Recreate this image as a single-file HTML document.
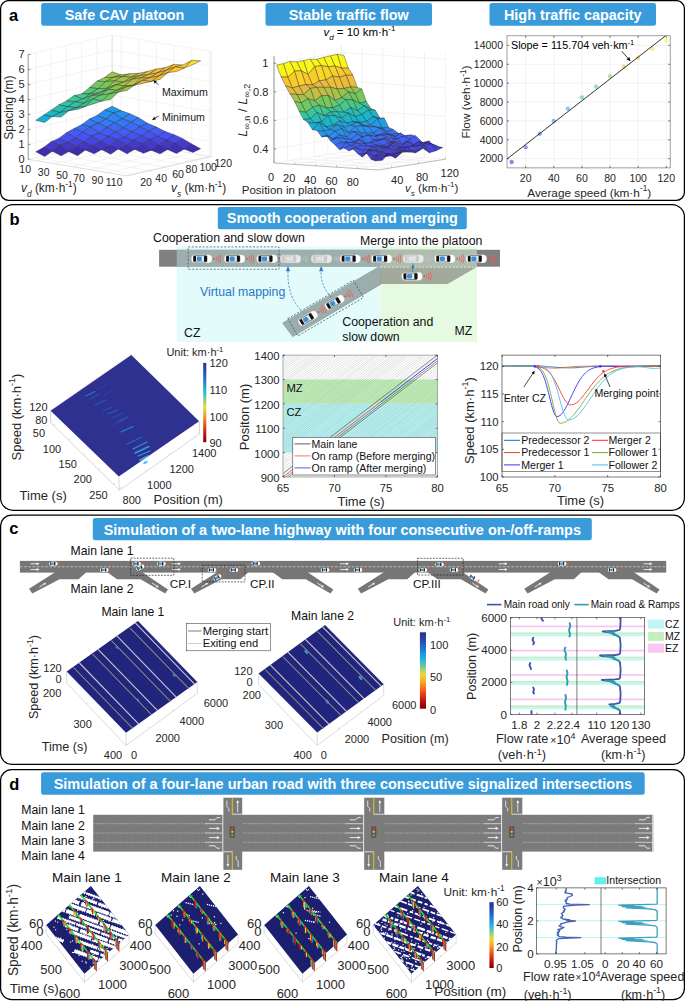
<!DOCTYPE html>
<html><head><meta charset="utf-8"><style>
html,body{margin:0;padding:0;background:#fff;}
svg{display:block;font-family:"Liberation Sans", sans-serif;}
</style></head><body>
<svg width="685" height="1001" viewBox="0 0 685 1001">
<rect x="0.6" y="0.6" width="683.8" height="199.8" fill="none" stroke="#000" stroke-width="1.25" rx="8" />
<rect x="0.6" y="204.5" width="683.8" height="305.9" fill="none" stroke="#000" stroke-width="1.25" rx="12.5" />
<rect x="0.6" y="515" width="683.8" height="249.4" fill="none" stroke="#000" stroke-width="1.25" rx="11" />
<rect x="0.6" y="769.5" width="683.8" height="230.1" fill="none" stroke="#000" stroke-width="1.25" rx="11" />
<rect x="41.2" y="3.1" width="166.8" height="22.6" fill="#3a9bda" stroke="none" stroke-width="1" rx="2.5" />
<text x="124.6" y="19.6" font-size="14.4" text-anchor="middle" font-weight="bold" fill="#fff" >Safe CAV platoon</text>
<rect x="265.5" y="3.1" width="166.5" height="22.6" fill="#3a9bda" stroke="none" stroke-width="1" rx="2.5" />
<text x="348.75" y="19.6" font-size="14.4" text-anchor="middle" font-weight="bold" fill="#fff" >Stable traffic flow</text>
<rect x="489.5" y="3.1" width="166.5" height="22.6" fill="#3a9bda" stroke="none" stroke-width="1" rx="2.5" />
<text x="572.75" y="19.6" font-size="14.4" text-anchor="middle" font-weight="bold" fill="#fff" >High traffic capacity</text>
<rect x="217.8" y="207" width="249" height="22.3" fill="#3a9bda" stroke="none" stroke-width="1" rx="2.5" />
<text x="342.3" y="223.45" font-size="14.45" text-anchor="middle" font-weight="bold" fill="#fff" >Smooth cooperation and merging</text>
<rect x="92.8" y="517.9" width="499" height="22.3" fill="#3a9bda" stroke="none" stroke-width="1" rx="2.5" />
<text x="342.3" y="535.05" font-size="14.45" text-anchor="middle" font-weight="bold" fill="#fff" >Simulation of a two-lane highway with four consecutive on-/off-ramps</text>
<rect x="41.1" y="772.2" width="603.6" height="22.6" fill="#3a9bda" stroke="none" stroke-width="1" rx="2.5" />
<text x="342.9" y="789.1" font-size="14.5" text-anchor="middle" font-weight="bold" fill="#fff" >Simulation of a four-lane urban road with three consecutive signalized intersections</text>
<text x="9" y="20.8" font-size="16.5" text-anchor="start" font-weight="bold" fill="#000" >a</text>
<text x="9.4" y="225.2" font-size="16.5" text-anchor="start" font-weight="bold" fill="#000" >b</text>
<text x="9.2" y="533.6" font-size="16.5" text-anchor="start" font-weight="bold" fill="#000" >c</text>
<text x="9.2" y="790.2" font-size="16.5" text-anchor="start" font-weight="bold" fill="#000" >d</text>
<line x1="35.84" y1="157.55" x2="35.84" y2="52.55" stroke="#e6e6e6" stroke-width="0.5" />
<line x1="51.11" y1="154.04" x2="51.11" y2="49.04" stroke="#e6e6e6" stroke-width="0.5" />
<line x1="66.38" y1="150.53" x2="66.38" y2="45.53" stroke="#e6e6e6" stroke-width="0.5" />
<line x1="81.65" y1="147.02" x2="81.65" y2="42.02" stroke="#e6e6e6" stroke-width="0.5" />
<line x1="96.93" y1="143.51" x2="96.93" y2="38.51" stroke="#e6e6e6" stroke-width="0.5" />
<line x1="112.2" y1="140" x2="112.2" y2="35" stroke="#e6e6e6" stroke-width="0.5" />
<line x1="121.04" y1="141.48" x2="121.04" y2="36.48" stroke="#e6e6e6" stroke-width="0.5" />
<line x1="37.04" y1="160.78" x2="121.04" y2="141.48" stroke="#e6e6e6" stroke-width="0.5" />
<line x1="138.72" y1="144.45" x2="138.72" y2="39.45" stroke="#e6e6e6" stroke-width="0.5" />
<line x1="54.72" y1="163.75" x2="138.72" y2="144.45" stroke="#e6e6e6" stroke-width="0.5" />
<line x1="156.4" y1="147.41" x2="156.4" y2="42.41" stroke="#e6e6e6" stroke-width="0.5" />
<line x1="72.4" y1="166.71" x2="156.4" y2="147.41" stroke="#e6e6e6" stroke-width="0.5" />
<line x1="174.07" y1="150.38" x2="174.07" y2="45.38" stroke="#e6e6e6" stroke-width="0.5" />
<line x1="90.08" y1="169.68" x2="174.07" y2="150.38" stroke="#e6e6e6" stroke-width="0.5" />
<line x1="191.75" y1="153.34" x2="191.75" y2="48.34" stroke="#e6e6e6" stroke-width="0.5" />
<line x1="107.75" y1="172.64" x2="191.75" y2="153.34" stroke="#e6e6e6" stroke-width="0.5" />
<line x1="209.43" y1="156.3" x2="209.43" y2="51.3" stroke="#e6e6e6" stroke-width="0.5" />
<line x1="125.43" y1="175.6" x2="209.43" y2="156.3" stroke="#e6e6e6" stroke-width="0.5" />
<line x1="35.84" y1="157.55" x2="134.84" y2="174.15" stroke="#e6e6e6" stroke-width="0.5" />
<line x1="51.11" y1="154.04" x2="150.11" y2="170.64" stroke="#e6e6e6" stroke-width="0.5" />
<line x1="66.38" y1="150.53" x2="165.38" y2="167.13" stroke="#e6e6e6" stroke-width="0.5" />
<line x1="81.65" y1="147.02" x2="180.65" y2="163.62" stroke="#e6e6e6" stroke-width="0.5" />
<line x1="96.93" y1="143.51" x2="195.93" y2="160.11" stroke="#e6e6e6" stroke-width="0.5" />
<line x1="112.2" y1="140" x2="211.2" y2="156.6" stroke="#e6e6e6" stroke-width="0.5" />
<line x1="28.2" y1="159.3" x2="112.2" y2="140" stroke="#e6e6e6" stroke-width="0.5" />
<line x1="112.2" y1="140" x2="211.2" y2="156.6" stroke="#e6e6e6" stroke-width="0.5" />
<line x1="28.2" y1="144.3" x2="112.2" y2="125" stroke="#e6e6e6" stroke-width="0.5" />
<line x1="112.2" y1="125" x2="211.2" y2="141.6" stroke="#e6e6e6" stroke-width="0.5" />
<line x1="28.2" y1="129.3" x2="112.2" y2="110" stroke="#e6e6e6" stroke-width="0.5" />
<line x1="112.2" y1="110" x2="211.2" y2="126.6" stroke="#e6e6e6" stroke-width="0.5" />
<line x1="28.2" y1="114.3" x2="112.2" y2="95" stroke="#e6e6e6" stroke-width="0.5" />
<line x1="112.2" y1="95" x2="211.2" y2="111.6" stroke="#e6e6e6" stroke-width="0.5" />
<line x1="28.2" y1="99.3" x2="112.2" y2="80" stroke="#e6e6e6" stroke-width="0.5" />
<line x1="112.2" y1="80" x2="211.2" y2="96.6" stroke="#e6e6e6" stroke-width="0.5" />
<line x1="28.2" y1="84.3" x2="112.2" y2="65" stroke="#e6e6e6" stroke-width="0.5" />
<line x1="112.2" y1="65" x2="211.2" y2="81.6" stroke="#e6e6e6" stroke-width="0.5" />
<line x1="28.2" y1="69.3" x2="112.2" y2="50" stroke="#e6e6e6" stroke-width="0.5" />
<line x1="112.2" y1="50" x2="211.2" y2="66.6" stroke="#e6e6e6" stroke-width="0.5" />
<line x1="28.2" y1="54.3" x2="112.2" y2="35" stroke="#e6e6e6" stroke-width="0.5" />
<line x1="112.2" y1="35" x2="211.2" y2="51.6" stroke="#e6e6e6" stroke-width="0.5" />
<line x1="112.2" y1="140" x2="112.2" y2="35" stroke="#d0d0d0" stroke-width="0.5" />
<line x1="211.2" y1="156.6" x2="211.2" y2="51.6" stroke="#d0d0d0" stroke-width="0.5" />
<line x1="28.2" y1="159.3" x2="28.2" y2="54.3" stroke="#4d4d4d" stroke-width="0.6" />
<line x1="28.2" y1="159.3" x2="30.4" y2="159.65" stroke="#4d4d4d" stroke-width="0.6" />
<text x="24.6" y="163.2" font-size="11" text-anchor="end" font-weight="normal" fill="#262626" >0</text>
<line x1="28.2" y1="144.3" x2="30.4" y2="144.65" stroke="#4d4d4d" stroke-width="0.6" />
<text x="24.6" y="148.2" font-size="11" text-anchor="end" font-weight="normal" fill="#262626" >1</text>
<line x1="28.2" y1="129.3" x2="30.4" y2="129.65" stroke="#4d4d4d" stroke-width="0.6" />
<text x="24.6" y="133.2" font-size="11" text-anchor="end" font-weight="normal" fill="#262626" >2</text>
<line x1="28.2" y1="114.3" x2="30.4" y2="114.65" stroke="#4d4d4d" stroke-width="0.6" />
<text x="24.6" y="118.2" font-size="11" text-anchor="end" font-weight="normal" fill="#262626" >3</text>
<line x1="28.2" y1="99.3" x2="30.4" y2="99.65" stroke="#4d4d4d" stroke-width="0.6" />
<text x="24.6" y="103.2" font-size="11" text-anchor="end" font-weight="normal" fill="#262626" >4</text>
<line x1="28.2" y1="84.3" x2="30.4" y2="84.65" stroke="#4d4d4d" stroke-width="0.6" />
<text x="24.6" y="88.2" font-size="11" text-anchor="end" font-weight="normal" fill="#262626" >5</text>
<line x1="28.2" y1="69.3" x2="30.4" y2="69.65" stroke="#4d4d4d" stroke-width="0.6" />
<text x="24.6" y="73.2" font-size="11" text-anchor="end" font-weight="normal" fill="#262626" >6</text>
<line x1="28.2" y1="54.3" x2="30.4" y2="54.65" stroke="#4d4d4d" stroke-width="0.6" />
<text x="24.6" y="58.2" font-size="11" text-anchor="end" font-weight="normal" fill="#262626" >7</text>
<line x1="28.2" y1="159.3" x2="127.2" y2="175.9" stroke="#c8c8c8" stroke-width="0.6" />
<line x1="127.2" y1="175.9" x2="211.2" y2="156.6" stroke="#c8c8c8" stroke-width="0.6" />
<polygon points="104.56,77.47 113.4,77.39 121.04,74.82 112.2,71.81" fill="#9ec44b" stroke="#202020" stroke-width="0.45" stroke-opacity="0.85" stroke-linejoin="round"/>
<polygon points="96.93,81.16 105.77,81.6 113.4,77.39 104.56,77.47" fill="#8bc74e" stroke="#202020" stroke-width="0.45" stroke-opacity="0.85" stroke-linejoin="round"/>
<polygon points="113.4,77.39 122.24,76.44 129.88,73.78 121.04,74.82" fill="#a9c249" stroke="#202020" stroke-width="0.45" stroke-opacity="0.85" stroke-linejoin="round"/>
<polygon points="89.29,87.64 98.13,88.65 105.77,81.6 96.93,81.16" fill="#72c860" stroke="#202020" stroke-width="0.45" stroke-opacity="0.85" stroke-linejoin="round"/>
<polygon points="105.77,81.6 114.61,80.8 122.24,76.44 113.4,77.39" fill="#9bc44b" stroke="#202020" stroke-width="0.45" stroke-opacity="0.85" stroke-linejoin="round"/>
<polygon points="122.24,76.44 131.08,77.3 138.72,73.25 129.88,73.78" fill="#bac045" stroke="#202020" stroke-width="0.45" stroke-opacity="0.85" stroke-linejoin="round"/>
<polygon points="81.65,93.96 90.49,93.63 98.13,88.65 89.29,87.64" fill="#56c87a" stroke="#202020" stroke-width="0.45" stroke-opacity="0.85" stroke-linejoin="round"/>
<polygon points="98.13,88.65 106.97,88.31 114.61,80.8 105.77,81.6" fill="#7ac857" stroke="#202020" stroke-width="0.45" stroke-opacity="0.85" stroke-linejoin="round"/>
<polygon points="114.61,80.8 123.45,82.28 131.08,77.3 122.24,76.44" fill="#a6c349" stroke="#202020" stroke-width="0.45" stroke-opacity="0.85" stroke-linejoin="round"/>
<polygon points="131.08,77.3 139.92,75.61 147.56,71.45 138.72,73.25" fill="#cebd42" stroke="#202020" stroke-width="0.45" stroke-opacity="0.85" stroke-linejoin="round"/>
<polygon points="74.02,95.5 82.86,99.12 90.49,93.63 81.65,93.96" fill="#44c88b" stroke="#202020" stroke-width="0.45" stroke-opacity="0.85" stroke-linejoin="round"/>
<polygon points="90.49,93.63 99.33,93.09 106.97,88.31 98.13,88.65" fill="#5fc871" stroke="#202020" stroke-width="0.45" stroke-opacity="0.85" stroke-linejoin="round"/>
<polygon points="106.97,88.31 115.81,84.89 123.45,82.28 114.61,80.8" fill="#8bc74e" stroke="#202020" stroke-width="0.45" stroke-opacity="0.85" stroke-linejoin="round"/>
<polygon points="123.45,82.28 132.28,79.15 139.92,75.61 131.08,77.3" fill="#b9c046" stroke="#202020" stroke-width="0.45" stroke-opacity="0.85" stroke-linejoin="round"/>
<polygon points="139.92,75.61 148.76,74.54 156.4,69.02 147.56,71.45" fill="#eab93c" stroke="#202020" stroke-width="0.45" stroke-opacity="0.85" stroke-linejoin="round"/>
<polygon points="66.38,100.91 75.22,101.85 82.86,99.12 74.02,95.5" fill="#37c897" stroke="#202020" stroke-width="0.45" stroke-opacity="0.85" stroke-linejoin="round"/>
<polygon points="82.86,99.12 91.7,95.46 99.33,93.09 90.49,93.63" fill="#4fc881" stroke="#202020" stroke-width="0.45" stroke-opacity="0.85" stroke-linejoin="round"/>
<polygon points="99.33,93.09 108.17,89.38 115.81,84.89 106.97,88.31" fill="#75c85c" stroke="#202020" stroke-width="0.45" stroke-opacity="0.85" stroke-linejoin="round"/>
<polygon points="115.81,84.89 124.65,85.73 132.28,79.15 123.45,82.28" fill="#a1c44a" stroke="#202020" stroke-width="0.45" stroke-opacity="0.85" stroke-linejoin="round"/>
<polygon points="132.28,79.15 141.12,77.77 148.76,74.54 139.92,75.61" fill="#d5bc40" stroke="#202020" stroke-width="0.45" stroke-opacity="0.85" stroke-linejoin="round"/>
<polygon points="148.76,74.54 157.6,72.91 165.24,67.54 156.4,69.02" fill="#f0bc37" stroke="#202020" stroke-width="0.45" stroke-opacity="0.85" stroke-linejoin="round"/>
<polygon points="58.75,104.94 67.58,106.71 75.22,101.85 66.38,100.91" fill="#2fc3a4" stroke="#202020" stroke-width="0.45" stroke-opacity="0.85" stroke-linejoin="round"/>
<polygon points="75.22,101.85 84.06,103.34 91.7,95.46 82.86,99.12" fill="#3dc891" stroke="#202020" stroke-width="0.45" stroke-opacity="0.85" stroke-linejoin="round"/>
<polygon points="91.7,95.46 100.54,95.13 108.17,89.38 99.33,93.09" fill="#65c86c" stroke="#202020" stroke-width="0.45" stroke-opacity="0.85" stroke-linejoin="round"/>
<polygon points="108.17,89.38 117.01,90.39 124.65,85.73 115.81,84.89" fill="#88c74f" stroke="#202020" stroke-width="0.45" stroke-opacity="0.85" stroke-linejoin="round"/>
<polygon points="124.65,85.73 133.49,85.3 141.12,77.77 132.28,79.15" fill="#b7c046" stroke="#202020" stroke-width="0.45" stroke-opacity="0.85" stroke-linejoin="round"/>
<polygon points="141.12,77.77 149.96,77.7 157.6,72.91 148.76,74.54" fill="#ebb93c" stroke="#202020" stroke-width="0.45" stroke-opacity="0.85" stroke-linejoin="round"/>
<polygon points="157.6,72.91 166.44,70.16 174.07,64.3 165.24,67.54" fill="#f5c032" stroke="#202020" stroke-width="0.45" stroke-opacity="0.85" stroke-linejoin="round"/>
<polygon points="51.11,110.22 59.95,112.54 67.58,106.71 58.75,104.94" fill="#25bdb5" stroke="#202020" stroke-width="0.45" stroke-opacity="0.85" stroke-linejoin="round"/>
<polygon points="67.58,106.71 76.42,107.65 84.06,103.34 75.22,101.85" fill="#30c4a3" stroke="#202020" stroke-width="0.45" stroke-opacity="0.85" stroke-linejoin="round"/>
<polygon points="84.06,103.34 92.9,98.99 100.54,95.13 91.7,95.46" fill="#51c87f" stroke="#202020" stroke-width="0.45" stroke-opacity="0.85" stroke-linejoin="round"/>
<polygon points="100.54,95.13 109.38,93.92 117.01,90.39 108.17,89.38" fill="#75c85d" stroke="#202020" stroke-width="0.45" stroke-opacity="0.85" stroke-linejoin="round"/>
<polygon points="117.01,90.39 125.85,87.08 133.49,85.3 124.65,85.73" fill="#9ac54c" stroke="#202020" stroke-width="0.45" stroke-opacity="0.85" stroke-linejoin="round"/>
<polygon points="133.49,85.3 142.33,80.3 149.96,77.7 141.12,77.77" fill="#d3bc41" stroke="#202020" stroke-width="0.45" stroke-opacity="0.85" stroke-linejoin="round"/>
<polygon points="149.96,77.7 158.8,75.89 166.44,70.16 157.6,72.91" fill="#f0bc37" stroke="#202020" stroke-width="0.45" stroke-opacity="0.85" stroke-linejoin="round"/>
<polygon points="166.44,70.16 175.28,66.81 182.91,65.07 174.07,64.3" fill="#fac52c" stroke="#202020" stroke-width="0.45" stroke-opacity="0.85" stroke-linejoin="round"/>
<polygon points="43.47,115.17 52.31,116.49 59.95,112.54 51.11,110.22" fill="#1bb7c6" stroke="#202020" stroke-width="0.45" stroke-opacity="0.85" stroke-linejoin="round"/>
<polygon points="59.95,112.54 68.79,110.64 76.42,107.65 67.58,106.71" fill="#28beb1" stroke="#202020" stroke-width="0.45" stroke-opacity="0.85" stroke-linejoin="round"/>
<polygon points="76.42,107.65 85.26,106.39 92.9,98.99 84.06,103.34" fill="#37c897" stroke="#202020" stroke-width="0.45" stroke-opacity="0.85" stroke-linejoin="round"/>
<polygon points="92.9,98.99 101.74,101.1 109.38,93.92 100.54,95.13" fill="#60c870" stroke="#202020" stroke-width="0.45" stroke-opacity="0.85" stroke-linejoin="round"/>
<polygon points="109.38,93.92 118.21,92.17 125.85,87.08 117.01,90.39" fill="#88c74f" stroke="#202020" stroke-width="0.45" stroke-opacity="0.85" stroke-linejoin="round"/>
<polygon points="125.85,87.08 134.69,85.1 142.33,80.3 133.49,85.3" fill="#bebf45" stroke="#202020" stroke-width="0.45" stroke-opacity="0.85" stroke-linejoin="round"/>
<polygon points="142.33,80.3 151.17,81.54 158.8,75.89 149.96,77.7" fill="#ebb93c" stroke="#202020" stroke-width="0.45" stroke-opacity="0.85" stroke-linejoin="round"/>
<polygon points="158.8,75.89 167.64,72.68 175.28,66.81 166.44,70.16" fill="#f6c031" stroke="#202020" stroke-width="0.45" stroke-opacity="0.85" stroke-linejoin="round"/>
<polygon points="175.28,66.81 184.12,68.12 191.75,60.27 182.91,65.07" fill="#f9d128" stroke="#202020" stroke-width="0.45" stroke-opacity="0.85" stroke-linejoin="round"/>
<polygon points="35.84,120.35 44.68,122.53 52.31,116.49 43.47,115.17" fill="#13b0d7" stroke="#202020" stroke-width="0.45" stroke-opacity="0.85" stroke-linejoin="round"/>
<polygon points="52.31,116.49 61.15,117.12 68.79,110.64 59.95,112.54" fill="#1eb9c1" stroke="#202020" stroke-width="0.45" stroke-opacity="0.85" stroke-linejoin="round"/>
<polygon points="68.79,110.64 77.63,109.44 85.26,106.39 76.42,107.65" fill="#2fc3a5" stroke="#202020" stroke-width="0.45" stroke-opacity="0.85" stroke-linejoin="round"/>
<polygon points="85.26,106.39 94.1,103.69 101.74,101.1 92.9,98.99" fill="#4ac885" stroke="#202020" stroke-width="0.45" stroke-opacity="0.85" stroke-linejoin="round"/>
<polygon points="101.74,101.1 110.58,99.54 118.21,92.17 109.38,93.92" fill="#6dc864" stroke="#202020" stroke-width="0.45" stroke-opacity="0.85" stroke-linejoin="round"/>
<polygon points="118.21,92.17 127.05,90.48 134.69,85.1 125.85,87.08" fill="#a8c349" stroke="#202020" stroke-width="0.45" stroke-opacity="0.85" stroke-linejoin="round"/>
<polygon points="134.69,85.1 143.53,83.22 151.17,81.54 142.33,80.3" fill="#dcbb3f" stroke="#202020" stroke-width="0.45" stroke-opacity="0.85" stroke-linejoin="round"/>
<polygon points="151.17,81.54 160.01,79.38 167.64,72.68 158.8,75.89" fill="#f0bc37" stroke="#202020" stroke-width="0.45" stroke-opacity="0.85" stroke-linejoin="round"/>
<polygon points="167.64,72.68 176.48,71.56 184.12,68.12 175.28,66.81" fill="#fac52c" stroke="#202020" stroke-width="0.45" stroke-opacity="0.85" stroke-linejoin="round"/>
<polygon points="184.12,68.12 192.96,64.56 200.59,60.83 191.75,60.27" fill="#f8de24" stroke="#202020" stroke-width="0.45" stroke-opacity="0.85" stroke-linejoin="round"/>
<polygon points="104.56,109.96 113.4,112.99 121.04,110.62 112.2,106.23" fill="#2397ea" stroke="#202020" stroke-width="0.45" stroke-opacity="0.85" stroke-linejoin="round"/>
<polygon points="96.93,115.52 105.77,118.99 113.4,112.99 104.56,109.96" fill="#298ef1" stroke="#202020" stroke-width="0.45" stroke-opacity="0.85" stroke-linejoin="round"/>
<polygon points="113.4,112.99 122.24,118.78 129.88,113.75 121.04,110.62" fill="#298ef1" stroke="#202020" stroke-width="0.45" stroke-opacity="0.85" stroke-linejoin="round"/>
<polygon points="89.29,119 98.13,123.16 105.77,118.99 96.93,115.52" fill="#3082f7" stroke="#202020" stroke-width="0.45" stroke-opacity="0.85" stroke-linejoin="round"/>
<polygon points="105.77,118.99 114.61,122.74 122.24,118.78 113.4,112.99" fill="#2f85f7" stroke="#202020" stroke-width="0.45" stroke-opacity="0.85" stroke-linejoin="round"/>
<polygon points="122.24,118.78 131.08,122.09 138.72,117.72 129.88,113.75" fill="#2f85f7" stroke="#202020" stroke-width="0.45" stroke-opacity="0.85" stroke-linejoin="round"/>
<polygon points="81.65,124.68 90.49,126.88 98.13,123.16 89.29,119" fill="#3677f6" stroke="#202020" stroke-width="0.45" stroke-opacity="0.85" stroke-linejoin="round"/>
<polygon points="98.13,123.16 106.97,127.48 114.61,122.74 105.77,118.99" fill="#3678f6" stroke="#202020" stroke-width="0.45" stroke-opacity="0.85" stroke-linejoin="round"/>
<polygon points="114.61,122.74 123.45,127.89 131.08,122.09 122.24,118.78" fill="#3677f6" stroke="#202020" stroke-width="0.45" stroke-opacity="0.85" stroke-linejoin="round"/>
<polygon points="131.08,122.09 139.92,126.52 147.56,123.36 138.72,117.72" fill="#3578f6" stroke="#202020" stroke-width="0.45" stroke-opacity="0.85" stroke-linejoin="round"/>
<polygon points="74.02,128.55 82.86,132.25 90.49,126.88 81.65,124.68" fill="#3c6bf5" stroke="#202020" stroke-width="0.45" stroke-opacity="0.85" stroke-linejoin="round"/>
<polygon points="90.49,126.88 99.33,133.05 106.97,127.48 98.13,123.16" fill="#3c6bf5" stroke="#202020" stroke-width="0.45" stroke-opacity="0.85" stroke-linejoin="round"/>
<polygon points="106.97,127.48 115.81,132.12 123.45,127.89 114.61,122.74" fill="#3c6af5" stroke="#202020" stroke-width="0.45" stroke-opacity="0.85" stroke-linejoin="round"/>
<polygon points="123.45,127.89 132.28,131.93 139.92,126.52 131.08,122.09" fill="#3c6bf5" stroke="#202020" stroke-width="0.45" stroke-opacity="0.85" stroke-linejoin="round"/>
<polygon points="139.92,126.52 148.76,131.27 156.4,126.97 147.56,123.36" fill="#3c6af5" stroke="#202020" stroke-width="0.45" stroke-opacity="0.85" stroke-linejoin="round"/>
<polygon points="66.38,132.74 75.22,137.82 82.86,132.25 74.02,128.55" fill="#425df5" stroke="#202020" stroke-width="0.45" stroke-opacity="0.85" stroke-linejoin="round"/>
<polygon points="82.86,132.25 91.7,136.13 99.33,133.05 90.49,126.88" fill="#415ff5" stroke="#202020" stroke-width="0.45" stroke-opacity="0.85" stroke-linejoin="round"/>
<polygon points="99.33,133.05 108.17,136.41 115.81,132.12 106.97,127.48" fill="#425df5" stroke="#202020" stroke-width="0.45" stroke-opacity="0.85" stroke-linejoin="round"/>
<polygon points="115.81,132.12 124.65,137.26 132.28,131.93 123.45,127.89" fill="#435cf5" stroke="#202020" stroke-width="0.45" stroke-opacity="0.85" stroke-linejoin="round"/>
<polygon points="132.28,131.93 141.12,135.84 148.76,131.27 139.92,126.52" fill="#425ff5" stroke="#202020" stroke-width="0.45" stroke-opacity="0.85" stroke-linejoin="round"/>
<polygon points="148.76,131.27 157.6,136.31 165.24,131.47 156.4,126.97" fill="#435df5" stroke="#202020" stroke-width="0.45" stroke-opacity="0.85" stroke-linejoin="round"/>
<polygon points="58.75,138.46 67.58,142.67 75.22,137.82 66.38,132.74" fill="#474fee" stroke="#202020" stroke-width="0.45" stroke-opacity="0.85" stroke-linejoin="round"/>
<polygon points="75.22,137.82 84.06,141.95 91.7,136.13 82.86,132.25" fill="#4851f3" stroke="#202020" stroke-width="0.45" stroke-opacity="0.85" stroke-linejoin="round"/>
<polygon points="91.7,136.13 100.54,141.67 108.17,136.41 99.33,133.05" fill="#4851f3" stroke="#202020" stroke-width="0.45" stroke-opacity="0.85" stroke-linejoin="round"/>
<polygon points="108.17,136.41 117.01,139.79 124.65,137.26 115.81,132.12" fill="#4852f4" stroke="#202020" stroke-width="0.45" stroke-opacity="0.85" stroke-linejoin="round"/>
<polygon points="124.65,137.26 133.49,140.21 141.12,135.84 132.28,131.93" fill="#4851f2" stroke="#202020" stroke-width="0.45" stroke-opacity="0.85" stroke-linejoin="round"/>
<polygon points="141.12,135.84 149.96,139.63 157.6,136.31 148.76,131.27" fill="#4852f4" stroke="#202020" stroke-width="0.45" stroke-opacity="0.85" stroke-linejoin="round"/>
<polygon points="157.6,136.31 166.44,140.39 174.07,134.63 165.24,131.47" fill="#4851f3" stroke="#202020" stroke-width="0.45" stroke-opacity="0.85" stroke-linejoin="round"/>
<polygon points="51.11,141.67 59.95,145.58 67.58,142.67 58.75,138.46" fill="#4545dd" stroke="#202020" stroke-width="0.45" stroke-opacity="0.85" stroke-linejoin="round"/>
<polygon points="67.58,142.67 76.42,147.01 84.06,141.95 75.22,137.82" fill="#4442d9" stroke="#202020" stroke-width="0.45" stroke-opacity="0.85" stroke-linejoin="round"/>
<polygon points="84.06,141.95 92.9,146 100.54,141.67 91.7,136.13" fill="#4545de" stroke="#202020" stroke-width="0.45" stroke-opacity="0.85" stroke-linejoin="round"/>
<polygon points="100.54,141.67 109.38,146.06 117.01,139.79 108.17,136.41" fill="#4546df" stroke="#202020" stroke-width="0.45" stroke-opacity="0.85" stroke-linejoin="round"/>
<polygon points="117.01,139.79 125.85,145.73 133.49,140.21 124.65,137.26" fill="#4546df" stroke="#202020" stroke-width="0.45" stroke-opacity="0.85" stroke-linejoin="round"/>
<polygon points="133.49,140.21 142.33,143.82 149.96,139.63 141.12,135.84" fill="#4648e3" stroke="#202020" stroke-width="0.45" stroke-opacity="0.85" stroke-linejoin="round"/>
<polygon points="149.96,139.63 158.8,145.34 166.44,140.39 157.6,136.31" fill="#4545dd" stroke="#202020" stroke-width="0.45" stroke-opacity="0.85" stroke-linejoin="round"/>
<polygon points="166.44,140.39 175.28,143.54 182.91,138.76 174.07,134.63" fill="#4648e3" stroke="#202020" stroke-width="0.45" stroke-opacity="0.85" stroke-linejoin="round"/>
<polygon points="43.47,147.48 52.31,151.15 59.95,145.58 51.11,141.67" fill="#423aca" stroke="#202020" stroke-width="0.45" stroke-opacity="0.85" stroke-linejoin="round"/>
<polygon points="59.95,145.58 68.79,151.55 76.42,147.01 67.58,142.67" fill="#4238c6" stroke="#202020" stroke-width="0.45" stroke-opacity="0.85" stroke-linejoin="round"/>
<polygon points="76.42,147.01 85.26,150 92.9,146 84.06,141.95" fill="#4238c8" stroke="#202020" stroke-width="0.45" stroke-opacity="0.85" stroke-linejoin="round"/>
<polygon points="92.9,146 101.74,149.61 109.38,146.06 100.54,141.67" fill="#4239c9" stroke="#202020" stroke-width="0.45" stroke-opacity="0.85" stroke-linejoin="round"/>
<polygon points="109.38,146.06 118.21,148.98 125.85,145.73 117.01,139.79" fill="#433bcc" stroke="#202020" stroke-width="0.45" stroke-opacity="0.85" stroke-linejoin="round"/>
<polygon points="125.85,145.73 134.69,149.26 142.33,143.82 133.49,140.21" fill="#433bcd" stroke="#202020" stroke-width="0.45" stroke-opacity="0.85" stroke-linejoin="round"/>
<polygon points="142.33,143.82 151.17,150.23 158.8,145.34 149.96,139.63" fill="#433acb" stroke="#202020" stroke-width="0.45" stroke-opacity="0.85" stroke-linejoin="round"/>
<polygon points="158.8,145.34 167.64,149.41 175.28,143.54 166.44,140.39" fill="#4239c9" stroke="#202020" stroke-width="0.45" stroke-opacity="0.85" stroke-linejoin="round"/>
<polygon points="175.28,143.54 184.12,149.11 191.75,144.03 182.91,138.76" fill="#433bcd" stroke="#202020" stroke-width="0.45" stroke-opacity="0.85" stroke-linejoin="round"/>
<polygon points="35.84,151.67 44.68,156.56 52.31,151.15 43.47,147.48" fill="#3f2bb1" stroke="#202020" stroke-width="0.45" stroke-opacity="0.85" stroke-linejoin="round"/>
<polygon points="52.31,151.15 61.15,155.81 68.79,151.55 59.95,145.58" fill="#402db4" stroke="#202020" stroke-width="0.45" stroke-opacity="0.85" stroke-linejoin="round"/>
<polygon points="68.79,151.55 77.63,155.74 85.26,150 76.42,147.01" fill="#3f2bb1" stroke="#202020" stroke-width="0.45" stroke-opacity="0.85" stroke-linejoin="round"/>
<polygon points="85.26,150 94.1,153.86 101.74,149.61 92.9,146" fill="#402fb8" stroke="#202020" stroke-width="0.45" stroke-opacity="0.85" stroke-linejoin="round"/>
<polygon points="101.74,149.61 110.58,154.31 118.21,148.98 109.38,146.06" fill="#402fb7" stroke="#202020" stroke-width="0.45" stroke-opacity="0.85" stroke-linejoin="round"/>
<polygon points="118.21,148.98 127.05,153.73 134.69,149.26 125.85,145.73" fill="#402fb7" stroke="#202020" stroke-width="0.45" stroke-opacity="0.85" stroke-linejoin="round"/>
<polygon points="134.69,149.26 143.53,153.3 151.17,150.23 142.33,143.82" fill="#402fb7" stroke="#202020" stroke-width="0.45" stroke-opacity="0.85" stroke-linejoin="round"/>
<polygon points="151.17,150.23 160.01,153.87 167.64,149.41 158.8,145.34" fill="#3f2bb1" stroke="#202020" stroke-width="0.45" stroke-opacity="0.85" stroke-linejoin="round"/>
<polygon points="167.64,149.41 176.48,153.59 184.12,149.11 175.28,143.54" fill="#402eb5" stroke="#202020" stroke-width="0.45" stroke-opacity="0.85" stroke-linejoin="round"/>
<polygon points="184.12,149.11 192.96,152.41 200.59,148.78 191.75,144.03" fill="#402eb6" stroke="#202020" stroke-width="0.45" stroke-opacity="0.85" stroke-linejoin="round"/>
<text x="25.2" y="173.1" font-size="10.5" text-anchor="middle" font-weight="normal" fill="#262626" >10</text>
<text x="43.7" y="176.4" font-size="10.5" text-anchor="middle" font-weight="normal" fill="#262626" >30</text>
<text x="62" y="179.3" font-size="10.5" text-anchor="middle" font-weight="normal" fill="#262626" >50</text>
<text x="79" y="181.5" font-size="10.5" text-anchor="middle" font-weight="normal" fill="#262626" >70</text>
<text x="97.4" y="183.7" font-size="10.5" text-anchor="middle" font-weight="normal" fill="#262626" >90</text>
<text x="114.2" y="185.7" font-size="10.5" text-anchor="middle" font-weight="normal" fill="#262626" >110</text>
<text x="146" y="185.9" font-size="10.5" text-anchor="middle" font-weight="normal" fill="#262626" >20</text>
<text x="161.2" y="181.5" font-size="10.5" text-anchor="middle" font-weight="normal" fill="#262626" >40</text>
<text x="178" y="177.5" font-size="10.5" text-anchor="middle" font-weight="normal" fill="#262626" >60</text>
<text x="191.4" y="173.1" font-size="10.5" text-anchor="middle" font-weight="normal" fill="#262626" >80</text>
<text x="208.2" y="171.4" font-size="10.5" text-anchor="middle" font-weight="normal" fill="#262626" >100</text>
<text x="223.3" y="167.4" font-size="10.5" text-anchor="middle" font-weight="normal" fill="#262626" >120</text>
<text x="12.6" y="107.7" font-size="11.9" text-anchor="middle" font-weight="normal" fill="#262626" transform="rotate(-90 12.6 107.7)">Spacing (m)</text>
<text x="21" y="192.4" font-size="11.9" fill="#262626"><tspan font-style="italic">v</tspan><tspan dy="4.2" font-size="8.3" font-style="italic">d</tspan><tspan dy="-4.2"> </tspan>(km·h<tspan dy="-5.2" font-size="8.3">-1</tspan><tspan dy="5.2">)</tspan></text>
<text x="171" y="192.4" font-size="11.9" fill="#262626"><tspan font-style="italic">v</tspan><tspan dy="4.2" font-size="8.3" font-style="italic">s</tspan><tspan dy="-4.2"> </tspan>(km·h<tspan dy="-5.2" font-size="8.3">-1</tspan><tspan dy="5.2">)</tspan></text>
<text x="161.9" y="95.7" font-size="10.6" text-anchor="start" font-weight="normal" fill="#1a1a1a" >Maximum</text>
<text x="161.9" y="120.6" font-size="10.6" text-anchor="start" font-weight="normal" fill="#1a1a1a" >Minimum</text>
<line x1="158.6" y1="84.8" x2="153.4" y2="80.4" stroke="#000" stroke-width="0.7" />
<polygon points="153.4,80.4 156.88,81.25 154.81,83.69" fill="#000" stroke="none" stroke-width="1" />
<line x1="158.8" y1="116" x2="152.3" y2="119.8" stroke="#000" stroke-width="0.7" />
<polygon points="152.3,119.8 154.26,116.8 155.87,119.57" fill="#000" stroke="none" stroke-width="1" />
<line x1="274" y1="163" x2="274" y2="56.12" stroke="#e6e6e6" stroke-width="0.5" />
<line x1="274" y1="163" x2="378.2" y2="170" stroke="#e6e6e6" stroke-width="0.5" />
<line x1="287.44" y1="160.84" x2="287.44" y2="53.97" stroke="#e6e6e6" stroke-width="0.5" />
<line x1="287.44" y1="160.84" x2="391.64" y2="167.84" stroke="#e6e6e6" stroke-width="0.5" />
<line x1="300.88" y1="158.68" x2="300.88" y2="51.81" stroke="#e6e6e6" stroke-width="0.5" />
<line x1="300.88" y1="158.68" x2="405.08" y2="165.68" stroke="#e6e6e6" stroke-width="0.5" />
<line x1="314.32" y1="156.52" x2="314.32" y2="49.64" stroke="#e6e6e6" stroke-width="0.5" />
<line x1="314.32" y1="156.52" x2="418.52" y2="163.52" stroke="#e6e6e6" stroke-width="0.5" />
<line x1="327.76" y1="154.36" x2="327.76" y2="47.48" stroke="#e6e6e6" stroke-width="0.5" />
<line x1="327.76" y1="154.36" x2="431.96" y2="161.36" stroke="#e6e6e6" stroke-width="0.5" />
<line x1="341.2" y1="152.2" x2="341.2" y2="45.32" stroke="#e6e6e6" stroke-width="0.5" />
<line x1="341.2" y1="152.2" x2="445.4" y2="159.2" stroke="#e6e6e6" stroke-width="0.5" />
<line x1="341.2" y1="152.2" x2="341.2" y2="45.32" stroke="#e6e6e6" stroke-width="0.5" />
<line x1="274" y1="163" x2="341.2" y2="152.2" stroke="#e6e6e6" stroke-width="0.5" />
<line x1="362.04" y1="153.6" x2="362.04" y2="46.72" stroke="#e6e6e6" stroke-width="0.5" />
<line x1="294.84" y1="164.4" x2="362.04" y2="153.6" stroke="#e6e6e6" stroke-width="0.5" />
<line x1="382.88" y1="155" x2="382.88" y2="48.12" stroke="#e6e6e6" stroke-width="0.5" />
<line x1="315.68" y1="165.8" x2="382.88" y2="155" stroke="#e6e6e6" stroke-width="0.5" />
<line x1="403.72" y1="156.4" x2="403.72" y2="49.52" stroke="#e6e6e6" stroke-width="0.5" />
<line x1="336.52" y1="167.2" x2="403.72" y2="156.4" stroke="#e6e6e6" stroke-width="0.5" />
<line x1="424.56" y1="157.8" x2="424.56" y2="50.92" stroke="#e6e6e6" stroke-width="0.5" />
<line x1="357.36" y1="168.6" x2="424.56" y2="157.8" stroke="#e6e6e6" stroke-width="0.5" />
<line x1="445.4" y1="159.2" x2="445.4" y2="52.32" stroke="#e6e6e6" stroke-width="0.5" />
<line x1="378.2" y1="170" x2="445.4" y2="159.2" stroke="#e6e6e6" stroke-width="0.5" />
<line x1="274" y1="148.75" x2="341.2" y2="137.95" stroke="#e6e6e6" stroke-width="0.5" />
<line x1="341.2" y1="137.95" x2="445.4" y2="144.95" stroke="#e6e6e6" stroke-width="0.5" />
<line x1="274" y1="120.25" x2="341.2" y2="109.45" stroke="#e6e6e6" stroke-width="0.5" />
<line x1="341.2" y1="109.45" x2="445.4" y2="116.45" stroke="#e6e6e6" stroke-width="0.5" />
<line x1="274" y1="91.75" x2="341.2" y2="80.95" stroke="#e6e6e6" stroke-width="0.5" />
<line x1="341.2" y1="80.95" x2="445.4" y2="87.95" stroke="#e6e6e6" stroke-width="0.5" />
<line x1="274" y1="63.25" x2="341.2" y2="52.45" stroke="#e6e6e6" stroke-width="0.5" />
<line x1="341.2" y1="52.45" x2="445.4" y2="59.45" stroke="#e6e6e6" stroke-width="0.5" />
<line x1="274" y1="163" x2="274" y2="56.12" stroke="#4d4d4d" stroke-width="0.6" />
<line x1="274" y1="148.75" x2="276.2" y2="148.95" stroke="#4d4d4d" stroke-width="0.6" />
<text x="268.4" y="152.65" font-size="11" text-anchor="end" font-weight="normal" fill="#262626" >0.4</text>
<line x1="274" y1="120.25" x2="276.2" y2="120.45" stroke="#4d4d4d" stroke-width="0.6" />
<text x="268.4" y="124.15" font-size="11" text-anchor="end" font-weight="normal" fill="#262626" >0.6</text>
<line x1="274" y1="91.75" x2="276.2" y2="91.95" stroke="#4d4d4d" stroke-width="0.6" />
<text x="268.4" y="95.65" font-size="11" text-anchor="end" font-weight="normal" fill="#262626" >0.8</text>
<line x1="274" y1="63.25" x2="276.2" y2="63.45" stroke="#4d4d4d" stroke-width="0.6" />
<text x="268.4" y="67.15" font-size="11" text-anchor="end" font-weight="normal" fill="#262626" >1</text>
<line x1="274" y1="163" x2="378.2" y2="170" stroke="#9a9a9a" stroke-width="0.6" />
<line x1="378.2" y1="170" x2="445.4" y2="159.2" stroke="#9a9a9a" stroke-width="0.6" />
<line x1="274" y1="163" x2="274" y2="161" stroke="#9a9a9a" stroke-width="0.6" />
<line x1="294.84" y1="164.4" x2="294.84" y2="162.4" stroke="#9a9a9a" stroke-width="0.6" />
<line x1="315.68" y1="165.8" x2="315.68" y2="163.8" stroke="#9a9a9a" stroke-width="0.6" />
<line x1="336.52" y1="167.2" x2="336.52" y2="165.2" stroke="#9a9a9a" stroke-width="0.6" />
<line x1="357.36" y1="168.6" x2="357.36" y2="166.6" stroke="#9a9a9a" stroke-width="0.6" />
<line x1="391.64" y1="167.84" x2="391.64" y2="165.84" stroke="#9a9a9a" stroke-width="0.6" />
<line x1="418.52" y1="163.52" x2="418.52" y2="161.52" stroke="#9a9a9a" stroke-width="0.6" />
<line x1="445.4" y1="159.2" x2="445.4" y2="157.2" stroke="#9a9a9a" stroke-width="0.6" />
<polygon points="337.09,54.3 341.58,68.14 348.3,68.08 343.81,55.21" fill="#f9f518" stroke="#202020" stroke-width="0.45" stroke-opacity="0.85" stroke-linejoin="round"/>
<polygon points="330.37,55.84 334.86,65.96 341.58,68.14 337.09,54.3" fill="#f9f817" stroke="#202020" stroke-width="0.45" stroke-opacity="0.85" stroke-linejoin="round"/>
<polygon points="323.64,57.26 328.14,66.76 334.86,65.96 330.37,55.84" fill="#f9f618" stroke="#202020" stroke-width="0.45" stroke-opacity="0.85" stroke-linejoin="round"/>
<polygon points="341.58,68.14 346.08,75.22 352.8,75.14 348.3,68.08" fill="#f8c22f" stroke="#202020" stroke-width="0.45" stroke-opacity="0.85" stroke-linejoin="round"/>
<polygon points="316.93,59.27 321.42,65.63 328.14,66.76 323.64,57.26" fill="#f9f319" stroke="#202020" stroke-width="0.45" stroke-opacity="0.85" stroke-linejoin="round"/>
<polygon points="334.86,65.96 339.36,77.16 346.08,75.22 341.58,68.14" fill="#fac82b" stroke="#202020" stroke-width="0.45" stroke-opacity="0.85" stroke-linejoin="round"/>
<polygon points="310.21,59.2 314.7,66.58 321.42,65.63 316.93,59.27" fill="#f9f419" stroke="#202020" stroke-width="0.45" stroke-opacity="0.85" stroke-linejoin="round"/>
<polygon points="328.14,66.76 332.64,75.94 339.36,77.16 334.86,65.96" fill="#f9cf29" stroke="#202020" stroke-width="0.45" stroke-opacity="0.85" stroke-linejoin="round"/>
<polygon points="346.08,75.22 350.58,86.95 357.3,87.43 352.8,75.14" fill="#eebb39" stroke="#202020" stroke-width="0.45" stroke-opacity="0.85" stroke-linejoin="round"/>
<polygon points="303.49,60.51 307.98,74.36 314.7,66.58 310.21,59.2" fill="#f9f618" stroke="#202020" stroke-width="0.45" stroke-opacity="0.85" stroke-linejoin="round"/>
<polygon points="321.42,65.63 325.92,79.88 332.64,75.94 328.14,66.76" fill="#f9d427" stroke="#202020" stroke-width="0.45" stroke-opacity="0.85" stroke-linejoin="round"/>
<polygon points="339.36,77.16 343.86,88.45 350.58,86.95 346.08,75.22" fill="#eebb39" stroke="#202020" stroke-width="0.45" stroke-opacity="0.85" stroke-linejoin="round"/>
<polygon points="296.76,61.71 301.26,70.8 307.98,74.36 303.49,60.51" fill="#f9f518" stroke="#202020" stroke-width="0.45" stroke-opacity="0.85" stroke-linejoin="round"/>
<polygon points="314.7,66.58 319.2,80.8 325.92,79.88 321.42,65.63" fill="#f9d926" stroke="#202020" stroke-width="0.45" stroke-opacity="0.85" stroke-linejoin="round"/>
<polygon points="332.64,75.94 337.14,88.92 343.86,88.45 339.36,77.16" fill="#efbc38" stroke="#202020" stroke-width="0.45" stroke-opacity="0.85" stroke-linejoin="round"/>
<polygon points="350.58,86.95 355.08,93.76 361.8,89.05 357.3,87.43" fill="#91c64d" stroke="#202020" stroke-width="0.45" stroke-opacity="0.85" stroke-linejoin="round"/>
<polygon points="290.05,61.48 294.54,71.05 301.26,70.8 296.76,61.71" fill="#f9f717" stroke="#202020" stroke-width="0.45" stroke-opacity="0.85" stroke-linejoin="round"/>
<polygon points="307.98,74.36 312.48,84.97 319.2,80.8 314.7,66.58" fill="#f9cc2a" stroke="#202020" stroke-width="0.45" stroke-opacity="0.85" stroke-linejoin="round"/>
<polygon points="325.92,79.88 330.42,87.21 337.14,88.92 332.64,75.94" fill="#efbb38" stroke="#202020" stroke-width="0.45" stroke-opacity="0.85" stroke-linejoin="round"/>
<polygon points="343.86,88.45 348.36,91.71 355.08,93.76 350.58,86.95" fill="#96c54c" stroke="#202020" stroke-width="0.45" stroke-opacity="0.85" stroke-linejoin="round"/>
<polygon points="283.33,63.6 287.82,77.26 294.54,71.05 290.05,61.48" fill="#f9f817" stroke="#202020" stroke-width="0.45" stroke-opacity="0.85" stroke-linejoin="round"/>
<polygon points="301.26,70.8 305.76,84.54 312.48,84.97 307.98,74.36" fill="#fac72c" stroke="#202020" stroke-width="0.45" stroke-opacity="0.85" stroke-linejoin="round"/>
<polygon points="319.2,80.8 323.7,87.34 330.42,87.21 325.92,79.88" fill="#ecba3b" stroke="#202020" stroke-width="0.45" stroke-opacity="0.85" stroke-linejoin="round"/>
<polygon points="337.14,88.92 341.64,97.78 348.36,91.71 343.86,88.45" fill="#97c54c" stroke="#202020" stroke-width="0.45" stroke-opacity="0.85" stroke-linejoin="round"/>
<polygon points="355.08,93.76 359.58,103.39 366.3,101.39 361.8,89.05" fill="#73c85e" stroke="#202020" stroke-width="0.45" stroke-opacity="0.85" stroke-linejoin="round"/>
<polygon points="276.61,64.99 281.1,76.82 287.82,77.26 283.33,63.6" fill="#f9f518" stroke="#202020" stroke-width="0.45" stroke-opacity="0.85" stroke-linejoin="round"/>
<polygon points="294.54,71.05 299.04,85.99 305.76,84.54 301.26,70.8" fill="#f9d328" stroke="#202020" stroke-width="0.45" stroke-opacity="0.85" stroke-linejoin="round"/>
<polygon points="312.48,84.97 316.98,87.32 323.7,87.34 319.2,80.8" fill="#e6ba3d" stroke="#202020" stroke-width="0.45" stroke-opacity="0.85" stroke-linejoin="round"/>
<polygon points="330.42,87.21 334.92,100.35 341.64,97.78 337.14,88.92" fill="#a6c349" stroke="#202020" stroke-width="0.45" stroke-opacity="0.85" stroke-linejoin="round"/>
<polygon points="348.36,91.71 352.86,99.91 359.58,103.39 355.08,93.76" fill="#72c860" stroke="#202020" stroke-width="0.45" stroke-opacity="0.85" stroke-linejoin="round"/>
<polygon points="287.82,77.26 292.32,88 299.04,85.99 294.54,71.05" fill="#faca2b" stroke="#202020" stroke-width="0.45" stroke-opacity="0.85" stroke-linejoin="round"/>
<polygon points="305.76,84.54 310.26,88.38 316.98,87.32 312.48,84.97" fill="#dfbb3e" stroke="#202020" stroke-width="0.45" stroke-opacity="0.85" stroke-linejoin="round"/>
<polygon points="323.7,87.34 328.2,95.4 334.92,100.35 330.42,87.21" fill="#b7c046" stroke="#202020" stroke-width="0.45" stroke-opacity="0.85" stroke-linejoin="round"/>
<polygon points="341.64,97.78 346.14,99.52 352.86,99.91 348.36,91.71" fill="#6cc865" stroke="#202020" stroke-width="0.45" stroke-opacity="0.85" stroke-linejoin="round"/>
<polygon points="359.58,103.39 364.08,105.9 370.8,108.58 366.3,101.39" fill="#33c59f" stroke="#202020" stroke-width="0.45" stroke-opacity="0.85" stroke-linejoin="round"/>
<polygon points="281.1,76.82 285.6,85.74 292.32,88 287.82,77.26" fill="#fac32d" stroke="#202020" stroke-width="0.45" stroke-opacity="0.85" stroke-linejoin="round"/>
<polygon points="299.04,85.99 303.54,94.59 310.26,88.38 305.76,84.54" fill="#e4ba3d" stroke="#202020" stroke-width="0.45" stroke-opacity="0.85" stroke-linejoin="round"/>
<polygon points="316.98,87.32 321.48,95.69 328.2,95.4 323.7,87.34" fill="#c0bf44" stroke="#202020" stroke-width="0.45" stroke-opacity="0.85" stroke-linejoin="round"/>
<polygon points="334.92,100.35 339.42,105.1 346.14,99.52 341.64,97.78" fill="#57c879" stroke="#202020" stroke-width="0.45" stroke-opacity="0.85" stroke-linejoin="round"/>
<polygon points="352.86,99.91 357.36,110.63 364.08,105.9 359.58,103.39" fill="#3ac894" stroke="#202020" stroke-width="0.45" stroke-opacity="0.85" stroke-linejoin="round"/>
<polygon points="292.32,88 296.82,94.39 303.54,94.59 299.04,85.99" fill="#debb3e" stroke="#202020" stroke-width="0.45" stroke-opacity="0.85" stroke-linejoin="round"/>
<polygon points="310.26,88.38 314.76,100.84 321.48,95.69 316.98,87.32" fill="#c6be43" stroke="#202020" stroke-width="0.45" stroke-opacity="0.85" stroke-linejoin="round"/>
<polygon points="328.2,95.4 332.7,107.93 339.42,105.1 334.92,100.35" fill="#65c86b" stroke="#202020" stroke-width="0.45" stroke-opacity="0.85" stroke-linejoin="round"/>
<polygon points="346.14,99.52 350.64,107.43 357.36,110.63 352.86,99.91" fill="#4dc882" stroke="#202020" stroke-width="0.45" stroke-opacity="0.85" stroke-linejoin="round"/>
<polygon points="364.08,105.9 368.58,109.91 375.3,110.34 370.8,108.58" fill="#24bcb7" stroke="#202020" stroke-width="0.45" stroke-opacity="0.85" stroke-linejoin="round"/>
<polygon points="285.6,85.74 290.1,94.01 296.82,94.39 292.32,88" fill="#e9b93c" stroke="#202020" stroke-width="0.45" stroke-opacity="0.85" stroke-linejoin="round"/>
<polygon points="303.54,94.59 308.04,98.64 314.76,100.84 310.26,88.38" fill="#aec248" stroke="#202020" stroke-width="0.45" stroke-opacity="0.85" stroke-linejoin="round"/>
<polygon points="321.48,95.69 325.98,107.71 332.7,107.93 328.2,95.4" fill="#7bc856" stroke="#202020" stroke-width="0.45" stroke-opacity="0.85" stroke-linejoin="round"/>
<polygon points="339.42,105.1 343.92,112.37 350.64,107.43 346.14,99.52" fill="#44c88b" stroke="#202020" stroke-width="0.45" stroke-opacity="0.85" stroke-linejoin="round"/>
<polygon points="357.36,110.63 361.86,114.26 368.58,109.91 364.08,105.9" fill="#24bcb7" stroke="#202020" stroke-width="0.45" stroke-opacity="0.85" stroke-linejoin="round"/>
<polygon points="296.82,94.39 301.32,102.9 308.04,98.64 303.54,94.59" fill="#9dc44b" stroke="#202020" stroke-width="0.45" stroke-opacity="0.85" stroke-linejoin="round"/>
<polygon points="314.76,100.84 319.26,105.16 325.98,107.71 321.48,95.69" fill="#71c860" stroke="#202020" stroke-width="0.45" stroke-opacity="0.85" stroke-linejoin="round"/>
<polygon points="332.7,107.93 337.2,111.62 343.92,112.37 339.42,105.1" fill="#33c69d" stroke="#202020" stroke-width="0.45" stroke-opacity="0.85" stroke-linejoin="round"/>
<polygon points="350.64,107.43 355.14,116.65 361.86,114.26 357.36,110.63" fill="#25bdb5" stroke="#202020" stroke-width="0.45" stroke-opacity="0.85" stroke-linejoin="round"/>
<polygon points="368.58,109.91 373.08,116.69 379.8,118.03 375.3,110.34" fill="#1cb7c5" stroke="#202020" stroke-width="0.45" stroke-opacity="0.85" stroke-linejoin="round"/>
<polygon points="290.1,94.01 294.6,101.37 301.32,102.9 296.82,94.39" fill="#a9c249" stroke="#202020" stroke-width="0.45" stroke-opacity="0.85" stroke-linejoin="round"/>
<polygon points="308.04,98.64 312.54,107.3 319.26,105.16 314.76,100.84" fill="#6ec863" stroke="#202020" stroke-width="0.45" stroke-opacity="0.85" stroke-linejoin="round"/>
<polygon points="325.98,107.71 330.48,111.9 337.2,111.62 332.7,107.93" fill="#32c59f" stroke="#202020" stroke-width="0.45" stroke-opacity="0.85" stroke-linejoin="round"/>
<polygon points="343.92,112.37 348.42,112.93 355.14,116.65 350.64,107.43" fill="#26bdb4" stroke="#202020" stroke-width="0.45" stroke-opacity="0.85" stroke-linejoin="round"/>
<polygon points="361.86,114.26 366.36,121.28 373.08,116.69 368.58,109.91" fill="#19b5ca" stroke="#202020" stroke-width="0.45" stroke-opacity="0.85" stroke-linejoin="round"/>
<polygon points="301.32,102.9 305.82,112.35 312.54,107.3 308.04,98.64" fill="#6fc862" stroke="#202020" stroke-width="0.45" stroke-opacity="0.85" stroke-linejoin="round"/>
<polygon points="319.26,105.16 323.76,115.7 330.48,111.9 325.98,107.71" fill="#3ec891" stroke="#202020" stroke-width="0.45" stroke-opacity="0.85" stroke-linejoin="round"/>
<polygon points="337.2,111.62 341.7,118.15 348.42,112.93 343.92,112.37" fill="#23bbba" stroke="#202020" stroke-width="0.45" stroke-opacity="0.85" stroke-linejoin="round"/>
<polygon points="355.14,116.65 359.64,122.48 366.36,121.28 361.86,114.26" fill="#12b1d6" stroke="#202020" stroke-width="0.45" stroke-opacity="0.85" stroke-linejoin="round"/>
<polygon points="373.08,116.69 377.58,118.64 384.3,118.21 379.8,118.03" fill="#1ba3e1" stroke="#202020" stroke-width="0.45" stroke-opacity="0.85" stroke-linejoin="round"/>
<polygon points="294.6,101.37 299.1,111.12 305.82,112.35 301.32,102.9" fill="#6dc864" stroke="#202020" stroke-width="0.45" stroke-opacity="0.85" stroke-linejoin="round"/>
<polygon points="312.54,107.3 317.04,112.37 323.76,115.7 319.26,105.16" fill="#46c889" stroke="#202020" stroke-width="0.45" stroke-opacity="0.85" stroke-linejoin="round"/>
<polygon points="330.48,111.9 334.98,115.67 341.7,118.15 337.2,111.62" fill="#27beb2" stroke="#202020" stroke-width="0.45" stroke-opacity="0.85" stroke-linejoin="round"/>
<polygon points="348.42,112.93 352.92,121.97 359.64,122.48 355.14,116.65" fill="#17b4cd" stroke="#202020" stroke-width="0.45" stroke-opacity="0.85" stroke-linejoin="round"/>
<polygon points="366.36,121.28 370.86,125.1 377.58,118.64 373.08,116.69" fill="#1da1e3" stroke="#202020" stroke-width="0.45" stroke-opacity="0.85" stroke-linejoin="round"/>
<polygon points="305.82,112.35 310.32,118.7 317.04,112.37 312.54,107.3" fill="#36c898" stroke="#202020" stroke-width="0.45" stroke-opacity="0.85" stroke-linejoin="round"/>
<polygon points="323.76,115.7 328.26,115.55 334.98,115.67 330.48,111.9" fill="#24bcb8" stroke="#202020" stroke-width="0.45" stroke-opacity="0.85" stroke-linejoin="round"/>
<polygon points="341.7,118.15 346.2,122.82 352.92,121.97 348.42,112.93" fill="#18b5cb" stroke="#202020" stroke-width="0.45" stroke-opacity="0.85" stroke-linejoin="round"/>
<polygon points="359.64,122.48 364.14,125.97 370.86,125.1 366.36,121.28" fill="#219ae8" stroke="#202020" stroke-width="0.45" stroke-opacity="0.85" stroke-linejoin="round"/>
<polygon points="377.58,118.64 382.08,128.15 388.8,127.53 384.3,118.21" fill="#1da0e3" stroke="#202020" stroke-width="0.45" stroke-opacity="0.85" stroke-linejoin="round"/>
<polygon points="299.1,111.12 303.6,119.49 310.32,118.7 305.82,112.35" fill="#34c69c" stroke="#202020" stroke-width="0.45" stroke-opacity="0.85" stroke-linejoin="round"/>
<polygon points="317.04,112.37 321.54,121.63 328.26,115.55 323.76,115.7" fill="#26beb3" stroke="#202020" stroke-width="0.45" stroke-opacity="0.85" stroke-linejoin="round"/>
<polygon points="334.98,115.67 339.48,120.74 346.2,122.82 341.7,118.15" fill="#17b4cd" stroke="#202020" stroke-width="0.45" stroke-opacity="0.85" stroke-linejoin="round"/>
<polygon points="352.92,121.97 357.42,122.18 364.14,125.97 359.64,122.48" fill="#1f9de6" stroke="#202020" stroke-width="0.45" stroke-opacity="0.85" stroke-linejoin="round"/>
<polygon points="370.86,125.1 375.36,126.97 382.08,128.15 377.58,118.64" fill="#2398ea" stroke="#202020" stroke-width="0.45" stroke-opacity="0.85" stroke-linejoin="round"/>
<polygon points="310.32,118.7 314.82,123.12 321.54,121.63 317.04,112.37" fill="#25bdb5" stroke="#202020" stroke-width="0.45" stroke-opacity="0.85" stroke-linejoin="round"/>
<polygon points="328.26,115.55 332.76,125.48 339.48,120.74 334.98,115.67" fill="#1fb9c0" stroke="#202020" stroke-width="0.45" stroke-opacity="0.85" stroke-linejoin="round"/>
<polygon points="346.2,122.82 350.7,125.34 357.42,122.18 352.92,121.97" fill="#1da0e3" stroke="#202020" stroke-width="0.45" stroke-opacity="0.85" stroke-linejoin="round"/>
<polygon points="364.14,125.97 368.64,126.75 375.36,126.97 370.86,125.1" fill="#298ef1" stroke="#202020" stroke-width="0.45" stroke-opacity="0.85" stroke-linejoin="round"/>
<polygon points="382.08,128.15 386.58,131.73 393.3,129.52 388.8,127.53" fill="#337df6" stroke="#202020" stroke-width="0.45" stroke-opacity="0.85" stroke-linejoin="round"/>
<polygon points="303.6,119.49 308.1,122.71 314.82,123.12 310.32,118.7" fill="#1db8c3" stroke="#202020" stroke-width="0.45" stroke-opacity="0.85" stroke-linejoin="round"/>
<polygon points="321.54,121.63 326.04,126.88 332.76,125.48 328.26,115.55" fill="#19b5ca" stroke="#202020" stroke-width="0.45" stroke-opacity="0.85" stroke-linejoin="round"/>
<polygon points="339.48,120.74 343.98,127.07 350.7,125.34 346.2,122.82" fill="#19a7de" stroke="#202020" stroke-width="0.45" stroke-opacity="0.85" stroke-linejoin="round"/>
<polygon points="357.42,122.18 361.92,125.84 368.64,126.75 364.14,125.97" fill="#2397ea" stroke="#202020" stroke-width="0.45" stroke-opacity="0.85" stroke-linejoin="round"/>
<polygon points="375.36,126.97 379.86,128.17 386.58,131.73 382.08,128.15" fill="#3083f7" stroke="#202020" stroke-width="0.45" stroke-opacity="0.85" stroke-linejoin="round"/>
<polygon points="314.82,123.12 319.32,122.43 326.04,126.88 321.54,121.63" fill="#13afd8" stroke="#202020" stroke-width="0.45" stroke-opacity="0.85" stroke-linejoin="round"/>
<polygon points="332.76,125.48 337.26,124.76 343.98,127.07 339.48,120.74" fill="#1aa6df" stroke="#202020" stroke-width="0.45" stroke-opacity="0.85" stroke-linejoin="round"/>
<polygon points="350.7,125.34 355.2,126.44 361.92,125.84 357.42,122.18" fill="#209de6" stroke="#202020" stroke-width="0.45" stroke-opacity="0.85" stroke-linejoin="round"/>
<polygon points="368.64,126.75 373.14,133.13 379.86,128.17 375.36,126.97" fill="#2c8bf4" stroke="#202020" stroke-width="0.45" stroke-opacity="0.85" stroke-linejoin="round"/>
<polygon points="386.58,131.73 391.08,134.75 397.8,132.84 393.3,129.52" fill="#3872f6" stroke="#202020" stroke-width="0.45" stroke-opacity="0.85" stroke-linejoin="round"/>
<polygon points="308.1,122.71 312.6,129.85 319.32,122.43 314.82,123.12" fill="#12b1d6" stroke="#202020" stroke-width="0.45" stroke-opacity="0.85" stroke-linejoin="round"/>
<polygon points="326.04,126.88 330.54,129.45 337.26,124.76 332.76,125.48" fill="#1e9ee5" stroke="#202020" stroke-width="0.45" stroke-opacity="0.85" stroke-linejoin="round"/>
<polygon points="343.98,127.07 348.48,132.89 355.2,126.44 350.7,125.34" fill="#2398ea" stroke="#202020" stroke-width="0.45" stroke-opacity="0.85" stroke-linejoin="round"/>
<polygon points="361.92,125.84 366.42,133.37 373.14,133.13 368.64,126.75" fill="#2891f0" stroke="#202020" stroke-width="0.45" stroke-opacity="0.85" stroke-linejoin="round"/>
<polygon points="379.86,128.17 384.36,133.08 391.08,134.75 386.58,131.73" fill="#347af6" stroke="#202020" stroke-width="0.45" stroke-opacity="0.85" stroke-linejoin="round"/>
<polygon points="319.32,122.43 323.82,131.11 330.54,129.45 326.04,126.88" fill="#18a8dd" stroke="#202020" stroke-width="0.45" stroke-opacity="0.85" stroke-linejoin="round"/>
<polygon points="337.26,124.76 341.76,128.67 348.48,132.89 343.98,127.07" fill="#209de6" stroke="#202020" stroke-width="0.45" stroke-opacity="0.85" stroke-linejoin="round"/>
<polygon points="355.2,126.44 359.7,132.29 366.42,133.37 361.92,125.84" fill="#2595ec" stroke="#202020" stroke-width="0.45" stroke-opacity="0.85" stroke-linejoin="round"/>
<polygon points="373.14,133.13 377.64,135.42 384.36,133.08 379.86,128.17" fill="#347cf6" stroke="#202020" stroke-width="0.45" stroke-opacity="0.85" stroke-linejoin="round"/>
<polygon points="391.08,134.75 395.58,136.79 402.3,136.46 397.8,132.84" fill="#3f65f5" stroke="#202020" stroke-width="0.45" stroke-opacity="0.85" stroke-linejoin="round"/>
<polygon points="312.6,129.85 317.1,130.55 323.82,131.11 319.32,122.43" fill="#19a6de" stroke="#202020" stroke-width="0.45" stroke-opacity="0.85" stroke-linejoin="round"/>
<polygon points="330.54,129.45 335.04,131.18 341.76,128.67 337.26,124.76" fill="#209ce6" stroke="#202020" stroke-width="0.45" stroke-opacity="0.85" stroke-linejoin="round"/>
<polygon points="348.48,132.89 352.98,131.76 359.7,132.29 355.2,126.44" fill="#2b8cf3" stroke="#202020" stroke-width="0.45" stroke-opacity="0.85" stroke-linejoin="round"/>
<polygon points="366.42,133.37 370.92,138.3 377.64,135.42 373.14,133.13" fill="#3775f6" stroke="#202020" stroke-width="0.45" stroke-opacity="0.85" stroke-linejoin="round"/>
<polygon points="384.36,133.08 388.86,134.71 395.58,136.79 391.08,134.75" fill="#3d69f5" stroke="#202020" stroke-width="0.45" stroke-opacity="0.85" stroke-linejoin="round"/>
<polygon points="323.82,131.11 328.32,136.18 335.04,131.18 330.54,129.45" fill="#2595ec" stroke="#202020" stroke-width="0.45" stroke-opacity="0.85" stroke-linejoin="round"/>
<polygon points="341.76,128.67 346.26,136.87 352.98,131.76 348.48,132.89" fill="#2b8cf3" stroke="#202020" stroke-width="0.45" stroke-opacity="0.85" stroke-linejoin="round"/>
<polygon points="359.7,132.29 364.2,138.04 370.92,138.3 366.42,133.37" fill="#347bf6" stroke="#202020" stroke-width="0.45" stroke-opacity="0.85" stroke-linejoin="round"/>
<polygon points="377.64,135.42 382.14,135.03 388.86,134.71 384.36,133.08" fill="#3b6cf5" stroke="#202020" stroke-width="0.45" stroke-opacity="0.85" stroke-linejoin="round"/>
<polygon points="395.58,136.79 400.08,133 406.8,138.5 402.3,136.46" fill="#4559f4" stroke="#202020" stroke-width="0.45" stroke-opacity="0.85" stroke-linejoin="round"/>
<polygon points="317.1,130.55 321.6,136.83 328.32,136.18 323.82,131.11" fill="#2496eb" stroke="#202020" stroke-width="0.45" stroke-opacity="0.85" stroke-linejoin="round"/>
<polygon points="335.04,131.18 339.54,134.76 346.26,136.87 341.76,128.67" fill="#2693ee" stroke="#202020" stroke-width="0.45" stroke-opacity="0.85" stroke-linejoin="round"/>
<polygon points="352.98,131.76 357.48,134.04 364.2,138.04 359.7,132.29" fill="#2f84f7" stroke="#202020" stroke-width="0.45" stroke-opacity="0.85" stroke-linejoin="round"/>
<polygon points="370.92,138.3 375.42,136.35 382.14,135.03 377.64,135.42" fill="#3e65f5" stroke="#202020" stroke-width="0.45" stroke-opacity="0.85" stroke-linejoin="round"/>
<polygon points="388.86,134.71 393.36,138.93 400.08,133 395.58,136.79" fill="#4062f5" stroke="#202020" stroke-width="0.45" stroke-opacity="0.85" stroke-linejoin="round"/>
<polygon points="328.32,136.18 332.82,139.17 339.54,134.76 335.04,131.18" fill="#2c89f5" stroke="#202020" stroke-width="0.45" stroke-opacity="0.85" stroke-linejoin="round"/>
<polygon points="346.26,136.87 350.76,139.66 357.48,134.04 352.98,131.76" fill="#327ff7" stroke="#202020" stroke-width="0.45" stroke-opacity="0.85" stroke-linejoin="round"/>
<polygon points="364.2,138.04 368.7,135.13 375.42,136.35 370.92,138.3" fill="#3f64f5" stroke="#202020" stroke-width="0.45" stroke-opacity="0.85" stroke-linejoin="round"/>
<polygon points="382.14,135.03 386.64,137.08 393.36,138.93 388.86,134.71" fill="#3c6bf5" stroke="#202020" stroke-width="0.45" stroke-opacity="0.85" stroke-linejoin="round"/>
<polygon points="400.08,133 404.58,135.77 411.3,134.9 406.8,138.5" fill="#425ef5" stroke="#202020" stroke-width="0.45" stroke-opacity="0.85" stroke-linejoin="round"/>
<polygon points="321.6,136.83 326.1,135.09 332.82,139.17 328.32,136.18" fill="#3082f7" stroke="#202020" stroke-width="0.45" stroke-opacity="0.85" stroke-linejoin="round"/>
<polygon points="339.54,134.76 344.04,138.36 350.76,139.66 346.26,136.87" fill="#337df6" stroke="#202020" stroke-width="0.45" stroke-opacity="0.85" stroke-linejoin="round"/>
<polygon points="357.48,134.04 361.98,136.85 368.7,135.13 364.2,138.04" fill="#3873f6" stroke="#202020" stroke-width="0.45" stroke-opacity="0.85" stroke-linejoin="round"/>
<polygon points="375.42,136.35 379.92,139.92 386.64,137.08 382.14,135.03" fill="#3b6cf5" stroke="#202020" stroke-width="0.45" stroke-opacity="0.85" stroke-linejoin="round"/>
<polygon points="393.36,138.93 397.86,138.39 404.58,135.77 400.08,133" fill="#4062f5" stroke="#202020" stroke-width="0.45" stroke-opacity="0.85" stroke-linejoin="round"/>
<polygon points="332.82,139.17 337.32,137.74 344.04,138.36 339.54,134.76" fill="#337cf6" stroke="#202020" stroke-width="0.45" stroke-opacity="0.85" stroke-linejoin="round"/>
<polygon points="350.76,139.66 355.26,141.69 361.98,136.85 357.48,134.04" fill="#3774f6" stroke="#202020" stroke-width="0.45" stroke-opacity="0.85" stroke-linejoin="round"/>
<polygon points="368.7,135.13 373.2,139.91 379.92,139.92 375.42,136.35" fill="#3971f6" stroke="#202020" stroke-width="0.45" stroke-opacity="0.85" stroke-linejoin="round"/>
<polygon points="386.64,137.08 391.14,141.84 397.86,138.39 393.36,138.93" fill="#425ef5" stroke="#202020" stroke-width="0.45" stroke-opacity="0.85" stroke-linejoin="round"/>
<polygon points="404.58,135.77 409.08,139.48 415.8,135.88 411.3,134.9" fill="#4062f5" stroke="#202020" stroke-width="0.45" stroke-opacity="0.85" stroke-linejoin="round"/>
<polygon points="326.1,135.09 330.6,140.91 337.32,137.74 332.82,139.17" fill="#3180f7" stroke="#202020" stroke-width="0.45" stroke-opacity="0.85" stroke-linejoin="round"/>
<polygon points="344.04,138.36 348.54,144.42 355.26,141.69 350.76,139.66" fill="#3a6ff6" stroke="#202020" stroke-width="0.45" stroke-opacity="0.85" stroke-linejoin="round"/>
<polygon points="361.98,136.85 366.48,145.37 373.2,139.91 368.7,135.13" fill="#3775f6" stroke="#202020" stroke-width="0.45" stroke-opacity="0.85" stroke-linejoin="round"/>
<polygon points="379.92,139.92 384.42,138.91 391.14,141.84 386.64,137.08" fill="#4161f5" stroke="#202020" stroke-width="0.45" stroke-opacity="0.85" stroke-linejoin="round"/>
<polygon points="397.86,138.39 402.36,144.55 409.08,139.48 404.58,135.77" fill="#425ff5" stroke="#202020" stroke-width="0.45" stroke-opacity="0.85" stroke-linejoin="round"/>
<polygon points="337.32,137.74 341.82,142.36 348.54,144.42 344.04,138.36" fill="#3579f6" stroke="#202020" stroke-width="0.45" stroke-opacity="0.85" stroke-linejoin="round"/>
<polygon points="355.26,141.69 359.76,139.74 366.48,145.37 361.98,136.85" fill="#3c6bf5" stroke="#202020" stroke-width="0.45" stroke-opacity="0.85" stroke-linejoin="round"/>
<polygon points="373.2,139.91 377.7,140.86 384.42,138.91 379.92,139.92" fill="#425ff5" stroke="#202020" stroke-width="0.45" stroke-opacity="0.85" stroke-linejoin="round"/>
<polygon points="391.14,141.84 395.64,141.86 402.36,144.55 397.86,138.39" fill="#4656f4" stroke="#202020" stroke-width="0.45" stroke-opacity="0.85" stroke-linejoin="round"/>
<polygon points="409.08,139.48 413.58,145.48 420.3,140.32 415.8,135.88" fill="#4558f4" stroke="#202020" stroke-width="0.45" stroke-opacity="0.85" stroke-linejoin="round"/>
<polygon points="330.6,140.91 335.1,144.89 341.82,142.36 337.32,137.74" fill="#3578f6" stroke="#202020" stroke-width="0.45" stroke-opacity="0.85" stroke-linejoin="round"/>
<polygon points="348.54,144.42 353.04,142.69 359.76,139.74 355.26,141.69" fill="#425ef5" stroke="#202020" stroke-width="0.45" stroke-opacity="0.85" stroke-linejoin="round"/>
<polygon points="366.48,145.37 370.98,142.58 377.7,140.86 373.2,139.91" fill="#4558f4" stroke="#202020" stroke-width="0.45" stroke-opacity="0.85" stroke-linejoin="round"/>
<polygon points="384.42,138.91 388.92,143.13 395.64,141.86 391.14,141.84" fill="#4459f4" stroke="#202020" stroke-width="0.45" stroke-opacity="0.85" stroke-linejoin="round"/>
<polygon points="402.36,144.55 406.86,141.42 413.58,145.48 409.08,139.48" fill="#464ae6" stroke="#202020" stroke-width="0.45" stroke-opacity="0.85" stroke-linejoin="round"/>
<polygon points="341.82,142.36 346.32,142.27 353.04,142.69 348.54,144.42" fill="#4062f5" stroke="#202020" stroke-width="0.45" stroke-opacity="0.85" stroke-linejoin="round"/>
<polygon points="359.76,139.74 364.26,143.42 370.98,142.58 366.48,145.37" fill="#435df5" stroke="#202020" stroke-width="0.45" stroke-opacity="0.85" stroke-linejoin="round"/>
<polygon points="377.7,140.86 382.2,145.63 388.92,143.13 384.42,138.91" fill="#4161f5" stroke="#202020" stroke-width="0.45" stroke-opacity="0.85" stroke-linejoin="round"/>
<polygon points="395.64,141.86 400.14,147.25 406.86,141.42 402.36,144.55" fill="#4649e5" stroke="#202020" stroke-width="0.45" stroke-opacity="0.85" stroke-linejoin="round"/>
<polygon points="413.58,145.48 418.08,142.34 424.8,144.65 420.3,140.32" fill="#4543da" stroke="#202020" stroke-width="0.45" stroke-opacity="0.85" stroke-linejoin="round"/>
<polygon points="335.1,144.89 339.6,149.71 346.32,142.27 341.82,142.36" fill="#3e66f5" stroke="#202020" stroke-width="0.45" stroke-opacity="0.85" stroke-linejoin="round"/>
<polygon points="353.04,142.69 357.54,143.34 364.26,143.42 359.76,139.74" fill="#3d68f5" stroke="#202020" stroke-width="0.45" stroke-opacity="0.85" stroke-linejoin="round"/>
<polygon points="370.98,142.58 375.48,144.98 382.2,145.63 377.7,140.86" fill="#425df5" stroke="#202020" stroke-width="0.45" stroke-opacity="0.85" stroke-linejoin="round"/>
<polygon points="388.92,143.13 393.42,142.96 400.14,147.25 395.64,141.86" fill="#4851f3" stroke="#202020" stroke-width="0.45" stroke-opacity="0.85" stroke-linejoin="round"/>
<polygon points="406.86,141.42 411.36,146.11 418.08,142.34 413.58,145.48" fill="#4545de" stroke="#202020" stroke-width="0.45" stroke-opacity="0.85" stroke-linejoin="round"/>
<polygon points="346.32,142.27 350.82,145.58 357.54,143.34 353.04,142.69" fill="#3e67f5" stroke="#202020" stroke-width="0.45" stroke-opacity="0.85" stroke-linejoin="round"/>
<polygon points="364.26,143.42 368.76,146.44 375.48,144.98 370.98,142.58" fill="#435cf5" stroke="#202020" stroke-width="0.45" stroke-opacity="0.85" stroke-linejoin="round"/>
<polygon points="382.2,145.63 386.7,146.87 393.42,142.96 388.92,143.13" fill="#474eed" stroke="#202020" stroke-width="0.45" stroke-opacity="0.85" stroke-linejoin="round"/>
<polygon points="400.14,147.25 404.64,149.25 411.36,146.11 406.86,141.42" fill="#4546df" stroke="#202020" stroke-width="0.45" stroke-opacity="0.85" stroke-linejoin="round"/>
<polygon points="418.08,142.34 422.58,142.76 429.3,140.91 424.8,144.65" fill="#4441d7" stroke="#202020" stroke-width="0.45" stroke-opacity="0.85" stroke-linejoin="round"/>
<polygon points="339.6,149.71 344.1,148.02 350.82,145.58 346.32,142.27" fill="#435cf5" stroke="#202020" stroke-width="0.45" stroke-opacity="0.85" stroke-linejoin="round"/>
<polygon points="357.54,143.34 362.04,145.44 368.76,146.44 364.26,143.42" fill="#4160f5" stroke="#202020" stroke-width="0.45" stroke-opacity="0.85" stroke-linejoin="round"/>
<polygon points="375.48,144.98 379.98,146.95 386.7,146.87 382.2,145.63" fill="#474eee" stroke="#202020" stroke-width="0.45" stroke-opacity="0.85" stroke-linejoin="round"/>
<polygon points="393.42,142.96 397.92,148.59 404.64,149.25 400.14,147.25" fill="#4647e1" stroke="#202020" stroke-width="0.45" stroke-opacity="0.85" stroke-linejoin="round"/>
<polygon points="411.36,146.11 415.86,146.51 422.58,142.76 418.08,142.34" fill="#4543da" stroke="#202020" stroke-width="0.45" stroke-opacity="0.85" stroke-linejoin="round"/>
<polygon points="350.82,145.58 355.32,147.04 362.04,145.44 357.54,143.34" fill="#4160f5" stroke="#202020" stroke-width="0.45" stroke-opacity="0.85" stroke-linejoin="round"/>
<polygon points="368.76,146.44 373.26,146.93 379.98,146.95 375.48,144.98" fill="#4851f3" stroke="#202020" stroke-width="0.45" stroke-opacity="0.85" stroke-linejoin="round"/>
<polygon points="386.7,146.87 391.2,144.93 397.92,148.59 393.42,142.96" fill="#474deb" stroke="#202020" stroke-width="0.45" stroke-opacity="0.85" stroke-linejoin="round"/>
<polygon points="404.64,149.25 409.14,149.25 415.86,146.51 411.36,146.11" fill="#4239c8" stroke="#202020" stroke-width="0.45" stroke-opacity="0.85" stroke-linejoin="round"/>
<polygon points="422.58,142.76 427.08,142.94 433.8,146.65 429.3,140.91" fill="#464ae6" stroke="#202020" stroke-width="0.45" stroke-opacity="0.85" stroke-linejoin="round"/>
<polygon points="344.1,148.02 348.6,150.78 355.32,147.04 350.82,145.58" fill="#445af4" stroke="#202020" stroke-width="0.45" stroke-opacity="0.85" stroke-linejoin="round"/>
<polygon points="362.04,145.44 366.54,150.48 373.26,146.93 368.76,146.44" fill="#4655f4" stroke="#202020" stroke-width="0.45" stroke-opacity="0.85" stroke-linejoin="round"/>
<polygon points="379.98,146.95 384.48,148.19 391.2,144.93 386.7,146.87" fill="#4649e4" stroke="#202020" stroke-width="0.45" stroke-opacity="0.85" stroke-linejoin="round"/>
<polygon points="397.92,148.59 402.42,147 409.14,149.25 404.64,149.25" fill="#4238c7" stroke="#202020" stroke-width="0.45" stroke-opacity="0.85" stroke-linejoin="round"/>
<polygon points="415.86,146.51 420.36,145.72 427.08,142.94 422.58,142.76" fill="#4442d9" stroke="#202020" stroke-width="0.45" stroke-opacity="0.85" stroke-linejoin="round"/>
<polygon points="355.32,147.04 359.82,149.14 366.54,150.48 362.04,145.44" fill="#4559f4" stroke="#202020" stroke-width="0.45" stroke-opacity="0.85" stroke-linejoin="round"/>
<polygon points="373.26,146.93 377.76,150.11 384.48,148.19 379.98,146.95" fill="#474dec" stroke="#202020" stroke-width="0.45" stroke-opacity="0.85" stroke-linejoin="round"/>
<polygon points="391.2,144.93 395.7,150.49 402.42,147 397.92,148.59" fill="#4546df" stroke="#202020" stroke-width="0.45" stroke-opacity="0.85" stroke-linejoin="round"/>
<polygon points="409.14,149.25 413.64,145.82 420.36,145.72 415.86,146.51" fill="#4239c9" stroke="#202020" stroke-width="0.45" stroke-opacity="0.85" stroke-linejoin="round"/>
<polygon points="427.08,142.94 431.58,143.8 438.3,146.49 433.8,146.65" fill="#443ed2" stroke="#202020" stroke-width="0.45" stroke-opacity="0.85" stroke-linejoin="round"/>
<polygon points="348.6,150.78 353.1,149.14 359.82,149.14 355.32,147.04" fill="#4851f3" stroke="#202020" stroke-width="0.45" stroke-opacity="0.85" stroke-linejoin="round"/>
<polygon points="366.54,150.48 371.04,149.76 377.76,150.11 373.26,146.93" fill="#464ae7" stroke="#202020" stroke-width="0.45" stroke-opacity="0.85" stroke-linejoin="round"/>
<polygon points="384.48,148.19 388.98,147.55 395.7,150.49 391.2,144.93" fill="#474ce9" stroke="#202020" stroke-width="0.45" stroke-opacity="0.85" stroke-linejoin="round"/>
<polygon points="402.42,147 406.92,146.98 413.64,145.82 409.14,149.25" fill="#433dcf" stroke="#202020" stroke-width="0.45" stroke-opacity="0.85" stroke-linejoin="round"/>
<polygon points="420.36,145.72 424.86,145.9 431.58,143.8 427.08,142.94" fill="#4545de" stroke="#202020" stroke-width="0.45" stroke-opacity="0.85" stroke-linejoin="round"/>
<polygon points="359.82,149.14 364.32,154.17 371.04,149.76 366.54,150.48" fill="#464ae7" stroke="#202020" stroke-width="0.45" stroke-opacity="0.85" stroke-linejoin="round"/>
<polygon points="377.76,150.11 382.26,151.83 388.98,147.55 384.48,148.19" fill="#4545de" stroke="#202020" stroke-width="0.45" stroke-opacity="0.85" stroke-linejoin="round"/>
<polygon points="395.7,150.49 400.2,150.49 406.92,146.98 402.42,147" fill="#443fd3" stroke="#202020" stroke-width="0.45" stroke-opacity="0.85" stroke-linejoin="round"/>
<polygon points="413.64,145.82 418.14,150.71 424.86,145.9 420.36,145.72" fill="#4544db" stroke="#202020" stroke-width="0.45" stroke-opacity="0.85" stroke-linejoin="round"/>
<polygon points="431.58,143.8 436.07,150.82 442.79,147.46 438.3,146.49" fill="#443ed2" stroke="#202020" stroke-width="0.45" stroke-opacity="0.85" stroke-linejoin="round"/>
<polygon points="353.1,149.14 357.6,153.46 364.32,154.17 359.82,149.14" fill="#4852f4" stroke="#202020" stroke-width="0.45" stroke-opacity="0.85" stroke-linejoin="round"/>
<polygon points="371.04,149.76 375.54,151.36 382.26,151.83 377.76,150.11" fill="#4546e0" stroke="#202020" stroke-width="0.45" stroke-opacity="0.85" stroke-linejoin="round"/>
<polygon points="388.98,147.55 393.48,154.14 400.2,150.49 395.7,150.49" fill="#4442d9" stroke="#202020" stroke-width="0.45" stroke-opacity="0.85" stroke-linejoin="round"/>
<polygon points="406.92,146.98 411.42,150.52 418.14,150.71 413.64,145.82" fill="#4546de" stroke="#202020" stroke-width="0.45" stroke-opacity="0.85" stroke-linejoin="round"/>
<polygon points="424.86,145.9 429.35,152.73 436.07,150.82 431.58,143.8" fill="#4544dc" stroke="#202020" stroke-width="0.45" stroke-opacity="0.85" stroke-linejoin="round"/>
<polygon points="364.32,154.17 368.82,150.69 375.54,151.36 371.04,149.76" fill="#4442d9" stroke="#202020" stroke-width="0.45" stroke-opacity="0.85" stroke-linejoin="round"/>
<polygon points="382.26,151.83 386.76,153.93 393.48,154.14 388.98,147.55" fill="#4544dc" stroke="#202020" stroke-width="0.45" stroke-opacity="0.85" stroke-linejoin="round"/>
<polygon points="400.2,150.49 404.7,150.66 411.42,150.52 406.92,146.98" fill="#4440d5" stroke="#202020" stroke-width="0.45" stroke-opacity="0.85" stroke-linejoin="round"/>
<polygon points="418.14,150.71 422.63,148.31 429.35,152.73 424.86,145.9" fill="#433aca" stroke="#202020" stroke-width="0.45" stroke-opacity="0.85" stroke-linejoin="round"/>
<polygon points="357.6,153.46 362.1,157.01 368.82,150.69 364.32,154.17" fill="#443fd3" stroke="#202020" stroke-width="0.45" stroke-opacity="0.85" stroke-linejoin="round"/>
<polygon points="375.54,151.36 380.04,153.11 386.76,153.93 382.26,151.83" fill="#4440d6" stroke="#202020" stroke-width="0.45" stroke-opacity="0.85" stroke-linejoin="round"/>
<polygon points="393.48,154.14 397.98,153.25 404.7,150.66 400.2,150.49" fill="#4135c2" stroke="#202020" stroke-width="0.45" stroke-opacity="0.85" stroke-linejoin="round"/>
<polygon points="411.42,150.52 415.91,152.82 422.63,148.31 418.14,150.71" fill="#4135c1" stroke="#202020" stroke-width="0.45" stroke-opacity="0.85" stroke-linejoin="round"/>
<polygon points="368.82,150.69 373.32,155.61 380.04,153.11 375.54,151.36" fill="#4648e2" stroke="#202020" stroke-width="0.45" stroke-opacity="0.85" stroke-linejoin="round"/>
<polygon points="386.76,153.93 391.26,155.75 397.98,153.25 393.48,154.14" fill="#4132bd" stroke="#202020" stroke-width="0.45" stroke-opacity="0.85" stroke-linejoin="round"/>
<polygon points="404.7,150.66 409.19,152.04 415.91,152.82 411.42,150.52" fill="#4239c9" stroke="#202020" stroke-width="0.45" stroke-opacity="0.85" stroke-linejoin="round"/>
<polygon points="362.1,157.01 366.6,153.15 373.32,155.61 368.82,150.69" fill="#4440d5" stroke="#202020" stroke-width="0.45" stroke-opacity="0.85" stroke-linejoin="round"/>
<polygon points="380.04,153.11 384.54,156.39 391.26,155.75 386.76,153.93" fill="#4239c9" stroke="#202020" stroke-width="0.45" stroke-opacity="0.85" stroke-linejoin="round"/>
<polygon points="397.98,153.25 402.47,152.14 409.19,152.04 404.7,150.66" fill="#4238c7" stroke="#202020" stroke-width="0.45" stroke-opacity="0.85" stroke-linejoin="round"/>
<polygon points="373.32,155.61 377.82,156.22 384.54,156.39 380.04,153.11" fill="#433acb" stroke="#202020" stroke-width="0.45" stroke-opacity="0.85" stroke-linejoin="round"/>
<polygon points="391.26,155.75 395.75,157.97 402.47,152.14 397.98,153.25" fill="#4132bc" stroke="#202020" stroke-width="0.45" stroke-opacity="0.85" stroke-linejoin="round"/>
<polygon points="366.6,153.15 371.1,159.31 377.82,156.22 373.32,155.61" fill="#443fd3" stroke="#202020" stroke-width="0.45" stroke-opacity="0.85" stroke-linejoin="round"/>
<polygon points="384.54,156.39 389.03,153.13 395.75,157.97 391.26,155.75" fill="#4030b9" stroke="#202020" stroke-width="0.45" stroke-opacity="0.85" stroke-linejoin="round"/>
<polygon points="377.82,156.22 382.31,160.2 389.03,153.13 384.54,156.39" fill="#4133bf" stroke="#202020" stroke-width="0.45" stroke-opacity="0.85" stroke-linejoin="round"/>
<polygon points="371.1,159.31 375.59,160.97 382.31,160.2 377.82,156.22" fill="#4132bc" stroke="#202020" stroke-width="0.45" stroke-opacity="0.85" stroke-linejoin="round"/>
<text x="271" y="180.6" font-size="11" text-anchor="middle" font-weight="normal" fill="#262626" >0</text>
<text x="289.2" y="181.7" font-size="11" text-anchor="middle" font-weight="normal" fill="#262626" >20</text>
<text x="310.2" y="183.5" font-size="11" text-anchor="middle" font-weight="normal" fill="#262626" >40</text>
<text x="331.5" y="185.2" font-size="11" text-anchor="middle" font-weight="normal" fill="#262626" >60</text>
<text x="352.8" y="186.4" font-size="11" text-anchor="middle" font-weight="normal" fill="#262626" >80</text>
<text x="397.2" y="184.1" font-size="11" text-anchor="middle" font-weight="normal" fill="#262626" >40</text>
<text x="422" y="180.6" font-size="11" text-anchor="middle" font-weight="normal" fill="#262626" >80</text>
<text x="449.8" y="176.8" font-size="11" text-anchor="middle" font-weight="normal" fill="#262626" >120</text>
<text x="241.8" y="193.6" font-size="11.5" text-anchor="start" font-weight="normal" fill="#262626" >Position in platoon</text>
<text x="405.1" y="191.9" font-size="11.5" fill="#262626"><tspan font-style="italic">v</tspan><tspan dy="4.2" font-size="8.0" font-style="italic">s</tspan><tspan dy="-4.2"> </tspan>(km·h<tspan dy="-5.1" font-size="8.0">-1</tspan><tspan dy="5.1">)</tspan></text>
<text x="323.4" y="36.1" font-size="11.5" fill="#000"><tspan font-style="italic">v</tspan><tspan dy="4.2" font-size="8" font-style="italic">d</tspan><tspan dy="-4.2"> = 10 km·h</tspan><tspan dy="-5.2" font-size="8">-1</tspan></text>
<text transform="translate(246.9 110.2) rotate(-90)" text-anchor="middle" font-size="13" fill="#262626"><tspan font-style="italic">L</tspan><tspan dy="3" font-size="9">∞,n</tspan><tspan dy="-3"> / </tspan><tspan font-style="italic">L</tspan><tspan dy="3" font-size="9">∞,2</tspan></text>
<rect x="507" y="35.8" width="163.2" height="132.1" fill="#fff" stroke="none" stroke-width="1" rx="0" />
<line x1="525.7" y1="35.8" x2="525.7" y2="167.9" stroke="#e6e6e6" stroke-width="0.5" />
<line x1="553.82" y1="35.8" x2="553.82" y2="167.9" stroke="#e6e6e6" stroke-width="0.5" />
<line x1="581.94" y1="35.8" x2="581.94" y2="167.9" stroke="#e6e6e6" stroke-width="0.5" />
<line x1="610.06" y1="35.8" x2="610.06" y2="167.9" stroke="#e6e6e6" stroke-width="0.5" />
<line x1="638.18" y1="35.8" x2="638.18" y2="167.9" stroke="#e6e6e6" stroke-width="0.5" />
<line x1="666.3" y1="35.8" x2="666.3" y2="167.9" stroke="#e6e6e6" stroke-width="0.5" />
<line x1="507" y1="158.7" x2="670.2" y2="158.7" stroke="#e6e6e6" stroke-width="0.5" />
<line x1="507" y1="139.82" x2="670.2" y2="139.82" stroke="#e6e6e6" stroke-width="0.5" />
<line x1="507" y1="120.94" x2="670.2" y2="120.94" stroke="#e6e6e6" stroke-width="0.5" />
<line x1="507" y1="102.06" x2="670.2" y2="102.06" stroke="#e6e6e6" stroke-width="0.5" />
<line x1="507" y1="83.18" x2="670.2" y2="83.18" stroke="#e6e6e6" stroke-width="0.5" />
<line x1="507" y1="64.3" x2="670.2" y2="64.3" stroke="#e6e6e6" stroke-width="0.5" />
<line x1="507" y1="45.42" x2="670.2" y2="45.42" stroke="#e6e6e6" stroke-width="0.5" />
<circle cx="511.64" cy="162" r="2.2" fill="#3e26a8" fill-opacity="0.55"/>
<circle cx="525.7" cy="147.37" r="2.2" fill="#464ae6" fill-opacity="0.55"/>
<circle cx="539.76" cy="133.68" r="2.2" fill="#3a70f6" fill-opacity="0.55"/>
<circle cx="553.82" cy="120.94" r="2.2" fill="#2692ee" fill-opacity="0.55"/>
<circle cx="567.88" cy="108.67" r="2.2" fill="#12b1d6" fill-opacity="0.55"/>
<circle cx="581.94" cy="97.34" r="2.2" fill="#2cc1aa" fill-opacity="0.55"/>
<circle cx="596" cy="86.48" r="2.2" fill="#57c879" fill-opacity="0.55"/>
<circle cx="610.06" cy="76.1" r="2.2" fill="#90c64d" fill-opacity="0.55"/>
<circle cx="624.12" cy="66.66" r="2.2" fill="#dcbb3f" fill-opacity="0.55"/>
<circle cx="638.18" cy="57.69" r="2.2" fill="#f5c032" fill-opacity="0.55"/>
<circle cx="652.24" cy="48.72" r="2.2" fill="#f9d926" fill-opacity="0.55"/>
<circle cx="666.3" cy="40.7" r="2.2" fill="#f9fb15" fill-opacity="0.55"/>
<line x1="507" y1="159" x2="665.5" y2="35.8" stroke="#000" stroke-width="0.8" />
<rect x="507" y="35.8" width="163.2" height="132.1" fill="none" stroke="#777" stroke-width="0.7" rx="0" />
<line x1="525.7" y1="167.9" x2="525.7" y2="165.9" stroke="#262626" stroke-width="0.6" />
<line x1="525.7" y1="35.8" x2="525.7" y2="37.8" stroke="#262626" stroke-width="0.6" />
<text x="525.7" y="182.3" font-size="10.5" text-anchor="middle" font-weight="normal" fill="#262626" >20</text>
<line x1="553.82" y1="167.9" x2="553.82" y2="165.9" stroke="#262626" stroke-width="0.6" />
<line x1="553.82" y1="35.8" x2="553.82" y2="37.8" stroke="#262626" stroke-width="0.6" />
<text x="553.82" y="182.3" font-size="10.5" text-anchor="middle" font-weight="normal" fill="#262626" >40</text>
<line x1="581.94" y1="167.9" x2="581.94" y2="165.9" stroke="#262626" stroke-width="0.6" />
<line x1="581.94" y1="35.8" x2="581.94" y2="37.8" stroke="#262626" stroke-width="0.6" />
<text x="581.94" y="182.3" font-size="10.5" text-anchor="middle" font-weight="normal" fill="#262626" >60</text>
<line x1="610.06" y1="167.9" x2="610.06" y2="165.9" stroke="#262626" stroke-width="0.6" />
<line x1="610.06" y1="35.8" x2="610.06" y2="37.8" stroke="#262626" stroke-width="0.6" />
<text x="610.06" y="182.3" font-size="10.5" text-anchor="middle" font-weight="normal" fill="#262626" >80</text>
<line x1="638.18" y1="167.9" x2="638.18" y2="165.9" stroke="#262626" stroke-width="0.6" />
<line x1="638.18" y1="35.8" x2="638.18" y2="37.8" stroke="#262626" stroke-width="0.6" />
<text x="638.18" y="182.3" font-size="10.5" text-anchor="middle" font-weight="normal" fill="#262626" >100</text>
<line x1="666.3" y1="167.9" x2="666.3" y2="165.9" stroke="#262626" stroke-width="0.6" />
<line x1="666.3" y1="35.8" x2="666.3" y2="37.8" stroke="#262626" stroke-width="0.6" />
<text x="666.3" y="182.3" font-size="10.5" text-anchor="middle" font-weight="normal" fill="#262626" >120</text>
<line x1="507" y1="158.7" x2="509" y2="158.7" stroke="#262626" stroke-width="0.6" />
<line x1="670.2" y1="158.7" x2="668.2" y2="158.7" stroke="#262626" stroke-width="0.6" />
<text x="503" y="162.4" font-size="10.5" text-anchor="end" font-weight="normal" fill="#262626" >2000</text>
<line x1="507" y1="139.82" x2="509" y2="139.82" stroke="#262626" stroke-width="0.6" />
<line x1="670.2" y1="139.82" x2="668.2" y2="139.82" stroke="#262626" stroke-width="0.6" />
<text x="503" y="143.52" font-size="10.5" text-anchor="end" font-weight="normal" fill="#262626" >4000</text>
<line x1="507" y1="120.94" x2="509" y2="120.94" stroke="#262626" stroke-width="0.6" />
<line x1="670.2" y1="120.94" x2="668.2" y2="120.94" stroke="#262626" stroke-width="0.6" />
<text x="503" y="124.64" font-size="10.5" text-anchor="end" font-weight="normal" fill="#262626" >6000</text>
<line x1="507" y1="102.06" x2="509" y2="102.06" stroke="#262626" stroke-width="0.6" />
<line x1="670.2" y1="102.06" x2="668.2" y2="102.06" stroke="#262626" stroke-width="0.6" />
<text x="503" y="105.76" font-size="10.5" text-anchor="end" font-weight="normal" fill="#262626" >8000</text>
<line x1="507" y1="83.18" x2="509" y2="83.18" stroke="#262626" stroke-width="0.6" />
<line x1="670.2" y1="83.18" x2="668.2" y2="83.18" stroke="#262626" stroke-width="0.6" />
<text x="503" y="86.88" font-size="10.5" text-anchor="end" font-weight="normal" fill="#262626" >10000</text>
<line x1="507" y1="64.3" x2="509" y2="64.3" stroke="#262626" stroke-width="0.6" />
<line x1="670.2" y1="64.3" x2="668.2" y2="64.3" stroke="#262626" stroke-width="0.6" />
<text x="503" y="68" font-size="10.5" text-anchor="end" font-weight="normal" fill="#262626" >12000</text>
<line x1="507" y1="45.42" x2="509" y2="45.42" stroke="#262626" stroke-width="0.6" />
<line x1="670.2" y1="45.42" x2="668.2" y2="45.42" stroke="#262626" stroke-width="0.6" />
<text x="503" y="49.12" font-size="10.5" text-anchor="end" font-weight="normal" fill="#262626" >14000</text>
<text x="511" y="48.6" font-size="10.8" fill="#000">Slope = 115.704 veh·km<tspan dy="-4" font-size="7.6">-1</tspan></text>
<line x1="621.7" y1="51.1" x2="630.3" y2="61" stroke="#000" stroke-width="0.75" />
<polygon points="630.3,61 626.58,59.46 629.3,57.1" fill="#000" stroke="none" stroke-width="1" />
<text x="527.3" y="196.5" font-size="11.8" fill="#262626">Average speed (km·h<tspan dy="-5.2" font-size="8.3">-1</tspan><tspan dy="5.2">)</tspan></text>
<text transform="translate(470 102) rotate(-90)" text-anchor="middle" font-size="11.8" fill="#262626">Flow (veh·h<tspan dy="-4.5" font-size="8.3">-1</tspan><tspan dy="4.5">)</tspan></text>
<rect x="176.7" y="246.6" width="203.7" height="95.4" fill="#e4fbfb" stroke="none" stroke-width="1" rx="0" />
<rect x="380.4" y="246.6" width="96.6" height="95.4" fill="#e6f9e1" stroke="none" stroke-width="1" rx="0" />
<rect x="159.1" y="249.8" width="340.9" height="16.9" fill="#808080" stroke="none" stroke-width="1" rx="0" />
<defs><clipPath id="zc"><rect x="176.7" y="240" width="300.3" height="105"/></clipPath></defs>
<polygon points="282.2,322.9 378,267 477,266.7 447.4,284 381.5,284 292.7,337" fill="#808080" stroke="none" stroke-width="1" />
<g clip-path="url(#zc)" opacity="0.58">
<rect x="159.1" y="249.8" width="340.9" height="16.9" fill="#b0d0cc" stroke="none" stroke-width="1" rx="0" />
</g>
<g opacity="0.58">
<polygon points="282.2,322.9 378,267 380.4,266.7 380.4,284 292.7,337" fill="#b0d0cc" stroke="none" stroke-width="1" />
<polygon points="380.4,266.7 477,266.7 447.4,284 380.4,284" fill="#bccab0" stroke="none" stroke-width="1" />
</g>
<g clip-path="url(#zc)" opacity="0.58">
<rect x="380.4" y="249.8" width="96.6" height="16.9" fill="#bccab0" stroke="none" stroke-width="1" rx="0" />
</g>
<line x1="380.4" y1="267.2" x2="477" y2="267.2" stroke="#fff" stroke-width="0.7" stroke-dasharray="2.2 1.6"/>
<defs>




</defs>
<g transform="translate(201.7 258.8)"><rect x="-10.4" y="-4.1" width="20.8" height="8.2" rx="3.6" fill="#fff" stroke="#a8a8a8" stroke-width="0.3"/>
<rect x="-8.2" y="-3.2" width="13.4" height="6.4" rx="1" fill="#e6ecf2" stroke="#3a3a3a" stroke-width="0.6"/>
<rect x="-8.3" y="-2.8" width="2.6" height="5.6" rx="0.8" fill="#111"/>
<rect x="2.3" y="-3" width="3" height="6" rx="1" fill="#111"/>
<rect x="-4.9" y="-2.3" width="5" height="4.6" rx="1.3" fill="#3a8fd8"/></g>
<g transform="translate(214.0 258.8)"><circle cx="0" cy="0" r="0.9" fill="#e8423f"/>
<path d="M2.2,-2.2 Q3.6,0 2.2,2.2 M4,-3.4 Q6,0 4,3.4 M5.8,-4.6 Q8.4,0 5.8,4.6" fill="none" stroke="#ea5a55" stroke-width="0.8"/></g>
<g transform="translate(234.6 258.8)"><rect x="-10.4" y="-4.1" width="20.8" height="8.2" rx="3.6" fill="#fff" stroke="#a8a8a8" stroke-width="0.3"/>
<rect x="-8.2" y="-3.2" width="13.4" height="6.4" rx="1" fill="#e6ecf2" stroke="#3a3a3a" stroke-width="0.6"/>
<rect x="-8.3" y="-2.8" width="2.6" height="5.6" rx="0.8" fill="#111"/>
<rect x="2.3" y="-3" width="3" height="6" rx="1" fill="#111"/>
<rect x="-4.9" y="-2.3" width="5" height="4.6" rx="1.3" fill="#3a8fd8"/></g>
<g transform="translate(246.9 258.8)"><circle cx="0" cy="0" r="0.9" fill="#e8423f"/>
<path d="M2.2,-2.2 Q3.6,0 2.2,2.2 M4,-3.4 Q6,0 4,3.4 M5.8,-4.6 Q8.4,0 5.8,4.6" fill="none" stroke="#ea5a55" stroke-width="0.8"/></g>
<g transform="translate(267 258.8)"><rect x="-10.4" y="-4.1" width="20.8" height="8.2" rx="3.6" fill="#fff" stroke="#a8a8a8" stroke-width="0.3"/>
<rect x="-8.2" y="-3.2" width="13.4" height="6.4" rx="1" fill="#e6ecf2" stroke="#3a3a3a" stroke-width="0.6"/>
<rect x="-8.3" y="-2.8" width="2.6" height="5.6" rx="0.8" fill="#111"/>
<rect x="2.3" y="-3" width="3" height="6" rx="1" fill="#111"/>
<rect x="-4.9" y="-2.3" width="5" height="4.6" rx="1.3" fill="#3a8fd8"/></g>
<g transform="translate(279.3 258.8)"><circle cx="0" cy="0" r="0.9" fill="#e8423f"/>
<path d="M2.2,-2.2 Q3.6,0 2.2,2.2 M4,-3.4 Q6,0 4,3.4 M5.8,-4.6 Q8.4,0 5.8,4.6" fill="none" stroke="#ea5a55" stroke-width="0.8"/></g>
<g transform="translate(290.6 258.8)" opacity="0.85"><rect x="-10.4" y="-4.1" width="20.8" height="8.2" rx="3.6" fill="#f4f4f4" stroke="#bbb" stroke-width="0.35"/>
<rect x="-8.2" y="-3.2" width="13.4" height="6.4" rx="1" fill="#f0f0f0" stroke="#c4c4c4" stroke-width="0.6"/>
<rect x="-8.3" y="-2.8" width="2.6" height="5.6" rx="0.8" fill="#cfcfcf"/>
<rect x="2.3" y="-3" width="3" height="6" rx="1" fill="#cfcfcf"/>
<rect x="-4.6" y="-2.1" width="4.4" height="4.2" fill="none" stroke="#c8c8c8" stroke-width="0.5"/></g>
<g transform="translate(302.1 258.8)"><path d="M1.2,-1.5 Q2.2,0 1.2,1.5 M2.8,-2.6 Q4.2,0 2.8,2.6 M4.4,-3.6 Q6.2,0 4.4,3.6" fill="none" stroke="#c4c4c4" stroke-width="0.7"/></g>
<g transform="translate(321.5 258.8)" opacity="0.85"><rect x="-10.4" y="-4.1" width="20.8" height="8.2" rx="3.6" fill="#f4f4f4" stroke="#bbb" stroke-width="0.35"/>
<rect x="-8.2" y="-3.2" width="13.4" height="6.4" rx="1" fill="#f0f0f0" stroke="#c4c4c4" stroke-width="0.6"/>
<rect x="-8.3" y="-2.8" width="2.6" height="5.6" rx="0.8" fill="#cfcfcf"/>
<rect x="2.3" y="-3" width="3" height="6" rx="1" fill="#cfcfcf"/>
<rect x="-4.6" y="-2.1" width="4.4" height="4.2" fill="none" stroke="#c8c8c8" stroke-width="0.5"/></g>
<g transform="translate(333.0 258.8)"><path d="M1.2,-1.5 Q2.2,0 1.2,1.5 M2.8,-2.6 Q4.2,0 2.8,2.6 M4.4,-3.6 Q6.2,0 4.4,3.6" fill="none" stroke="#c4c4c4" stroke-width="0.7"/></g>
<g transform="translate(350.2 258.8)"><rect x="-10.4" y="-4.1" width="20.8" height="8.2" rx="3.6" fill="#fff" stroke="#a8a8a8" stroke-width="0.3"/>
<rect x="-8.2" y="-3.2" width="13.4" height="6.4" rx="1" fill="#e6ecf2" stroke="#3a3a3a" stroke-width="0.6"/>
<rect x="-8.3" y="-2.8" width="2.6" height="5.6" rx="0.8" fill="#111"/>
<rect x="2.3" y="-3" width="3" height="6" rx="1" fill="#111"/>
<rect x="-4.9" y="-2.3" width="5" height="4.6" rx="1.3" fill="#3a8fd8"/></g>
<g transform="translate(362.5 258.8)"><circle cx="0" cy="0" r="0.9" fill="#e8423f"/>
<path d="M2.2,-2.2 Q3.6,0 2.2,2.2 M4,-3.4 Q6,0 4,3.4 M5.8,-4.6 Q8.4,0 5.8,4.6" fill="none" stroke="#ea5a55" stroke-width="0.8"/></g>
<g transform="translate(381.7 258.8)"><rect x="-10.4" y="-4.1" width="20.8" height="8.2" rx="3.6" fill="#fff" stroke="#a8a8a8" stroke-width="0.3"/>
<rect x="-8.2" y="-3.2" width="13.4" height="6.4" rx="1" fill="#e6ecf2" stroke="#3a3a3a" stroke-width="0.6"/>
<rect x="-8.3" y="-2.8" width="2.6" height="5.6" rx="0.8" fill="#111"/>
<rect x="2.3" y="-3" width="3" height="6" rx="1" fill="#111"/>
<rect x="-4.9" y="-2.3" width="5" height="4.6" rx="1.3" fill="#3a8fd8"/></g>
<g transform="translate(394.0 258.8)"><circle cx="0" cy="0" r="0.9" fill="#e8423f"/>
<path d="M2.2,-2.2 Q3.6,0 2.2,2.2 M4,-3.4 Q6,0 4,3.4 M5.8,-4.6 Q8.4,0 5.8,4.6" fill="none" stroke="#ea5a55" stroke-width="0.8"/></g>
<g transform="translate(444.8 258.8)"><rect x="-10.4" y="-4.1" width="20.8" height="8.2" rx="3.6" fill="#fff" stroke="#a8a8a8" stroke-width="0.3"/>
<rect x="-8.2" y="-3.2" width="13.4" height="6.4" rx="1" fill="#e6ecf2" stroke="#3a3a3a" stroke-width="0.6"/>
<rect x="-8.3" y="-2.8" width="2.6" height="5.6" rx="0.8" fill="#111"/>
<rect x="2.3" y="-3" width="3" height="6" rx="1" fill="#111"/>
<rect x="-4.9" y="-2.3" width="5" height="4.6" rx="1.3" fill="#3a8fd8"/></g>
<g transform="translate(457.1 258.8)"><circle cx="0" cy="0" r="0.9" fill="#e8423f"/>
<path d="M2.2,-2.2 Q3.6,0 2.2,2.2 M4,-3.4 Q6,0 4,3.4 M5.8,-4.6 Q8.4,0 5.8,4.6" fill="none" stroke="#ea5a55" stroke-width="0.8"/></g>
<g transform="translate(476.3 258.8)"><rect x="-10.4" y="-4.1" width="20.8" height="8.2" rx="3.6" fill="#fff" stroke="#a8a8a8" stroke-width="0.3"/>
<rect x="-8.2" y="-3.2" width="13.4" height="6.4" rx="1" fill="#e6ecf2" stroke="#3a3a3a" stroke-width="0.6"/>
<rect x="-8.3" y="-2.8" width="2.6" height="5.6" rx="0.8" fill="#111"/>
<rect x="2.3" y="-3" width="3" height="6" rx="1" fill="#111"/>
<rect x="-4.9" y="-2.3" width="5" height="4.6" rx="1.3" fill="#3a8fd8"/></g>
<g transform="translate(488.6 258.8)"><circle cx="0" cy="0" r="0.9" fill="#e8423f"/>
<path d="M2.2,-2.2 Q3.6,0 2.2,2.2 M4,-3.4 Q6,0 4,3.4 M5.8,-4.6 Q8.4,0 5.8,4.6" fill="none" stroke="#ea5a55" stroke-width="0.8"/></g>
<g transform="translate(413.3 258.8)" opacity="0.85"><rect x="-10.4" y="-4.1" width="20.8" height="8.2" rx="3.6" fill="#f4f4f4" stroke="#bbb" stroke-width="0.35"/>
<rect x="-8.2" y="-3.2" width="13.4" height="6.4" rx="1" fill="#f0f0f0" stroke="#c4c4c4" stroke-width="0.6"/>
<rect x="-8.3" y="-2.8" width="2.6" height="5.6" rx="0.8" fill="#cfcfcf"/>
<rect x="2.3" y="-3" width="3" height="6" rx="1" fill="#cfcfcf"/>
<rect x="-4.6" y="-2.1" width="4.4" height="4.2" fill="none" stroke="#c8c8c8" stroke-width="0.5"/></g>
<g transform="translate(424.8 258.8)"><path d="M1.2,-1.5 Q2.2,0 1.2,1.5 M2.8,-2.6 Q4.2,0 2.8,2.6 M4.4,-3.6 Q6.2,0 4.4,3.6" fill="none" stroke="#c4c4c4" stroke-width="0.7"/></g>
<g transform="translate(412 276.3)"><rect x="-10.4" y="-4.1" width="20.8" height="8.2" rx="3.6" fill="#fff" stroke="#a8a8a8" stroke-width="0.3"/>
<rect x="-8.2" y="-3.2" width="13.4" height="6.4" rx="1" fill="#e6ecf2" stroke="#3a3a3a" stroke-width="0.6"/>
<rect x="-8.3" y="-2.8" width="2.6" height="5.6" rx="0.8" fill="#111"/>
<rect x="2.3" y="-3" width="3" height="6" rx="1" fill="#111"/>
<rect x="-4.9" y="-2.3" width="5" height="4.6" rx="1.3" fill="#3a8fd8"/></g>
<g transform="translate(424.3 276.3)"><circle cx="0" cy="0" r="0.9" fill="#e8423f"/>
<path d="M2.2,-2.2 Q3.6,0 2.2,2.2 M4,-3.4 Q6,0 4,3.4 M5.8,-4.6 Q8.4,0 5.8,4.6" fill="none" stroke="#ea5a55" stroke-width="0.8"/></g>
<g transform="translate(307.9 318.3) rotate(-30.3)"><g transform=""><rect x="-10.4" y="-4.1" width="20.8" height="8.2" rx="3.6" fill="#fff" stroke="#a8a8a8" stroke-width="0.3"/>
<rect x="-8.2" y="-3.2" width="13.4" height="6.4" rx="1" fill="#e6ecf2" stroke="#3a3a3a" stroke-width="0.6"/>
<rect x="-8.3" y="-2.8" width="2.6" height="5.6" rx="0.8" fill="#111"/>
<rect x="2.3" y="-3" width="3" height="6" rx="1" fill="#111"/>
<rect x="-4.9" y="-2.3" width="5" height="4.6" rx="1.3" fill="#3a8fd8"/></g><g transform="translate(12.3 0)"><circle cx="0" cy="0" r="0.9" fill="#e8423f"/>
<path d="M2.2,-2.2 Q3.6,0 2.2,2.2 M4,-3.4 Q6,0 4,3.4 M5.8,-4.6 Q8.4,0 5.8,4.6" fill="none" stroke="#ea5a55" stroke-width="0.8"/></g></g>
<g transform="translate(334.7 302.4) rotate(-30.3)"><g transform=""><rect x="-10.4" y="-4.1" width="20.8" height="8.2" rx="3.6" fill="#fff" stroke="#a8a8a8" stroke-width="0.3"/>
<rect x="-8.2" y="-3.2" width="13.4" height="6.4" rx="1" fill="#e6ecf2" stroke="#3a3a3a" stroke-width="0.6"/>
<rect x="-8.3" y="-2.8" width="2.6" height="5.6" rx="0.8" fill="#111"/>
<rect x="2.3" y="-3" width="3" height="6" rx="1" fill="#111"/>
<rect x="-4.9" y="-2.3" width="5" height="4.6" rx="1.3" fill="#3a8fd8"/></g><g transform="translate(12.3 0)"><circle cx="0" cy="0" r="0.9" fill="#e8423f"/>
<path d="M2.2,-2.2 Q3.6,0 2.2,2.2 M4,-3.4 Q6,0 4,3.4 M5.8,-4.6 Q8.4,0 5.8,4.6" fill="none" stroke="#ea5a55" stroke-width="0.8"/></g></g>
<rect x="188.2" y="246.9" width="90.8" height="22.4" fill="none" stroke="#34506e" stroke-width="0.7" rx="0" stroke-dasharray="2 1.6"/>
<g transform="translate(325.6 308.1) rotate(-30.3)"><rect x="-38" y="-10" width="76" height="20" fill="none" stroke="#34506e" stroke-width="0.7" stroke-dasharray="2 1.6"/></g>
<path d="M303.2,312.4 Q287,298 288,270.5" fill="none" stroke="#2f7fc1" stroke-width="0.8" stroke-dasharray="2.2 1.4"/>
<path d="M331.2,297.2 Q320,285 321.2,270.5" fill="none" stroke="#2f7fc1" stroke-width="0.8" stroke-dasharray="2.2 1.4"/>
<polygon points="288,265.8 285.9,271.2 290.1,271.2" fill="#2f7fc1" stroke="none" stroke-width="1" />
<polygon points="321.2,265.8 319.1,271.2 323.3,271.2" fill="#2f7fc1" stroke="none" stroke-width="1" />
<line x1="412.6" y1="272" x2="412.8" y2="266.5" stroke="#2f7fc1" stroke-width="0.8" />
<polygon points="412.9,263.6 411.1,268 414.7,268" fill="#2f7fc1" stroke="none" stroke-width="1" />
<text x="153" y="242.2" font-size="12.3" text-anchor="start" font-weight="normal" fill="#111" >Cooperation and slow down</text>
<text x="360" y="245.2" font-size="12.3" text-anchor="start" font-weight="normal" fill="#111" >Merge into the platoon</text>
<text x="200" y="295.8" font-size="12.3" text-anchor="start" font-weight="normal" fill="#1f78c6" >Virtual mapping</text>
<text x="342.3" y="326" font-size="12.3" text-anchor="start" font-weight="normal" fill="#111" >Cooperation and</text>
<text x="342.3" y="340.6" font-size="12.3" text-anchor="start" font-weight="normal" fill="#111" >slow down</text>
<text x="184" y="336.7" font-size="12.3" text-anchor="start" font-weight="normal" fill="#111" >CZ</text>
<text x="454.5" y="335" font-size="12.3" text-anchor="start" font-weight="normal" fill="#111" >MZ</text>
<defs><linearGradient id="cbj" x1="0" y1="1" x2="0" y2="0"><stop offset="0" stop-color="#800000"/><stop offset="0.1" stop-color="#be1414"/><stop offset="0.22" stop-color="#eb501e"/><stop offset="0.35" stop-color="#f5aa28"/><stop offset="0.45" stop-color="#e6dc3c"/><stop offset="0.55" stop-color="#78c896"/><stop offset="0.65" stop-color="#1eb4e6"/><stop offset="0.78" stop-color="#1e78d2"/><stop offset="0.9" stop-color="#2846aa"/><stop offset="1.0" stop-color="#2d308c"/></linearGradient></defs>
<polygon points="50.6,422.4 130.7,366.2 130.7,354.2 50.6,410.4" fill="none" stroke="#e4e4e4" stroke-width="0.5" />
<polygon points="130.7,366.2 199.5,434 199.5,422 130.7,354.2" fill="none" stroke="#e4e4e4" stroke-width="0.5" />
<line x1="50.6" y1="422.4" x2="119.4" y2="490.2" stroke="#c0c0c0" stroke-width="0.6" />
<line x1="119.4" y1="490.2" x2="199.5" y2="434" stroke="#c0c0c0" stroke-width="0.6" />
<line x1="50.6" y1="422.4" x2="50.6" y2="410.7" stroke="#c0c0c0" stroke-width="0.6" />
<line x1="199.5" y1="434" x2="199.1" y2="421.3" stroke="#c0c0c0" stroke-width="0.6" />
<line x1="119.4" y1="490.2" x2="118.8" y2="476.5" stroke="#c0c0c0" stroke-width="0.6" />
<line x1="53.59" y1="425.35" x2="55.19" y2="424.15" stroke="#c0c0c0" stroke-width="0.6" />
<line x1="68.55" y1="440.09" x2="70.15" y2="438.89" stroke="#c0c0c0" stroke-width="0.6" />
<line x1="83.5" y1="454.83" x2="85.1" y2="453.63" stroke="#c0c0c0" stroke-width="0.6" />
<line x1="98.46" y1="469.57" x2="100.06" y2="468.37" stroke="#c0c0c0" stroke-width="0.6" />
<line x1="113.42" y1="484.3" x2="115.02" y2="483.1" stroke="#c0c0c0" stroke-width="0.6" />
<line x1="121.83" y1="488.5" x2="120.33" y2="487" stroke="#c0c0c0" stroke-width="0.6" />
<line x1="146.1" y1="471.47" x2="144.6" y2="469.97" stroke="#c0c0c0" stroke-width="0.6" />
<line x1="170.37" y1="454.44" x2="168.87" y2="452.94" stroke="#c0c0c0" stroke-width="0.6" />
<line x1="194.65" y1="437.41" x2="193.15" y2="435.91" stroke="#c0c0c0" stroke-width="0.6" />
<polygon points="50.6,410.7 131.3,354.9 199.1,421.3 118.8,476.5" fill="#2e3190" stroke="none" stroke-width="1" />
<defs><filter id="bl1" x="-50%" y="-50%" width="200%" height="200%"><feGaussianBlur stdDeviation="0.7"/></filter></defs>
<g filter="url(#bl1)" stroke-linecap="round">
<line x1="86" y1="396" x2="95" y2="391.5" stroke="#2a8fd8" stroke-width="1.1" stroke-opacity="0.75"/>
<line x1="90" y1="399" x2="99" y2="394" stroke="#1f6fc8" stroke-width="0.8800000000000001" stroke-opacity="0.75"/>
<line x1="95" y1="405" x2="105" y2="400.5" stroke="#2a7fd0" stroke-width="0.8800000000000001" stroke-opacity="0.75"/>
<line x1="103" y1="411" x2="112" y2="407" stroke="#1f6fc8" stroke-width="0.8800000000000001" stroke-opacity="0.75"/>
<line x1="108" y1="414" x2="118" y2="409.5" stroke="#2a7fd0" stroke-width="0.8800000000000001" stroke-opacity="0.75"/>
<line x1="112" y1="418" x2="123" y2="413" stroke="#1f6fc8" stroke-width="0.77" stroke-opacity="0.75"/>
<line x1="119" y1="421" x2="128" y2="417" stroke="#2a80d0" stroke-width="0.8800000000000001" stroke-opacity="0.75"/>
<line x1="121" y1="432" x2="133" y2="426.5" stroke="#25a0e0" stroke-width="1.1" stroke-opacity="0.75"/>
<line x1="127" y1="444" x2="142" y2="437" stroke="#1f8fe0" stroke-width="0.9900000000000001" stroke-opacity="0.75"/>
<line x1="133" y1="449" x2="147" y2="442" stroke="#2ab0e8" stroke-width="1.2100000000000002" stroke-opacity="0.75"/>
<line x1="135" y1="453" x2="149" y2="446.5" stroke="#30c0f0" stroke-width="1.4300000000000002" stroke-opacity="0.75"/>
<line x1="138" y1="456" x2="150" y2="451" stroke="#2fb8f0" stroke-width="1.1" stroke-opacity="0.75"/>
<line x1="140" y1="460" x2="148" y2="456" stroke="#45d0f5" stroke-width="1.7600000000000002" stroke-opacity="0.75"/>
<line x1="104" y1="395" x2="113" y2="390" stroke="#1f5fb8" stroke-width="0.77" stroke-opacity="0.75"/>
<line x1="98" y1="389" x2="106" y2="385" stroke="#1f5fb8" stroke-width="0.66" stroke-opacity="0.75"/>
<line x1="113" y1="425" x2="124" y2="420" stroke="#1f60c0" stroke-width="0.77" stroke-opacity="0.75"/>
</g>
<ellipse cx="145.5" cy="462.5" rx="2.6" ry="1.2" fill="#40c8f0" transform="rotate(-30 145.5 462.5)"/>
<rect x="203.2" y="362.9" width="3.1" height="79.3" fill="url(#cbj)" stroke="none" stroke-width="1" rx="0" />
<text x="209.5" y="367.4" font-size="11" text-anchor="start" font-weight="normal" fill="#262626" >120</text>
<text x="209.5" y="394" font-size="11" text-anchor="start" font-weight="normal" fill="#262626" >110</text>
<text x="209.5" y="420.5" font-size="11" text-anchor="start" font-weight="normal" fill="#262626" >100</text>
<text x="209.5" y="447.1" font-size="11" text-anchor="start" font-weight="normal" fill="#262626" >90</text>
<text x="166.4" y="356" font-size="11" fill="#262626">Unit: km·h<tspan dy="-4.2" font-size="7.7">-1</tspan></text>
<text x="47.5" y="411.4" font-size="11" text-anchor="end" font-weight="normal" fill="#262626" >120</text>
<text x="47.5" y="423.7" font-size="11" text-anchor="end" font-weight="normal" fill="#262626" >80</text>
<text x="38.9" y="437.3" font-size="11" text-anchor="middle" font-weight="normal" fill="#262626" >50</text>
<text x="52" y="452.6" font-size="11" text-anchor="middle" font-weight="normal" fill="#262626" >100</text>
<text x="67.8" y="467.5" font-size="11" text-anchor="middle" font-weight="normal" fill="#262626" >150</text>
<text x="82.7" y="483.2" font-size="11" text-anchor="middle" font-weight="normal" fill="#262626" >200</text>
<text x="98.5" y="498.7" font-size="11" text-anchor="middle" font-weight="normal" fill="#262626" >250</text>
<text x="131.7" y="504.3" font-size="11" text-anchor="middle" font-weight="normal" fill="#262626" >800</text>
<text x="159.3" y="488.6" font-size="11" text-anchor="middle" font-weight="normal" fill="#262626" >1000</text>
<text x="181.7" y="472.7" font-size="11" text-anchor="middle" font-weight="normal" fill="#262626" >1200</text>
<text x="204.2" y="456.7" font-size="11" text-anchor="middle" font-weight="normal" fill="#262626" >1400</text>
<text x="19.6" y="500.4" font-size="13" text-anchor="start" font-weight="normal" fill="#262626" >Time (s)</text>
<text x="153.5" y="503.8" font-size="13" text-anchor="start" font-weight="normal" fill="#262626" >Position (m)</text>
<text transform="translate(21 417) rotate(-90)" text-anchor="middle" font-size="13" fill="#262626">Speed (km·h<tspan dy="-5.7" font-size="9.1">-1</tspan><tspan dy="5.7">)</tspan></text>
<rect x="283" y="355.1" width="154.5" height="121.9" fill="#fff" stroke="none" stroke-width="1" rx="0" />
<rect x="283" y="379.48" width="154.5" height="24.38" fill="#bef0b6" stroke="none" stroke-width="1" rx="0" />
<rect x="283" y="403.86" width="154.5" height="48.76" fill="#b6f3f3" stroke="none" stroke-width="1" rx="0" />
<defs><clipPath id="cb2"><rect x="283" y="355.1" width="154.5" height="121.89999999999998"/></clipPath></defs>
<g clip-path="url(#cb2)">
<path d="M231.5,240.03L489,42.55M231.5,241.95L489,44.47M231.5,244.45L489,46.97M231.5,246.89L489,49.41M231.5,249.15L489,51.68M231.5,251.13L489,53.65M231.5,253.75L489,56.27M231.5,256.38L489,58.9M231.5,258.68L489,61.2M231.5,260.98L489,63.5M231.5,262.98L489,65.5M231.5,264.72L489,67.24M231.5,266.87L489,69.39M231.5,269.25L489,71.77M231.5,271.07L489,73.59M231.5,273.68L489,76.2M231.5,275.68L489,78.2M231.5,277.67L489,80.19M231.5,279.46L489,81.98M231.5,282.3L489,84.82M231.5,284.85L489,87.37M231.5,287.56L489,90.08M231.5,289.98L489,92.5M231.5,291.75L489,94.27M231.5,293.85L489,96.38M231.5,296.14L489,98.66M231.5,298.01L489,100.53M231.5,300.8L489,103.32M231.5,302.94L489,105.46M231.5,304.85L489,107.37M231.5,307.49L489,110.02M231.5,309.37L489,111.89M231.5,312.13L489,114.66M231.5,314.37L489,116.89M231.5,316.72L489,119.24M231.5,318.84L489,121.36M231.5,321.11L489,123.63M231.5,323.06L489,125.58M231.5,324.83L489,127.36M231.5,327.53L489,130.05M231.5,329.53L489,132.05M231.5,332.13L489,134.65M231.5,334.1L489,136.62M231.5,336.91L489,139.43M231.5,339.63L489,142.15M231.5,342.21L489,144.73M231.5,344.79L489,147.31M231.5,347.17L489,149.69M231.5,349.71L489,152.23M231.5,351.58L489,154.11M231.5,353.85L489,156.37M231.5,356.5L489,159.02M231.5,358.46L489,160.98M231.5,361.22L489,163.74M231.5,363.94L489,166.46M231.5,366.13L489,168.65M231.5,368.27L489,170.79M231.5,370.51L489,173.03M231.5,372.67L489,175.2M231.5,375.51L489,178.03M231.5,377.68L489,180.2M231.5,379.44L489,181.97M231.5,381.29L489,183.81M231.5,383.82L489,186.34M231.5,386.65L489,189.17M231.5,388.94L489,191.46M231.5,391.22L489,193.74M231.5,393.57L489,196.09M231.5,396.13L489,198.65M231.5,398.12L489,200.64M231.5,400.53L489,203.05M231.5,402.88L489,205.4M231.5,405.31L489,207.83M231.5,407.24L489,209.77M231.5,409.17L489,211.69M231.5,411.29L489,213.81M231.5,414.06L489,216.58M231.5,416.18L489,218.7M231.5,418.58L489,221.1M231.5,420.65L489,223.17M231.5,422.5L489,225.03M231.5,424.31L489,226.84M231.5,426.95L489,229.47M231.5,429.55L489,232.07M231.5,431.7L489,234.22M231.5,434.2L489,236.72M231.5,436.68L489,239.2M231.5,439.41L489,241.93M231.5,442.21L489,244.73M231.5,444.4L489,246.92M231.5,447.23L489,249.75M231.5,450.03L489,252.55M231.5,452.42L489,254.94M231.5,455.14L489,257.66M231.5,457.42L489,259.94M231.5,459.57L489,262.09M231.5,461.58L489,264.1M231.5,464.29L489,266.81M231.5,466.2L489,268.73M231.5,468.02L489,270.54M231.5,470.65L489,273.17M231.5,473.24L489,275.76M231.5,475.51L489,278.04M231.5,478.18L489,280.7M231.5,479.97L489,282.49M231.5,482L489,284.52M231.5,484.05L489,286.58M231.5,486.26L489,288.78M231.5,488.18L489,290.7M231.5,490L489,292.52M231.5,492.11L489,294.63M231.5,494.84L489,297.36M231.5,497.67L489,300.19M231.5,500.23L489,302.75M231.5,502.5L489,305.02M231.5,504.51L489,307.03M231.5,507.31L489,309.83M231.5,509.63L489,312.15M231.5,512.17L489,314.7M231.5,513.94L489,316.46M231.5,515.91L489,318.44M231.5,518.58L489,321.1M231.5,521.2L489,323.72M231.5,523.91L489,326.43M231.5,526.31L489,328.83M231.5,528.52L489,331.04M231.5,530.9L489,333.42M231.5,533.58L489,336.1M231.5,535.66L489,338.18M231.5,537.99L489,340.51M231.5,540.03L489,342.55M231.5,542.62L489,345.14M231.5,544.37L489,346.89M231.5,546.86L489,349.38M231.5,549.65L489,352.18M231.5,551.42L489,353.94M231.5,553.81L489,356.33M231.5,556.26L489,358.78M231.5,558.94L489,361.46M231.5,561.33L489,363.85M231.5,563.35L489,365.87M231.5,565.53L489,368.06M231.5,568.33L489,370.85M231.5,571.07L489,373.59M231.5,572.96L489,375.48M231.5,574.8L489,377.32M231.5,576.64L489,379.16M231.5,578.41L489,380.93M231.5,580.64L489,383.16M231.5,582.53L489,385.05M231.5,585.23L489,387.75M231.5,587.69L489,390.21M231.5,589.57L489,392.09M231.5,591.9L489,394.43M231.5,594L489,396.52M231.5,596.28L489,398.81M231.5,598.26L489,400.79M231.5,600.19L489,402.71M231.5,602.13L489,404.65M231.5,604.28L489,406.8M231.5,606.81L489,409.33M231.5,609.15L489,411.67M231.5,610.94L489,413.46M231.5,613.46L489,415.99M231.5,616.17L489,418.69M231.5,618.76L489,421.28M231.5,621.38L489,423.9M231.5,623.12L489,425.64M231.5,625.37L489,427.89M231.5,627.18L489,429.7M231.5,629.76L489,432.29M231.5,631.69L489,434.22M231.5,634.22L489,436.74" stroke="#8a8a8a" stroke-width="0.35" stroke-opacity="0.75" fill="none"/>
<line x1="231.5" y1="512.94" x2="489" y2="315.46" stroke="#333" stroke-width="0.5" />
<line x1="231.5" y1="518.87" x2="489" y2="321.39" stroke="#333" stroke-width="0.5" />
<line x1="231.5" y1="520.84" x2="489" y2="323.36" stroke="#333" stroke-width="0.5" />
<line x1="231.5" y1="516.5" x2="380.85" y2="401.96" stroke="#f05050" stroke-width="0.9" />
<line x1="380.85" y1="401.96" x2="489" y2="319.02" stroke="#3030f0" stroke-width="0.9" />
</g>
<rect x="283" y="355.1" width="154.5" height="121.9" fill="none" stroke="#7a7a7a" stroke-width="0.6" rx="0" />
<line x1="283" y1="477" x2="283" y2="475" stroke="#262626" stroke-width="0.6" />
<line x1="283" y1="355.1" x2="283" y2="357.1" stroke="#262626" stroke-width="0.6" />
<text x="283" y="491.5" font-size="11.3" text-anchor="middle" font-weight="normal" fill="#262626" >65</text>
<line x1="334.5" y1="477" x2="334.5" y2="475" stroke="#262626" stroke-width="0.6" />
<line x1="334.5" y1="355.1" x2="334.5" y2="357.1" stroke="#262626" stroke-width="0.6" />
<text x="334.5" y="491.5" font-size="11.3" text-anchor="middle" font-weight="normal" fill="#262626" >70</text>
<line x1="386" y1="477" x2="386" y2="475" stroke="#262626" stroke-width="0.6" />
<line x1="386" y1="355.1" x2="386" y2="357.1" stroke="#262626" stroke-width="0.6" />
<text x="386" y="491.5" font-size="11.3" text-anchor="middle" font-weight="normal" fill="#262626" >75</text>
<line x1="437.5" y1="477" x2="437.5" y2="475" stroke="#262626" stroke-width="0.6" />
<line x1="437.5" y1="355.1" x2="437.5" y2="357.1" stroke="#262626" stroke-width="0.6" />
<text x="437.5" y="491.5" font-size="11.3" text-anchor="middle" font-weight="normal" fill="#262626" >80</text>
<line x1="283" y1="477" x2="285" y2="477" stroke="#262626" stroke-width="0.6" />
<line x1="437.5" y1="477" x2="435.5" y2="477" stroke="#262626" stroke-width="0.6" />
<text x="279.5" y="481.9" font-size="11.3" text-anchor="end" font-weight="normal" fill="#262626" >900</text>
<line x1="283" y1="452.62" x2="285" y2="452.62" stroke="#262626" stroke-width="0.6" />
<line x1="437.5" y1="452.62" x2="435.5" y2="452.62" stroke="#262626" stroke-width="0.6" />
<text x="279.5" y="457.52" font-size="11.3" text-anchor="end" font-weight="normal" fill="#262626" >1000</text>
<line x1="283" y1="428.24" x2="285" y2="428.24" stroke="#262626" stroke-width="0.6" />
<line x1="437.5" y1="428.24" x2="435.5" y2="428.24" stroke="#262626" stroke-width="0.6" />
<text x="279.5" y="433.14" font-size="11.3" text-anchor="end" font-weight="normal" fill="#262626" >1100</text>
<line x1="283" y1="403.86" x2="285" y2="403.86" stroke="#262626" stroke-width="0.6" />
<line x1="437.5" y1="403.86" x2="435.5" y2="403.86" stroke="#262626" stroke-width="0.6" />
<text x="279.5" y="408.76" font-size="11.3" text-anchor="end" font-weight="normal" fill="#262626" >1200</text>
<line x1="283" y1="379.48" x2="285" y2="379.48" stroke="#262626" stroke-width="0.6" />
<line x1="437.5" y1="379.48" x2="435.5" y2="379.48" stroke="#262626" stroke-width="0.6" />
<text x="279.5" y="384.38" font-size="11.3" text-anchor="end" font-weight="normal" fill="#262626" >1300</text>
<line x1="283" y1="355.1" x2="285" y2="355.1" stroke="#262626" stroke-width="0.6" />
<line x1="437.5" y1="355.1" x2="435.5" y2="355.1" stroke="#262626" stroke-width="0.6" />
<text x="279.5" y="360" font-size="11.3" text-anchor="end" font-weight="normal" fill="#262626" >1400</text>
<text x="286.4" y="392" font-size="11.3" text-anchor="start" font-weight="normal" fill="#111" >MZ</text>
<text x="286.4" y="415.5" font-size="11.3" text-anchor="start" font-weight="normal" fill="#111" >CZ</text>
<rect x="292.8" y="437.4" width="142.7" height="37.6" fill="#fff" stroke="#262626" stroke-width="0.5" rx="0" />
<line x1="294.5" y1="443.9" x2="310.5" y2="443.9" stroke="#333" stroke-width="0.8" />
<text x="311.5" y="447.7" font-size="10.6" text-anchor="start" font-weight="normal" fill="#111" >Main lane</text>
<line x1="294.5" y1="455.9" x2="310.5" y2="455.9" stroke="#f05050" stroke-width="0.8" />
<text x="311.5" y="459.7" font-size="10.6" text-anchor="start" font-weight="normal" fill="#111" >On ramp (Before merging)</text>
<line x1="294.5" y1="467.9" x2="310.5" y2="467.9" stroke="#3030f0" stroke-width="0.8" />
<text x="311.5" y="471.7" font-size="10.6" text-anchor="start" font-weight="normal" fill="#111" >On ramp (After merging)</text>
<text x="337.5" y="506.3" font-size="13" text-anchor="start" font-weight="normal" fill="#262626" >Time (s)</text>
<text x="249" y="417" font-size="13" text-anchor="middle" font-weight="normal" fill="#262626" transform="rotate(-90 249 417)">Positon (m)</text>
<rect x="502" y="355.1" width="158.5" height="121.9" fill="#fff" stroke="none" stroke-width="1" rx="0" />
<defs><clipPath id="cb3"><rect x="502" y="355.1" width="158.5" height="121.89999999999998"/></clipPath></defs>
<g clip-path="url(#cb3)">
<polyline points="502,366.64 503.06,366.61 504.11,366.57 505.17,366.53 506.23,366.48 507.28,366.43 508.34,366.38 509.4,366.33 510.45,366.28 511.51,366.22 512.57,366.17 513.62,366.11 514.68,366.06 515.74,366 516.79,365.95 517.85,365.9 518.91,365.86 519.96,365.81 521.02,365.78 522.08,365.74 523.13,365.71 524.19,365.68 525.25,365.66 526.3,365.65 527.36,365.64 528.42,365.64 529.47,365.64 530.53,365.65 531.59,365.66 532.64,365.68 533.7,365.71 534.76,365.74 535.81,365.78 536.87,365.82 537.93,365.87 538.98,365.93 540.04,365.99 541.1,366.05 542.15,366.12 543.21,366.19 544.27,366.26 545.32,366.34 546.38,366.42 547.44,366.51 548.49,366.59 549.55,366.68 550.61,366.77 551.66,366.86 552.72,366.95 553.78,367.03 554.83,367.12 555.89,367.21 556.95,367.29 558,367.37 559.06,367.44 560.12,367.52 561.17,367.58 562.23,367.64 563.29,367.7 564.34,367.75 565.4,367.79 566.46,367.82 567.51,367.84 568.57,367.86 569.63,367.87 570.68,367.86 571.74,367.85 572.8,367.83 573.85,367.8 574.91,367.76 575.97,367.71 577.02,367.65 578.08,367.58 579.14,367.51 580.19,367.43 581.25,367.35 582.31,367.26 583.36,367.17 584.42,367.08 585.48,366.98 586.53,366.89 587.59,366.79 588.65,366.7 589.7,366.61 590.76,366.53 591.82,366.45 592.87,366.37 593.93,366.3 594.99,366.24 596.04,366.19 597.1,366.15 598.16,366.11 599.21,366.08 600.27,366.06 601.33,366.04 602.38,366.04 603.44,366.04 604.5,366.05 605.55,366.06 606.61,366.09 607.67,366.11 608.72,366.14 609.78,366.18 610.84,366.22 611.89,366.26 612.95,366.3 614.01,366.35 615.06,366.39 616.12,366.44 617.18,366.48 618.23,366.52 619.29,366.56 620.35,366.6 621.4,366.63 622.46,366.66 623.52,366.68 624.57,366.71 625.63,366.72 626.69,366.73 627.74,366.74 628.8,366.74 629.86,366.73 630.91,366.72 631.97,366.71 633.03,366.69 634.08,366.66 635.14,366.63 636.2,366.59 637.25,366.56 638.31,366.51 639.37,366.47 640.42,366.42 641.48,366.37 642.54,366.31 643.59,366.26 644.65,366.2 645.71,366.15 646.76,366.09 647.82,366.04 648.88,365.99 649.93,365.94 650.99,365.89 652.05,365.84 653.1,365.8 654.16,365.76 655.22,365.73 656.27,365.7 657.33,365.67 658.39,365.65 659.44,365.64 660.5,365.63" fill="none" stroke="#0072bd" stroke-width="0.8" />
<polyline points="502,366.18 503.06,366.18 504.11,366.18 505.17,366.18 506.23,366.18 507.28,366.18 508.34,366.18 509.4,366.18 510.45,366.18 511.51,366.18 512.57,366.18 513.62,366.18 514.68,366.18 515.74,366.19 516.79,366.19 517.85,366.19 518.91,366.19 519.96,366.2 521.02,366.2 522.08,366.21 523.13,366.22 524.19,366.23 525.25,366.24 526.3,366.26 527.36,366.28 528.42,366.3 529.47,366.33 530.53,366.37 531.59,366.41 532.64,366.45 533.7,366.51 534.76,366.57 535.81,366.64 536.87,366.72 537.93,366.8 538.98,366.9 540.04,366.99 541.1,367.1 542.15,367.2 543.21,367.31 544.27,367.43 545.32,367.53 546.38,367.64 547.44,367.74 548.49,367.83 549.55,367.92 550.61,367.99 551.66,368.05 552.72,368.09 553.78,368.11 554.83,368.12 555.89,368.11 556.95,368.09 558,368.05 559.06,367.99 560.12,367.92 561.17,367.83 562.23,367.74 563.29,367.64 564.34,367.53 565.4,367.43 566.46,367.31 567.51,367.2 568.57,367.1 569.63,366.99 570.68,366.9 571.74,366.8 572.8,366.72 573.85,366.64 574.91,366.57 575.97,366.51 577.02,366.45 578.08,366.41 579.14,366.37 580.19,366.33 581.25,366.3 582.31,366.28 583.36,366.26 584.42,366.24 585.48,366.23 586.53,366.22 587.59,366.21 588.65,366.2 589.7,366.2 590.76,366.19 591.82,366.19 592.87,366.19 593.93,366.19 594.99,366.18 596.04,366.18 597.1,366.18 598.16,366.18 599.21,366.18 600.27,366.18 601.33,366.18 602.38,366.18 603.44,366.18 604.5,366.18 605.55,366.18 606.61,366.18 607.67,366.18 608.72,366.18 609.78,366.18 610.84,366.18 611.89,366.18 612.95,366.18 614.01,366.18 615.06,366.18 616.12,366.18 617.18,366.18 618.23,366.18 619.29,366.18 620.35,366.18 621.4,366.18 622.46,366.18 623.52,366.18 624.57,366.18 625.63,366.18 626.69,366.18 627.74,366.18 628.8,366.18 629.86,366.18 630.91,366.18 631.97,366.18 633.03,366.18 634.08,366.18 635.14,366.18 636.2,366.18 637.25,366.18 638.31,366.18 639.37,366.18 640.42,366.18 641.48,366.18 642.54,366.18 643.59,366.18 644.65,366.18 645.71,366.18 646.76,366.18 647.82,366.18 648.88,366.18 649.93,366.18 650.99,366.18 652.05,366.18 653.1,366.18 654.16,366.18 655.22,366.18 656.27,366.18 657.33,366.18 658.39,366.18 659.44,366.18 660.5,366.18" fill="none" stroke="#d95319" stroke-width="0.8" />
<polyline points="502,366.18 503.06,366.18 504.11,366.18 505.17,366.18 506.23,366.18 507.28,366.18 508.34,366.18 509.4,366.18 510.45,366.18 511.51,366.18 512.57,366.18 513.62,366.18 514.68,366.18 515.74,366.18 516.79,366.18 517.85,366.18 518.91,366.18 519.96,366.18 521.02,366.18 522.08,366.18 523.13,366.18 524.19,366.19 525.25,366.19 526.3,366.19 527.36,366.2 528.42,366.22 529.47,366.24 530.53,366.28 531.59,366.34 532.64,366.44 533.7,366.58 534.76,366.79 535.81,367.11 536.87,367.55 537.93,368.16 538.98,368.98 540.04,370.08 541.1,371.5 542.15,373.28 543.21,375.49 544.27,378.13 545.32,381.22 546.38,384.73 547.44,388.61 548.49,392.77 549.55,397.07 550.61,401.36 551.66,405.45 552.72,409.15 553.78,412.26 554.83,414.63 555.89,416.1 556.95,416.6 558,416.46 559.06,416.05 560.12,415.36 561.17,414.42 562.23,413.23 563.29,411.82 564.34,410.2 565.4,408.41 566.46,406.47 567.51,404.4 568.57,402.24 569.63,400.02 570.68,397.75 571.74,395.48 572.8,393.22 573.85,390.99 574.91,388.83 575.97,386.73 577.02,384.73 578.08,382.83 579.14,381.04 580.19,379.38 581.25,377.83 582.31,376.41 583.36,375.11 584.42,373.93 585.48,372.87 586.53,371.93 587.59,371.09 588.65,370.35 589.7,369.7 590.76,369.14 591.82,368.65 592.87,368.23 593.93,367.88 594.99,367.57 596.04,367.32 597.1,367.11 598.16,366.93 599.21,366.78 600.27,366.66 601.33,366.56 602.38,366.48 603.44,366.42 604.5,366.37 605.55,366.33 606.61,366.29 607.67,366.27 608.72,366.25 609.78,366.23 610.84,366.22 611.89,366.21 612.95,366.2 614.01,366.2 615.06,366.19 616.12,366.19 617.18,366.19 618.23,366.19 619.29,366.19 620.35,366.18 621.4,366.18 622.46,366.18 623.52,366.18 624.57,366.18 625.63,366.18 626.69,366.18 627.74,366.18 628.8,366.18 629.86,366.18 630.91,366.18 631.97,366.18 633.03,366.18 634.08,366.18 635.14,366.18 636.2,366.18 637.25,366.18 638.31,366.18 639.37,366.18 640.42,366.18 641.48,366.18 642.54,366.18 643.59,366.18 644.65,366.18 645.71,366.18 646.76,366.18 647.82,366.18 648.88,366.18 649.93,366.18 650.99,366.18 652.05,366.18 653.1,366.18 654.16,366.18 655.22,366.18 656.27,366.18 657.33,366.18 658.39,366.18 659.44,366.18 660.5,366.18" fill="none" stroke="#3333ff" stroke-width="0.9" />
<polyline points="502,366.18 503.06,366.18 504.11,366.18 505.17,366.18 506.23,366.18 507.28,366.18 508.34,366.18 509.4,366.18 510.45,366.18 511.51,366.18 512.57,366.18 513.62,366.18 514.68,366.18 515.74,366.18 516.79,366.18 517.85,366.18 518.91,366.18 519.96,366.18 521.02,366.18 522.08,366.19 523.13,366.19 524.19,366.19 525.25,366.19 526.3,366.2 527.36,366.2 528.42,366.21 529.47,366.23 530.53,366.25 531.59,366.27 532.64,366.3 533.7,366.35 534.76,366.41 535.81,366.49 536.87,366.59 537.93,366.72 538.98,366.89 540.04,367.11 541.1,367.37 542.15,367.7 543.21,368.1 544.27,368.59 545.32,369.18 546.38,369.88 547.44,370.69 548.49,371.65 549.55,372.74 550.61,373.98 551.66,375.37 552.72,376.92 553.78,378.61 554.83,380.45 555.89,382.41 556.95,384.48 558,386.63 559.06,388.83 560.12,391.05 561.17,393.24 562.23,395.37 563.29,397.38 564.34,399.23 565.4,400.89 566.46,402.31 567.51,403.45 568.57,404.28 569.63,404.8 570.68,404.97 571.74,404.89 572.8,404.68 573.85,404.31 574.91,403.81 575.97,403.18 577.02,402.42 578.08,401.54 579.14,400.55 580.19,399.46 581.25,398.29 582.31,397.04 583.36,395.73 584.42,394.36 585.48,392.96 586.53,391.53 587.59,390.09 588.65,388.64 589.7,387.2 590.76,385.78 591.82,384.39 592.87,383.03 593.93,381.72 594.99,380.45 596.04,379.24 597.1,378.08 598.16,376.99 599.21,375.96 600.27,374.99 601.33,374.09 602.38,373.26 603.44,372.49 604.5,371.78 605.55,371.13 606.61,370.54 607.67,370.01 608.72,369.53 609.78,369.1 610.84,368.71 611.89,368.37 612.95,368.07 614.01,367.8 615.06,367.56 616.12,367.36 617.18,367.18 618.23,367.03 619.29,366.89 620.35,366.78 621.4,366.68 622.46,366.6 623.52,366.53 624.57,366.47 625.63,366.42 626.69,366.37 627.74,366.34 628.8,366.31 629.86,366.29 630.91,366.27 631.97,366.25 633.03,366.24 634.08,366.22 635.14,366.22 636.2,366.21 637.25,366.2 638.31,366.2 639.37,366.2 640.42,366.19 641.48,366.19 642.54,366.19 643.59,366.19 644.65,366.19 645.71,366.18 646.76,366.18 647.82,366.18 648.88,366.18 649.93,366.18 650.99,366.18 652.05,366.18 653.1,366.18 654.16,366.18 655.22,366.18 656.27,366.18 657.33,366.18 658.39,366.18 659.44,366.18 660.5,366.18" fill="none" stroke="#ff3333" stroke-width="0.9" />
<polyline points="502,366.18 503.06,366.18 504.11,366.18 505.17,366.18 506.23,366.18 507.28,366.18 508.34,366.18 509.4,366.18 510.45,366.18 511.51,366.18 512.57,366.18 513.62,366.18 514.68,366.18 515.74,366.18 516.79,366.18 517.85,366.18 518.91,366.18 519.96,366.18 521.02,366.18 522.08,366.18 523.13,366.18 524.19,366.18 525.25,366.18 526.3,366.19 527.36,366.19 528.42,366.2 529.47,366.21 530.53,366.23 531.59,366.26 532.64,366.31 533.7,366.38 534.76,366.49 535.81,366.65 536.87,366.89 537.93,367.23 538.98,367.7 540.04,368.34 541.1,369.2 542.15,370.33 543.21,371.78 544.27,373.6 545.32,375.83 546.38,378.5 547.44,381.64 548.49,385.23 549.55,389.22 550.61,393.56 551.66,398.12 552.72,402.77 553.78,407.35 554.83,411.67 555.89,415.54 556.95,418.78 558,421.22 559.06,422.74 560.12,423.25 561.17,423.2 562.23,423.03 563.29,422.75 564.34,422.37 565.4,421.88 566.46,421.28 567.51,420.59 568.57,419.8 569.63,418.91 570.68,417.94 571.74,416.89 572.8,415.77 573.85,414.57 574.91,413.31 575.97,412 577.02,410.63 578.08,409.22 579.14,407.77 580.19,406.3 581.25,404.8 582.31,403.28 583.36,401.76 584.42,400.23 585.48,398.7 586.53,397.18 587.59,395.67 588.65,394.19 589.7,392.72 590.76,391.29 591.82,389.88 592.87,388.51 593.93,387.18 594.99,385.89 596.04,384.64 597.1,383.44 598.16,382.28 599.21,381.17 600.27,380.11 601.33,379.1 602.38,378.14 603.44,377.23 604.5,376.37 605.55,375.56 606.61,374.8 607.67,374.08 608.72,373.41 609.78,372.78 610.84,372.2 611.89,371.65 612.95,371.15 614.01,370.68 615.06,370.25 616.12,369.86 617.18,369.49 618.23,369.16 619.29,368.85 620.35,368.57 621.4,368.32 622.46,368.09 623.52,367.88 624.57,367.69 625.63,367.52 626.69,367.37 627.74,367.23 628.8,367.1 629.86,366.99 630.91,366.89 631.97,366.81 633.03,366.73 634.08,366.66 635.14,366.6 636.2,366.54 637.25,366.5 638.31,366.45 639.37,366.42 640.42,366.38 641.48,366.36 642.54,366.33 643.59,366.31 644.65,366.29 645.71,366.28 646.76,366.26 647.82,366.25 648.88,366.24 649.93,366.23 650.99,366.22 652.05,366.22 653.1,366.21 654.16,366.21 655.22,366.2 656.27,366.2 657.33,366.2 658.39,366.19 659.44,366.19 660.5,366.19" fill="none" stroke="#77ac30" stroke-width="0.9" />
<polyline points="502,366.18 503.06,366.18 504.11,366.18 505.17,366.18 506.23,366.18 507.28,366.18 508.34,366.18 509.4,366.18 510.45,366.18 511.51,366.18 512.57,366.18 513.62,366.18 514.68,366.18 515.74,366.18 516.79,366.18 517.85,366.18 518.91,366.18 519.96,366.18 521.02,366.18 522.08,366.18 523.13,366.18 524.19,366.18 525.25,366.18 526.3,366.18 527.36,366.18 528.42,366.18 529.47,366.19 530.53,366.19 531.59,366.19 532.64,366.2 533.7,366.21 534.76,366.23 535.81,366.25 536.87,366.29 537.93,366.34 538.98,366.41 540.04,366.52 541.1,366.67 542.15,366.88 543.21,367.17 544.27,367.55 545.32,368.05 546.38,368.7 547.44,369.52 548.49,370.56 549.55,371.85 550.61,373.41 551.66,375.27 552.72,377.45 553.78,379.96 554.83,382.8 555.89,385.95 556.95,389.38 558,393.02 559.06,396.81 560.12,400.64 561.17,404.43 562.23,408.04 563.29,411.36 564.34,414.28 565.4,416.67 566.46,418.46 567.51,419.56 568.57,419.93 569.63,419.86 570.68,419.67 571.74,419.36 572.8,418.92 573.85,418.35 574.91,417.68 575.97,416.89 577.02,415.99 578.08,414.99 579.14,413.9 580.19,412.73 581.25,411.47 582.31,410.14 583.36,408.76 584.42,407.31 585.48,405.82 586.53,404.3 587.59,402.74 588.65,401.17 589.7,399.59 590.76,398 591.82,396.41 592.87,394.84 593.93,393.28 594.99,391.74 596.04,390.24 597.1,388.77 598.16,387.34 599.21,385.95 600.27,384.61 601.33,383.32 602.38,382.09 603.44,380.9 604.5,379.78 605.55,378.71 606.61,377.69 607.67,376.74 608.72,375.83 609.78,374.99 610.84,374.2 611.89,373.46 612.95,372.78 614.01,372.15 615.06,371.56 616.12,371.02 617.18,370.52 618.23,370.07 619.29,369.65 620.35,369.28 621.4,368.93 622.46,368.62 623.52,368.34 624.57,368.09 625.63,367.87 626.69,367.67 627.74,367.49 628.8,367.34 629.86,367.21 630.91,367.09 631.97,367 633.03,366.93 634.08,366.88 635.14,366.84 636.2,366.83 637.25,366.83 638.31,366.86 639.37,366.9 640.42,366.97 641.48,367.05 642.54,367.16 643.59,367.27 644.65,367.4 645.71,367.54 646.76,367.68 647.82,367.83 648.88,367.96 649.93,368.09 650.99,368.2 652.05,368.3 653.1,368.36 654.16,368.4 655.22,368.42 656.27,368.4 657.33,368.35 658.39,368.27 659.44,368.17 660.5,368.05" fill="none" stroke="#4dbeee" stroke-width="0.9" />
</g>
<circle cx="534.76" cy="366.18" r="1.2" fill="#3333ff"/>
<circle cx="537.93" cy="366.18" r="1.2" fill="#ff3333"/>
<circle cx="600.27" cy="366.18" r="1.2" fill="#3333ff"/>
<circle cx="603.44" cy="371.17" r="1.2" fill="#ff3333"/>
<rect x="502" y="433" width="158.5" height="38.6" fill="#fff" stroke="#262626" stroke-width="0.5" rx="0" />
<line x1="504" y1="440.3" x2="520" y2="440.3" stroke="#0072bd" stroke-width="1.0" />
<text x="521.2" y="444.1" font-size="10.6" text-anchor="start" font-weight="normal" fill="#111" >Predecessor 2</text>
<line x1="504" y1="452.6" x2="520" y2="452.6" stroke="#d95319" stroke-width="1.0" />
<text x="521.2" y="456.4" font-size="10.6" text-anchor="start" font-weight="normal" fill="#111" >Predecessor 1</text>
<line x1="504" y1="464.9" x2="520" y2="464.9" stroke="#3333ff" stroke-width="1.0" />
<text x="521.2" y="468.7" font-size="10.6" text-anchor="start" font-weight="normal" fill="#111" >Merger 1</text>
<line x1="592" y1="440.3" x2="608" y2="440.3" stroke="#ff3333" stroke-width="1.0" />
<text x="608.5" y="444.1" font-size="10.6" text-anchor="start" font-weight="normal" fill="#111" >Merger 2</text>
<line x1="592" y1="452.6" x2="608" y2="452.6" stroke="#77ac30" stroke-width="1.0" />
<text x="608.5" y="456.4" font-size="10.6" text-anchor="start" font-weight="normal" fill="#111" >Follower 1</text>
<line x1="592" y1="464.9" x2="608" y2="464.9" stroke="#4dbeee" stroke-width="1.0" />
<text x="608.5" y="468.7" font-size="10.6" text-anchor="start" font-weight="normal" fill="#111" >Follower 2</text>
<rect x="502" y="355.1" width="158.5" height="121.9" fill="none" stroke="#262626" stroke-width="0.6" rx="0" />
<line x1="502" y1="477" x2="502" y2="475" stroke="#262626" stroke-width="0.6" />
<line x1="502" y1="355.1" x2="502" y2="357.1" stroke="#262626" stroke-width="0.6" />
<text x="502" y="491.5" font-size="11.3" text-anchor="middle" font-weight="normal" fill="#262626" >65</text>
<line x1="554.83" y1="477" x2="554.83" y2="475" stroke="#262626" stroke-width="0.6" />
<line x1="554.83" y1="355.1" x2="554.83" y2="357.1" stroke="#262626" stroke-width="0.6" />
<text x="554.83" y="491.5" font-size="11.3" text-anchor="middle" font-weight="normal" fill="#262626" >70</text>
<line x1="607.67" y1="477" x2="607.67" y2="475" stroke="#262626" stroke-width="0.6" />
<line x1="607.67" y1="355.1" x2="607.67" y2="357.1" stroke="#262626" stroke-width="0.6" />
<text x="607.67" y="491.5" font-size="11.3" text-anchor="middle" font-weight="normal" fill="#262626" >75</text>
<line x1="660.5" y1="477" x2="660.5" y2="475" stroke="#262626" stroke-width="0.6" />
<line x1="660.5" y1="355.1" x2="660.5" y2="357.1" stroke="#262626" stroke-width="0.6" />
<text x="660.5" y="491.5" font-size="11.3" text-anchor="middle" font-weight="normal" fill="#262626" >80</text>
<line x1="502" y1="477" x2="504" y2="477" stroke="#262626" stroke-width="0.6" />
<line x1="660.5" y1="477" x2="658.5" y2="477" stroke="#262626" stroke-width="0.6" />
<text x="498.5" y="481" font-size="11.3" text-anchor="end" font-weight="normal" fill="#262626" >100</text>
<line x1="502" y1="449.3" x2="504" y2="449.3" stroke="#262626" stroke-width="0.6" />
<line x1="660.5" y1="449.3" x2="658.5" y2="449.3" stroke="#262626" stroke-width="0.6" />
<text x="498.5" y="453.3" font-size="11.3" text-anchor="end" font-weight="normal" fill="#262626" >105</text>
<line x1="502" y1="421.59" x2="504" y2="421.59" stroke="#262626" stroke-width="0.6" />
<line x1="660.5" y1="421.59" x2="658.5" y2="421.59" stroke="#262626" stroke-width="0.6" />
<text x="498.5" y="425.59" font-size="11.3" text-anchor="end" font-weight="normal" fill="#262626" >110</text>
<line x1="502" y1="393.89" x2="504" y2="393.89" stroke="#262626" stroke-width="0.6" />
<line x1="660.5" y1="393.89" x2="658.5" y2="393.89" stroke="#262626" stroke-width="0.6" />
<text x="498.5" y="397.89" font-size="11.3" text-anchor="end" font-weight="normal" fill="#262626" >115</text>
<line x1="502" y1="366.18" x2="504" y2="366.18" stroke="#262626" stroke-width="0.6" />
<line x1="660.5" y1="366.18" x2="658.5" y2="366.18" stroke="#262626" stroke-width="0.6" />
<text x="498.5" y="370.18" font-size="11.3" text-anchor="end" font-weight="normal" fill="#262626" >120</text>
<text x="503.7" y="402" font-size="10.6" text-anchor="start" font-weight="normal" fill="#111" >Enter CZ</text>
<text x="594.4" y="397" font-size="10.6" text-anchor="start" font-weight="normal" fill="#111" >Merging point</text>
<line x1="523.8" y1="387" x2="534.6" y2="370.9" stroke="#000" stroke-width="0.7" />
<polygon points="534.6,370.9 534.15,374.45 531.49,372.67" fill="#000" stroke="none" stroke-width="1" />
<line x1="610" y1="387" x2="604.4" y2="373.6" stroke="#000" stroke-width="0.7" />
<polygon points="604.4,373.6 607.11,375.94 604.16,377.17" fill="#000" stroke="none" stroke-width="1" />
<text x="557" y="505" font-size="13" text-anchor="start" font-weight="normal" fill="#262626" >Time (s)</text>
<text transform="translate(474 420.6) rotate(-90)" text-anchor="middle" font-size="13" fill="#262626">Speed (km·h<tspan dy="-5.7" font-size="9.1">-1</tspan><tspan dy="5.7">)</tspan></text>
<rect x="19.9" y="560.9" width="646.3" height="11.7" fill="#767676" stroke="none" stroke-width="1" rx="0" />
<polygon points="29,588.8 55.5,572.1 86.5,572.1 78.5,579.3 59.5,579.3 32.3,593.6" fill="#767676" stroke="none" stroke-width="1" />
<g transform="translate(39.5 587) rotate(-32)"><line x1="0" y1="0" x2="6" y2="0" stroke="#eee" stroke-width="0.8"/><path d="M8,0 l-2.6,-1.4 v2.8z" fill="#eee"/></g>
<polygon points="191,588.8 217.5,572.1 248.5,572.1 240.5,579.3 221.5,579.3 194.3,593.6" fill="#767676" stroke="none" stroke-width="1" />
<g transform="translate(201.5 587) rotate(-32)"><line x1="0" y1="0" x2="6" y2="0" stroke="#eee" stroke-width="0.8"/><path d="M8,0 l-2.6,-1.4 v2.8z" fill="#eee"/></g>
<polygon points="357.8,588.8 384.3,572.1 415.3,572.1 407.3,579.3 388.3,579.3 361.1,593.6" fill="#767676" stroke="none" stroke-width="1" />
<g transform="translate(368.3 587) rotate(-32)"><line x1="0" y1="0" x2="6" y2="0" stroke="#eee" stroke-width="0.8"/><path d="M8,0 l-2.6,-1.4 v2.8z" fill="#eee"/></g>
<polygon points="524.3,588.8 550.8,572.1 581.8,572.1 573.8,579.3 554.8,579.3 527.6,593.6" fill="#767676" stroke="none" stroke-width="1" />
<g transform="translate(534.8 587) rotate(-32)"><line x1="0" y1="0" x2="6" y2="0" stroke="#eee" stroke-width="0.8"/><path d="M8,0 l-2.6,-1.4 v2.8z" fill="#eee"/></g>
<polygon points="107,572.1 142,572.1 168,589.6 165.2,593.6 140.5,579.3 117,579.3" fill="#767676" stroke="none" stroke-width="1" />
<g transform="translate(152 583) rotate(34)"><line x1="0" y1="0" x2="6" y2="0" stroke="#eee" stroke-width="0.8"/><path d="M8,0 l-2.6,-1.4 v2.8z" fill="#eee"/></g>
<polygon points="272.3,572.1 307.3,572.1 333.3,589.6 330.5,593.6 305.8,579.3 282.3,579.3" fill="#767676" stroke="none" stroke-width="1" />
<g transform="translate(317.3 583) rotate(34)"><line x1="0" y1="0" x2="6" y2="0" stroke="#eee" stroke-width="0.8"/><path d="M8,0 l-2.6,-1.4 v2.8z" fill="#eee"/></g>
<polygon points="427.4,572.1 462.4,572.1 488.4,589.6 485.6,593.6 460.9,579.3 437.4,579.3" fill="#767676" stroke="none" stroke-width="1" />
<g transform="translate(472.4 583) rotate(34)"><line x1="0" y1="0" x2="6" y2="0" stroke="#eee" stroke-width="0.8"/><path d="M8,0 l-2.6,-1.4 v2.8z" fill="#eee"/></g>
<polygon points="598.5,572.1 633.5,572.1 659.5,589.6 656.7,593.6 632,579.3 608.5,579.3" fill="#767676" stroke="none" stroke-width="1" />
<g transform="translate(643.5 583) rotate(34)"><line x1="0" y1="0" x2="6" y2="0" stroke="#eee" stroke-width="0.8"/><path d="M8,0 l-2.6,-1.4 v2.8z" fill="#eee"/></g>
<line x1="19.9" y1="566.75" x2="666.2" y2="566.75" stroke="#e8e8e8" stroke-width="0.6" stroke-dasharray="2.6 1.6"/>
<line x1="30.5" y1="563.8" x2="37.5" y2="563.8" stroke="#f2f2f2" stroke-width="0.9" />
<polygon points="39.5,563.8 36.7,562.3 36.7,565.3" fill="#f2f2f2" stroke="none" stroke-width="1" />
<line x1="30.5" y1="569.6" x2="37.5" y2="569.6" stroke="#f2f2f2" stroke-width="0.9" />
<polygon points="39.5,569.6 36.7,568.1 36.7,571.1" fill="#f2f2f2" stroke="none" stroke-width="1" />
<line x1="172" y1="563.8" x2="179" y2="563.8" stroke="#f2f2f2" stroke-width="0.9" />
<polygon points="181,563.8 178.2,562.3 178.2,565.3" fill="#f2f2f2" stroke="none" stroke-width="1" />
<line x1="172" y1="569.6" x2="179" y2="569.6" stroke="#f2f2f2" stroke-width="0.9" />
<polygon points="181,569.6 178.2,568.1 178.2,571.1" fill="#f2f2f2" stroke="none" stroke-width="1" />
<line x1="340" y1="563.8" x2="347" y2="563.8" stroke="#f2f2f2" stroke-width="0.9" />
<polygon points="349,563.8 346.2,562.3 346.2,565.3" fill="#f2f2f2" stroke="none" stroke-width="1" />
<line x1="340" y1="569.6" x2="347" y2="569.6" stroke="#f2f2f2" stroke-width="0.9" />
<polygon points="349,569.6 346.2,568.1 346.2,571.1" fill="#f2f2f2" stroke="none" stroke-width="1" />
<line x1="498.6" y1="563.8" x2="505.6" y2="563.8" stroke="#f2f2f2" stroke-width="0.9" />
<polygon points="507.6,563.8 504.8,562.3 504.8,565.3" fill="#f2f2f2" stroke="none" stroke-width="1" />
<line x1="498.6" y1="569.6" x2="505.6" y2="569.6" stroke="#f2f2f2" stroke-width="0.9" />
<polygon points="507.6,569.6 504.8,568.1 504.8,571.1" fill="#f2f2f2" stroke="none" stroke-width="1" />
<line x1="643.5" y1="563.8" x2="650.5" y2="563.8" stroke="#f2f2f2" stroke-width="0.9" />
<polygon points="652.5,563.8 649.7,562.3 649.7,565.3" fill="#f2f2f2" stroke="none" stroke-width="1" />
<line x1="643.5" y1="569.6" x2="650.5" y2="569.6" stroke="#f2f2f2" stroke-width="0.9" />
<polygon points="652.5,569.6 649.7,568.1 649.7,571.1" fill="#f2f2f2" stroke="none" stroke-width="1" />
<defs></defs>
<g transform="translate(53.4 563.7) rotate(0)"><rect x="-4.3" y="-2" width="8.6" height="4" rx="2" fill="#fff"/>
<rect x="-3.2" y="-1.6" width="1.2" height="3.2" fill="#222"/><rect x="0.6" y="-1.7" width="1.4" height="3.4" fill="#222"/>
<rect x="-1.9" y="-1.2" width="2.2" height="2.4" fill="#3a8fd8"/>
<path d="M5,0 l2.2,-1.6 v3.2z" fill="#e05050" opacity="0.8"/></g>
<g transform="translate(136.6 563.7) rotate(0)"><rect x="-4.3" y="-2" width="8.6" height="4" rx="2" fill="#fff"/>
<rect x="-3.2" y="-1.6" width="1.2" height="3.2" fill="#222"/><rect x="0.6" y="-1.7" width="1.4" height="3.4" fill="#222"/>
<rect x="-1.9" y="-1.2" width="2.2" height="2.4" fill="#3a8fd8"/>
<path d="M5,0 l2.2,-1.6 v3.2z" fill="#e05050" opacity="0.8"/></g>
<g transform="translate(161.4 563.7) rotate(0)"><rect x="-4.3" y="-2" width="8.6" height="4" rx="2" fill="#fff"/>
<rect x="-3.2" y="-1.6" width="1.2" height="3.2" fill="#222"/><rect x="0.6" y="-1.7" width="1.4" height="3.4" fill="#222"/>
<rect x="-1.9" y="-1.2" width="2.2" height="2.4" fill="#3a8fd8"/>
<path d="M5,0 l2.2,-1.6 v3.2z" fill="#e05050" opacity="0.8"/></g>
<g transform="translate(104.3 569.9) rotate(0)"><rect x="-4.3" y="-2" width="8.6" height="4" rx="2" fill="#fff"/>
<rect x="-3.2" y="-1.6" width="1.2" height="3.2" fill="#222"/><rect x="0.6" y="-1.7" width="1.4" height="3.4" fill="#222"/>
<rect x="-1.9" y="-1.2" width="2.2" height="2.4" fill="#3a8fd8"/>
<path d="M5,0 l2.2,-1.6 v3.2z" fill="#e05050" opacity="0.8"/></g>
<g transform="translate(140.3 567.6) rotate(-25)"><rect x="-4.3" y="-2" width="8.6" height="4" rx="2" fill="#fff"/>
<rect x="-3.2" y="-1.6" width="1.2" height="3.2" fill="#222"/><rect x="0.6" y="-1.7" width="1.4" height="3.4" fill="#222"/>
<rect x="-1.9" y="-1.2" width="2.2" height="2.4" fill="#3a8fd8"/>
<path d="M5,0 l2.2,-1.6 v3.2z" fill="#e05050" opacity="0.8"/></g>
<g transform="translate(255.8 563.6) rotate(0)"><rect x="-4.3" y="-2" width="8.6" height="4" rx="2" fill="#fff"/>
<rect x="-3.2" y="-1.6" width="1.2" height="3.2" fill="#222"/><rect x="0.6" y="-1.7" width="1.4" height="3.4" fill="#222"/>
<rect x="-1.9" y="-1.2" width="2.2" height="2.4" fill="#3a8fd8"/>
<path d="M5,0 l2.2,-1.6 v3.2z" fill="#e05050" opacity="0.8"/></g>
<g transform="translate(212 569.9) rotate(0)"><rect x="-4.3" y="-2" width="8.6" height="4" rx="2" fill="#fff"/>
<rect x="-3.2" y="-1.6" width="1.2" height="3.2" fill="#222"/><rect x="0.6" y="-1.7" width="1.4" height="3.4" fill="#222"/>
<rect x="-1.9" y="-1.2" width="2.2" height="2.4" fill="#3a8fd8"/>
<path d="M5,0 l2.2,-1.6 v3.2z" fill="#e05050" opacity="0.8"/></g>
<g transform="translate(233.9 569.9) rotate(0)"><rect x="-4.3" y="-2" width="8.6" height="4" rx="2" fill="#fff"/>
<rect x="-3.2" y="-1.6" width="1.2" height="3.2" fill="#222"/><rect x="0.6" y="-1.7" width="1.4" height="3.4" fill="#222"/>
<rect x="-1.9" y="-1.2" width="2.2" height="2.4" fill="#3a8fd8"/>
<path d="M5,0 l2.2,-1.6 v3.2z" fill="#e05050" opacity="0.8"/></g>
<g transform="translate(217.4 577.4) rotate(-30)"><rect x="-4.3" y="-2" width="8.6" height="4" rx="2" fill="#fff"/>
<rect x="-3.2" y="-1.6" width="1.2" height="3.2" fill="#222"/><rect x="0.6" y="-1.7" width="1.4" height="3.4" fill="#222"/>
<rect x="-1.9" y="-1.2" width="2.2" height="2.4" fill="#3a8fd8"/>
<path d="M5,0 l2.2,-1.6 v3.2z" fill="#e05050" opacity="0.8"/></g>
<g transform="translate(325.1 569.9) rotate(0)"><rect x="-4.3" y="-2" width="8.6" height="4" rx="2" fill="#fff"/>
<rect x="-3.2" y="-1.6" width="1.2" height="3.2" fill="#222"/><rect x="0.6" y="-1.7" width="1.4" height="3.4" fill="#222"/>
<rect x="-1.9" y="-1.2" width="2.2" height="2.4" fill="#3a8fd8"/>
<path d="M5,0 l2.2,-1.6 v3.2z" fill="#e05050" opacity="0.8"/></g>
<g transform="translate(358 569.9) rotate(0)"><rect x="-4.3" y="-2" width="8.6" height="4" rx="2" fill="#fff"/>
<rect x="-3.2" y="-1.6" width="1.2" height="3.2" fill="#222"/><rect x="0.6" y="-1.7" width="1.4" height="3.4" fill="#222"/>
<rect x="-1.9" y="-1.2" width="2.2" height="2.4" fill="#3a8fd8"/>
<path d="M5,0 l2.2,-1.6 v3.2z" fill="#e05050" opacity="0.8"/></g>
<g transform="translate(439.5 564.4) rotate(0)"><rect x="-4.3" y="-2" width="8.6" height="4" rx="2" fill="#fff"/>
<rect x="-3.2" y="-1.6" width="1.2" height="3.2" fill="#222"/><rect x="0.6" y="-1.7" width="1.4" height="3.4" fill="#222"/>
<rect x="-1.9" y="-1.2" width="2.2" height="2.4" fill="#3a8fd8"/>
<path d="M5,0 l2.2,-1.6 v3.2z" fill="#e05050" opacity="0.8"/></g>
<g transform="translate(562.2 563.7) rotate(0)"><rect x="-4.3" y="-2" width="8.6" height="4" rx="2" fill="#fff"/>
<rect x="-3.2" y="-1.6" width="1.2" height="3.2" fill="#222"/><rect x="0.6" y="-1.7" width="1.4" height="3.4" fill="#222"/>
<rect x="-1.9" y="-1.2" width="2.2" height="2.4" fill="#3a8fd8"/>
<path d="M5,0 l2.2,-1.6 v3.2z" fill="#e05050" opacity="0.8"/></g>
<g transform="translate(422.9 569.9) rotate(0)"><rect x="-4.3" y="-2" width="8.6" height="4" rx="2" fill="#fff"/>
<rect x="-3.2" y="-1.6" width="1.2" height="3.2" fill="#222"/><rect x="0.6" y="-1.7" width="1.4" height="3.4" fill="#222"/>
<rect x="-1.9" y="-1.2" width="2.2" height="2.4" fill="#3a8fd8"/>
<path d="M5,0 l2.2,-1.6 v3.2z" fill="#e05050" opacity="0.8"/></g>
<g transform="translate(454 569.9) rotate(0)"><rect x="-4.3" y="-2" width="8.6" height="4" rx="2" fill="#fff"/>
<rect x="-3.2" y="-1.6" width="1.2" height="3.2" fill="#222"/><rect x="0.6" y="-1.7" width="1.4" height="3.4" fill="#222"/>
<rect x="-1.9" y="-1.2" width="2.2" height="2.4" fill="#3a8fd8"/>
<path d="M5,0 l2.2,-1.6 v3.2z" fill="#e05050" opacity="0.8"/></g>
<g transform="translate(472.8 577.4) rotate(30)"><rect x="-4.3" y="-2" width="8.6" height="4" rx="2" fill="#fff"/>
<rect x="-3.2" y="-1.6" width="1.2" height="3.2" fill="#222"/><rect x="0.6" y="-1.7" width="1.4" height="3.4" fill="#222"/>
<rect x="-1.9" y="-1.2" width="2.2" height="2.4" fill="#3a8fd8"/>
<path d="M5,0 l2.2,-1.6 v3.2z" fill="#e05050" opacity="0.8"/></g>
<g transform="translate(612.1 569.9) rotate(0)"><rect x="-4.3" y="-2" width="8.6" height="4" rx="2" fill="#fff"/>
<rect x="-3.2" y="-1.6" width="1.2" height="3.2" fill="#222"/><rect x="0.6" y="-1.7" width="1.4" height="3.4" fill="#222"/>
<rect x="-1.9" y="-1.2" width="2.2" height="2.4" fill="#3a8fd8"/>
<path d="M5,0 l2.2,-1.6 v3.2z" fill="#e05050" opacity="0.8"/></g>
<rect x="130.6" y="558.2" width="43.2" height="17.1" fill="none" stroke="#222" stroke-width="0.7" rx="0" stroke-dasharray="1.8 1.3"/>
<rect x="202.2" y="565.3" width="42.7" height="16.6" fill="none" stroke="#222" stroke-width="0.7" rx="0" stroke-dasharray="1.8 1.3"/>
<rect x="417.5" y="558.3" width="45.7" height="16.7" fill="none" stroke="#222" stroke-width="0.7" rx="0" stroke-dasharray="1.8 1.3"/>
<text x="70.5" y="555.4" font-size="12.2" text-anchor="start" font-weight="normal" fill="#111" >Main lane 1</text>
<text x="70.5" y="593" font-size="12.2" text-anchor="start" font-weight="normal" fill="#111" >Main lane 2</text>
<text x="169.7" y="587.5" font-size="11.7" text-anchor="start" font-weight="normal" fill="#111" >CP.I</text>
<text x="250.1" y="587.5" font-size="11.7" text-anchor="start" font-weight="normal" fill="#111" >CP.II</text>
<text x="413" y="588" font-size="11.7" text-anchor="start" font-weight="normal" fill="#111" >CP.III</text>
<line x1="66.7" y1="682.9" x2="126" y2="745.5" stroke="#c4c4c4" stroke-width="0.6" />
<line x1="126" y1="745.5" x2="197.3" y2="693.4" stroke="#c4c4c4" stroke-width="0.6" />
<line x1="66.7" y1="671.6" x2="66.7" y2="682.9" stroke="#c4c4c4" stroke-width="0.6" />
<line x1="197.3" y1="682.1" x2="197.3" y2="693.4" stroke="#c4c4c4" stroke-width="0.6" />
<line x1="126" y1="732.7" x2="126" y2="745.5" stroke="#c4c4c4" stroke-width="0.6" />
<line x1="86.27" y1="703.56" x2="87.67" y2="702.46" stroke="#c4c4c4" stroke-width="0.6" />
<line x1="105.84" y1="724.22" x2="107.24" y2="723.12" stroke="#c4c4c4" stroke-width="0.6" />
<line x1="149.53" y1="728.31" x2="148.33" y2="726.91" stroke="#c4c4c4" stroke-width="0.6" />
<line x1="173.06" y1="711.11" x2="171.86" y2="709.71" stroke="#c4c4c4" stroke-width="0.6" />
<polygon points="66.7,671.6 138,621 197.3,682.1 126,732.7" fill="#23267f" stroke="none" stroke-width="1" />
<path d="M68.48,670.34l59.3,61.1M70.27,669.07l59.3,61.1M72.05,667.81l59.3,61.1M73.83,666.54l59.3,61.1M75.61,665.27l59.3,61.1M77.39,664.01l59.3,61.1M79.18,662.75l59.3,61.1M80.96,661.48l59.3,61.1M82.74,660.22l59.3,61.1M84.53,658.95l59.3,61.1M86.31,657.69l59.3,61.1M88.09,656.42l59.3,61.1M89.87,655.15l59.3,61.1M91.66,653.89l59.3,61.1M93.44,652.62l59.3,61.1M95.22,651.36l59.3,61.1M97,650.1l59.3,61.1M98.78,648.83l59.3,61.1M100.57,647.57l59.3,61.1M102.35,646.3l59.3,61.1M104.13,645.03l59.3,61.1M105.92,643.77l59.3,61.1M107.7,642.5l59.3,61.1M109.48,641.24l59.3,61.1M111.26,639.98l59.3,61.1M113.05,638.71l59.3,61.1M114.83,637.45l59.3,61.1M116.61,636.18l59.3,61.1M118.39,634.91l59.3,61.1M120.17,633.65l59.3,61.1M121.96,632.38l59.3,61.1M123.74,631.12l59.3,61.1M125.52,629.86l59.3,61.1M127.31,628.59l59.3,61.1M129.09,627.33l59.3,61.1M130.87,626.06l59.3,61.1M132.65,624.8l59.3,61.1M134.44,623.53l59.3,61.1M136.22,622.26l59.3,61.1" stroke="#15175a" stroke-width="0.35" opacity="0.5"/>
<ellipse cx="116.9" cy="647.4" rx="0.9" ry="1.8" fill="#3fa8d8" opacity="0.85" transform="rotate(-40 116.9 647.4)"/>
<ellipse cx="174.1" cy="675.4" rx="0.9" ry="1.8" fill="#3fa8d8" opacity="0.85" transform="rotate(-40 174.1 675.4)"/>
<ellipse cx="137.9" cy="700" rx="0.9" ry="1.8" fill="#3fa8d8" opacity="0.85" transform="rotate(-40 137.9 700)"/>
<line x1="73.05" y1="667.1" x2="132.35" y2="728.2" stroke="#5a5a5a" stroke-width="1.1" />
<line x1="73.95" y1="667.7" x2="133.25" y2="728.8" stroke="#b8b8b8" stroke-width="0.6" />
<line x1="79.18" y1="662.75" x2="138.48" y2="723.85" stroke="#c8c8c8" stroke-width="1.1" />
<line x1="92.01" y1="653.64" x2="151.31" y2="714.74" stroke="#5a5a5a" stroke-width="1.1" />
<line x1="92.91" y1="654.24" x2="152.21" y2="715.34" stroke="#b8b8b8" stroke-width="0.6" />
<line x1="98.07" y1="649.34" x2="157.37" y2="710.44" stroke="#c8c8c8" stroke-width="1.1" />
<line x1="110.91" y1="640.23" x2="170.21" y2="701.33" stroke="#5a5a5a" stroke-width="1.1" />
<line x1="111.81" y1="640.83" x2="171.11" y2="701.93" stroke="#b8b8b8" stroke-width="0.6" />
<line x1="116.9" y1="635.98" x2="176.2" y2="697.08" stroke="#c8c8c8" stroke-width="1.1" />
<line x1="129.16" y1="627.27" x2="188.46" y2="688.37" stroke="#5a5a5a" stroke-width="1.1" />
<line x1="130.06" y1="627.87" x2="189.36" y2="688.97" stroke="#b8b8b8" stroke-width="0.6" />
<line x1="135.29" y1="622.92" x2="194.59" y2="684.02" stroke="#c8c8c8" stroke-width="1.1" />
<text x="132.9" y="615.5" font-size="12.2" text-anchor="middle" font-weight="normal" fill="#111" >Main lane 1</text>
<text x="61.7" y="671.9" font-size="11" text-anchor="end" font-weight="normal" fill="#262626" >120</text>
<text x="61.7" y="682.6" font-size="11" text-anchor="end" font-weight="normal" fill="#262626" >0</text>
<text x="52.1" y="697" font-size="11" text-anchor="middle" font-weight="normal" fill="#262626" >200</text>
<text x="82.6" y="727.5" font-size="11" text-anchor="middle" font-weight="normal" fill="#262626" >300</text>
<text x="113" y="758.7" font-size="11" text-anchor="middle" font-weight="normal" fill="#262626" >400</text>
<text x="134" y="759.4" font-size="11" text-anchor="middle" font-weight="normal" fill="#262626" >0</text>
<text x="167.7" y="741.9" font-size="11" text-anchor="middle" font-weight="normal" fill="#262626" >2000</text>
<text x="191.8" y="725.3" font-size="11" text-anchor="middle" font-weight="normal" fill="#262626" >4000</text>
<text x="215.9" y="707.3" font-size="11" text-anchor="middle" font-weight="normal" fill="#262626" >6000</text>
<line x1="258.6" y1="684.7" x2="317.2" y2="745.4" stroke="#c4c4c4" stroke-width="0.6" />
<line x1="317.2" y1="745.4" x2="383.7" y2="695.5" stroke="#c4c4c4" stroke-width="0.6" />
<line x1="258.6" y1="673.4" x2="258.6" y2="684.7" stroke="#c4c4c4" stroke-width="0.6" />
<line x1="383.7" y1="684.2" x2="383.7" y2="695.5" stroke="#c4c4c4" stroke-width="0.6" />
<line x1="317.2" y1="732.6" x2="317.2" y2="745.4" stroke="#c4c4c4" stroke-width="0.6" />
<line x1="277.94" y1="704.73" x2="279.34" y2="703.63" stroke="#c4c4c4" stroke-width="0.6" />
<line x1="297.28" y1="724.76" x2="298.68" y2="723.66" stroke="#c4c4c4" stroke-width="0.6" />
<line x1="339.15" y1="728.93" x2="337.95" y2="727.53" stroke="#c4c4c4" stroke-width="0.6" />
<line x1="361.09" y1="712.47" x2="359.89" y2="711.07" stroke="#c4c4c4" stroke-width="0.6" />
<polygon points="258.6,673.4 325.1,625 383.7,684.2 317.2,732.6" fill="#23267f" stroke="none" stroke-width="1" />
<path d="M260.26,672.19l58.6,59.2M261.93,670.98l58.6,59.2M263.59,669.77l58.6,59.2M265.25,668.56l58.6,59.2M266.91,667.35l58.6,59.2M268.58,666.14l58.6,59.2M270.24,664.93l58.6,59.2M271.9,663.72l58.6,59.2M273.56,662.51l58.6,59.2M275.23,661.3l58.6,59.2M276.89,660.09l58.6,59.2M278.55,658.88l58.6,59.2M280.21,657.67l58.6,59.2M281.88,656.46l58.6,59.2M283.54,655.25l58.6,59.2M285.2,654.04l58.6,59.2M286.86,652.83l58.6,59.2M288.53,651.62l58.6,59.2M290.19,650.41l58.6,59.2M291.85,649.2l58.6,59.2M293.51,647.99l58.6,59.2M295.18,646.78l58.6,59.2M296.84,645.57l58.6,59.2M298.5,644.36l58.6,59.2M300.16,643.15l58.6,59.2M301.83,641.94l58.6,59.2M303.49,640.73l58.6,59.2M305.15,639.52l58.6,59.2M306.81,638.31l58.6,59.2M308.48,637.1l58.6,59.2M310.14,635.89l58.6,59.2M311.8,634.68l58.6,59.2M313.46,633.47l58.6,59.2M315.12,632.26l58.6,59.2M316.79,631.05l58.6,59.2M318.45,629.84l58.6,59.2M320.11,628.63l58.6,59.2M321.78,627.42l58.6,59.2M323.44,626.21l58.6,59.2" stroke="#15175a" stroke-width="0.35" opacity="0.5"/>
<ellipse cx="306.3" cy="651.8" rx="1.4" ry="2.4" fill="#3fa8d8" opacity="0.85" transform="rotate(-40 306.3 651.8)"/>
<ellipse cx="360.5" cy="677.9" rx="1.4" ry="2.4" fill="#3fa8d8" opacity="0.85" transform="rotate(-40 360.5 677.9)"/>
<ellipse cx="327.2" cy="701.7" rx="1.4" ry="2.4" fill="#3fa8d8" opacity="0.85" transform="rotate(-40 327.2 701.7)"/>
<line x1="264.52" y1="669.09" x2="323.12" y2="728.29" stroke="#5a5a5a" stroke-width="1.1" />
<line x1="265.42" y1="669.69" x2="324.02" y2="728.89" stroke="#b8b8b8" stroke-width="0.6" />
<line x1="270.24" y1="664.93" x2="328.84" y2="724.13" stroke="#c8c8c8" stroke-width="1.1" />
<line x1="282.21" y1="656.22" x2="340.81" y2="715.42" stroke="#5a5a5a" stroke-width="1.1" />
<line x1="283.11" y1="656.82" x2="341.71" y2="716.02" stroke="#b8b8b8" stroke-width="0.6" />
<line x1="287.86" y1="652.1" x2="346.46" y2="711.3" stroke="#c8c8c8" stroke-width="1.1" />
<line x1="299.83" y1="643.39" x2="358.43" y2="702.59" stroke="#5a5a5a" stroke-width="1.1" />
<line x1="300.73" y1="643.99" x2="359.33" y2="703.19" stroke="#b8b8b8" stroke-width="0.6" />
<line x1="305.42" y1="639.33" x2="364.02" y2="698.53" stroke="#c8c8c8" stroke-width="1.1" />
<line x1="316.85" y1="631" x2="375.45" y2="690.2" stroke="#5a5a5a" stroke-width="1.1" />
<line x1="317.75" y1="631.6" x2="376.35" y2="690.8" stroke="#b8b8b8" stroke-width="0.6" />
<line x1="322.57" y1="626.84" x2="381.17" y2="686.04" stroke="#c8c8c8" stroke-width="1.1" />
<text x="322.6" y="619.6" font-size="12.2" text-anchor="middle" font-weight="normal" fill="#111" >Main lane 2</text>
<text x="252.5" y="674.9" font-size="11" text-anchor="end" font-weight="normal" fill="#262626" >120</text>
<text x="252.5" y="686.2" font-size="11" text-anchor="end" font-weight="normal" fill="#262626" >0</text>
<text x="251.8" y="698.9" font-size="11" text-anchor="middle" font-weight="normal" fill="#262626" >200</text>
<text x="273.9" y="728.9" font-size="11" text-anchor="middle" font-weight="normal" fill="#262626" >300</text>
<text x="302.6" y="759.4" font-size="11" text-anchor="middle" font-weight="normal" fill="#262626" >400</text>
<text x="323.7" y="759.4" font-size="11" text-anchor="middle" font-weight="normal" fill="#262626" >0</text>
<text x="357" y="742.9" font-size="11" text-anchor="middle" font-weight="normal" fill="#262626" >2000</text>
<text x="379.7" y="725.9" font-size="11" text-anchor="middle" font-weight="normal" fill="#262626" >4000</text>
<text x="404.2" y="708.9" font-size="11" text-anchor="middle" font-weight="normal" fill="#262626" >6000</text>
<text x="41.8" y="751.3" font-size="12.6" text-anchor="start" font-weight="normal" fill="#262626" >Time (s)</text>
<text transform="translate(38 677) rotate(-90)" text-anchor="middle" font-size="12.6" fill="#262626">Speed (km·h<tspan dy="-5.5" font-size="8.8">-1</tspan><tspan dy="5.5">)</tspan></text>
<text x="381.5" y="743" font-size="12.6" text-anchor="start" font-weight="normal" fill="#262626" >Position (m)</text>
<rect x="186.3" y="623.5" width="84.1" height="27.3" fill="#fff" stroke="#262626" stroke-width="0.5" rx="0" />
<line x1="188" y1="631" x2="201.5" y2="631" stroke="#5a5a5a" stroke-width="0.8" />
<text x="202.8" y="634.9" font-size="11.2" text-anchor="start" font-weight="normal" fill="#111" >Merging start</text>
<line x1="188" y1="643.5" x2="201.5" y2="643.5" stroke="#c0c0c0" stroke-width="0.8" />
<text x="202.8" y="647.3" font-size="11.2" text-anchor="start" font-weight="normal" fill="#111" >Exiting end</text>
<defs><linearGradient id="cbj2" x1="0" y1="1" x2="0" y2="0"><stop offset="0" stop-color="#800000"/><stop offset="0.1" stop-color="#be1414"/><stop offset="0.22" stop-color="#eb501e"/><stop offset="0.35" stop-color="#f5aa28"/><stop offset="0.45" stop-color="#e6dc3c"/><stop offset="0.55" stop-color="#78c896"/><stop offset="0.65" stop-color="#1eb4e6"/><stop offset="0.78" stop-color="#1e78d2"/><stop offset="0.9" stop-color="#2846aa"/><stop offset="1.0" stop-color="#2d308c"/></linearGradient></defs>
<rect x="419.9" y="632.3" width="6.1" height="76.4" fill="url(#cbj2)" stroke="none" stroke-width="1" rx="0" />
<text x="430" y="649.3" font-size="11" text-anchor="start" font-weight="normal" fill="#262626" >100</text>
<text x="430" y="681.2" font-size="11" text-anchor="start" font-weight="normal" fill="#262626" >50</text>
<text x="430" y="713.6" font-size="11" text-anchor="start" font-weight="normal" fill="#262626" >0</text>
<text x="393.3" y="626.2" font-size="11" fill="#262626">Unit: km·h<tspan dy="-4.2" font-size="7.7">-1</tspan></text>
<rect x="510.5" y="617.5" width="134.2" height="96.9" fill="#fff" stroke="none" stroke-width="1" rx="0" />
<rect x="510.5" y="625.55" width="134.2" height="1.7" fill="#f9c6f4" stroke="none" stroke-width="1" rx="0" />
<rect x="510.5" y="632.4" width="134.2" height="1.8" fill="#c4f0c0" stroke="none" stroke-width="1" rx="0" />
<rect x="510.5" y="634.2" width="134.2" height="2" fill="#c0f6f6" stroke="none" stroke-width="1" rx="0" />
<rect x="510.5" y="649.75" width="134.2" height="1.7" fill="#f9c6f4" stroke="none" stroke-width="1" rx="0" />
<rect x="510.5" y="656.6" width="134.2" height="1.8" fill="#c4f0c0" stroke="none" stroke-width="1" rx="0" />
<rect x="510.5" y="658.4" width="134.2" height="2" fill="#c0f6f6" stroke="none" stroke-width="1" rx="0" />
<rect x="510.5" y="674.15" width="134.2" height="1.7" fill="#f9c6f4" stroke="none" stroke-width="1" rx="0" />
<rect x="510.5" y="681" width="134.2" height="1.8" fill="#c4f0c0" stroke="none" stroke-width="1" rx="0" />
<rect x="510.5" y="682.8" width="134.2" height="2" fill="#c0f6f6" stroke="none" stroke-width="1" rx="0" />
<rect x="510.5" y="698.55" width="134.2" height="1.7" fill="#f9c6f4" stroke="none" stroke-width="1" rx="0" />
<rect x="510.5" y="705.4" width="134.2" height="1.8" fill="#c4f0c0" stroke="none" stroke-width="1" rx="0" />
<rect x="510.5" y="707.2" width="134.2" height="2" fill="#c0f6f6" stroke="none" stroke-width="1" rx="0" />
<polyline points="541,617.6 542,619.5 543.5,621.4" fill="none" stroke="#3c55a8" stroke-width="1.9" />
<polyline points="533.5,637 532.5,640 534,642.5 533,645" fill="none" stroke="#3c55a8" stroke-width="1.9" />
<polyline points="530.5,662.4 529.5,665 530.5,667.5 531.2,669.8" fill="none" stroke="#3c55a8" stroke-width="1.9" />
<polyline points="533,686.8 534,689.5 533.2,692 534.2,694.2" fill="none" stroke="#3c55a8" stroke-width="1.9" />
<polyline points="531.5,710.3 531.5,714.3" fill="none" stroke="#3c55a8" stroke-width="1.9" />
<polyline points="569.5,622.4 570.3,626 569,630 570,634 569.3,637.2" fill="none" stroke="#2b9fb6" stroke-width="1.9" />
<polyline points="565.5,646.8 564.5,650 566,654 565.3,657.5 566.3,660.5" fill="none" stroke="#2b9fb6" stroke-width="1.9" />
<polyline points="566.5,669.8 567.5,673 566.5,677 567.6,681 566.8,685.7" fill="none" stroke="#2b9fb6" stroke-width="1.9" />
<polyline points="565.3,694.2 566,698 565,702 565.8,706 565.3,710.5" fill="none" stroke="#2b9fb6" stroke-width="1.9" />
<line x1="576.9" y1="617.5" x2="576.9" y2="714.4" stroke="#262626" stroke-width="0.6" />
<polyline points="620.61,617.5 620.61,620.4 620.17,629 619.06,630.2 615.06,630.8 602.63,631.3 605.29,631.8 613.28,633 614.17,634.6 616.84,635.6 618.61,636.6 619.94,637.9 620.17,640.4 620.61,644.6 620.17,653.2 619.06,654.4 615.06,655 599.96,655.5 602.63,656 613.28,657.2 614.17,658.8 616.84,659.8 618.61,660.8 619.94,662.1 620.17,664.6 620.61,669 620.17,677.6 619.06,678.8 615.06,679.4 601.74,679.9 604.4,680.4 613.28,681.6 614.17,683.2 616.84,684.2 618.61,685.2 619.94,686.5 620.17,689 620.61,693.4 620.17,702 619.06,703.2 615.06,703.8 609.29,704.3 611.95,704.8 613.28,706 614.17,707.6 616.84,708.6 618.61,709.6 619.94,710.9 620.17,713.4 620.61,714.4" fill="none" stroke="#3c55a8" stroke-width="1.8" stroke-linejoin="round"/>
<polyline points="605.96,631.6 611.73,632.4 614.17,632.9 610.62,633.4 615.06,634 612.84,634.6 616.39,635.2 617.72,636 619.94,637.2" fill="none" stroke="#2b9fb6" stroke-width="1.5" stroke-linejoin="round"/>
<polyline points="603.29,655.8 611.73,656.6 614.17,657.1 610.62,657.6 615.06,658.2 612.84,658.8 616.39,659.4 617.72,660.2 619.94,661.4" fill="none" stroke="#2b9fb6" stroke-width="1.5" stroke-linejoin="round"/>
<polyline points="605.07,680.2 611.73,681 614.17,681.5 610.62,682 615.06,682.6 612.84,683.2 616.39,683.8 617.72,684.6 619.94,685.8" fill="none" stroke="#2b9fb6" stroke-width="1.5" stroke-linejoin="round"/>
<polyline points="612.62,704.6 611.73,705.4 614.17,705.9 610.62,706.4 615.06,707 612.84,707.6 616.39,708.2 617.72,709 619.94,710.2" fill="none" stroke="#2b9fb6" stroke-width="1.5" stroke-linejoin="round"/>
<rect x="510.5" y="617.5" width="134.2" height="96.9" fill="none" stroke="#262626" stroke-width="0.6" rx="0" />
<line x1="519.3" y1="714.4" x2="519.3" y2="712.6" stroke="#262626" stroke-width="0.6" />
<line x1="519.3" y1="617.5" x2="519.3" y2="619.3" stroke="#262626" stroke-width="0.6" />
<line x1="537" y1="714.4" x2="537" y2="712.6" stroke="#262626" stroke-width="0.6" />
<line x1="537" y1="617.5" x2="537" y2="619.3" stroke="#262626" stroke-width="0.6" />
<line x1="554.9" y1="714.4" x2="554.9" y2="712.6" stroke="#262626" stroke-width="0.6" />
<line x1="554.9" y1="617.5" x2="554.9" y2="619.3" stroke="#262626" stroke-width="0.6" />
<line x1="572" y1="714.4" x2="572" y2="712.6" stroke="#262626" stroke-width="0.6" />
<line x1="572" y1="617.5" x2="572" y2="619.3" stroke="#262626" stroke-width="0.6" />
<line x1="596.7" y1="714.4" x2="596.7" y2="712.6" stroke="#262626" stroke-width="0.6" />
<line x1="596.7" y1="617.5" x2="596.7" y2="619.3" stroke="#262626" stroke-width="0.6" />
<line x1="619.5" y1="714.4" x2="619.5" y2="712.6" stroke="#262626" stroke-width="0.6" />
<line x1="619.5" y1="617.5" x2="619.5" y2="619.3" stroke="#262626" stroke-width="0.6" />
<line x1="640.9" y1="714.4" x2="640.9" y2="712.6" stroke="#262626" stroke-width="0.6" />
<line x1="640.9" y1="617.5" x2="640.9" y2="619.3" stroke="#262626" stroke-width="0.6" />
<text x="519.3" y="729.2" font-size="11.6" text-anchor="middle" font-weight="normal" fill="#262626" >1.8</text>
<text x="537" y="729.2" font-size="11.6" text-anchor="middle" font-weight="normal" fill="#262626" >2</text>
<text x="554.9" y="729.2" font-size="11.6" text-anchor="middle" font-weight="normal" fill="#262626" >2.2</text>
<text x="572" y="729.2" font-size="11.6" text-anchor="middle" font-weight="normal" fill="#262626" >2.4</text>
<text x="596.7" y="729.2" font-size="11.6" text-anchor="middle" font-weight="normal" fill="#262626" >110</text>
<text x="619.5" y="729.2" font-size="11.6" text-anchor="middle" font-weight="normal" fill="#262626" >120</text>
<text x="640.9" y="729.2" font-size="11.6" text-anchor="middle" font-weight="normal" fill="#262626" >130</text>
<line x1="510.5" y1="714.4" x2="512.3" y2="714.4" stroke="#262626" stroke-width="0.6" />
<text x="507" y="718.5" font-size="11.6" text-anchor="end" font-weight="normal" fill="#262626" >0</text>
<line x1="510.5" y1="682.27" x2="512.3" y2="682.27" stroke="#262626" stroke-width="0.6" />
<text x="507" y="686.37" font-size="11.6" text-anchor="end" font-weight="normal" fill="#262626" >2000</text>
<line x1="510.5" y1="650.13" x2="512.3" y2="650.13" stroke="#262626" stroke-width="0.6" />
<text x="507" y="654.23" font-size="11.6" text-anchor="end" font-weight="normal" fill="#262626" >4000</text>
<line x1="510.5" y1="618" x2="512.3" y2="618" stroke="#262626" stroke-width="0.6" />
<text x="507" y="622.1" font-size="11.6" text-anchor="end" font-weight="normal" fill="#262626" >6000</text>
<text x="496.1" y="743" font-size="12.7" text-anchor="start" font-weight="normal" fill="#262626" >Flow rate</text>
<text x="550.3" y="743.5" font-size="12.7" fill="#262626"><tspan font-size="10.5">×</tspan>10<tspan dy="-4.8" font-size="8.9">4</tspan></text>
<text x="580.9" y="743" font-size="12.7" text-anchor="start" font-weight="normal" fill="#262626" >Average speed</text>
<text x="497.8" y="759.3" font-size="12.7" fill="#262626">(veh·h<tspan dy="-4.8" font-size="8.9">-1</tspan><tspan dy="4.8">)</tspan></text>
<text x="601" y="759.3" font-size="12.7" fill="#262626">(km·h<tspan dy="-5.6" font-size="8.9">-1</tspan><tspan dy="5.6">)</tspan></text>
<text x="476.1" y="666.3" font-size="12.6" text-anchor="middle" font-weight="normal" fill="#262626" transform="rotate(-90 476.1 666.3)">Position (m)</text>
<line x1="486.9" y1="604.6" x2="501.5" y2="604.6" stroke="#3c55a8" stroke-width="1.6" />
<text x="503.7" y="608.2" font-size="10.1" text-anchor="start" font-weight="normal" fill="#111" >Main road only</text>
<line x1="574.3" y1="604.6" x2="588.8" y2="604.6" stroke="#2b9fb6" stroke-width="1.6" />
<text x="590.7" y="608.2" font-size="10.1" text-anchor="start" font-weight="normal" fill="#111" >Main road &amp; Ramps</text>
<rect x="648.1" y="619.6" width="15.8" height="9" fill="#c0f6f6" stroke="none" stroke-width="1" rx="0" />
<text x="665.1" y="627.5" font-size="10.5" text-anchor="start" font-weight="normal" fill="#111" >CZ</text>
<rect x="648.1" y="632" width="15.8" height="9" fill="#c4f0c0" stroke="none" stroke-width="1" rx="0" />
<text x="665.1" y="639.9" font-size="10.5" text-anchor="start" font-weight="normal" fill="#111" >MZ</text>
<rect x="648.1" y="643.7" width="15.8" height="9" fill="#f9c6f4" stroke="none" stroke-width="1" rx="0" />
<text x="665.1" y="651.6" font-size="10.5" text-anchor="start" font-weight="normal" fill="#111" >EZ</text>
<rect x="93.2" y="814.8" width="560.1" height="36.8" fill="#7b7b7b" stroke="none" stroke-width="1" rx="0" />
<rect x="223.4" y="797.7" width="18.8" height="72.1" fill="#7b7b7b" stroke="none" stroke-width="1" rx="0" />
<rect x="364.2" y="797.7" width="20.1" height="72.1" fill="#7b7b7b" stroke="none" stroke-width="1" rx="0" />
<rect x="502.2" y="797.7" width="20.1" height="72.1" fill="#7b7b7b" stroke="none" stroke-width="1" rx="0" />
<line x1="93.2" y1="823.7" x2="204.4" y2="823.7" stroke="#e0e0e0" stroke-width="0.6" stroke-dasharray="1.2 1.2"/>
<line x1="204.9" y1="823.7" x2="222.2" y2="823.7" stroke="#f0f0f0" stroke-width="0.7" />
<line x1="93.2" y1="833" x2="204.4" y2="833" stroke="#e0e0e0" stroke-width="0.6" stroke-dasharray="1.2 1.2"/>
<line x1="204.9" y1="833" x2="222.2" y2="833" stroke="#f0f0f0" stroke-width="0.7" />
<line x1="93.2" y1="842.3" x2="204.4" y2="842.3" stroke="#e0e0e0" stroke-width="0.6" stroke-dasharray="1.2 1.2"/>
<line x1="204.9" y1="842.3" x2="222.2" y2="842.3" stroke="#f0f0f0" stroke-width="0.7" />
<line x1="222.8" y1="814.4" x2="222.8" y2="851.6" stroke="#f4f4f4" stroke-width="0.9" />
<path d="M208.9,819.8 h6 l2,-2.2 h3" fill="none" stroke="#f4f4f4" stroke-width="0.9"/>
<line x1="208.9" y1="828.4" x2="217.4" y2="828.4" stroke="#f4f4f4" stroke-width="0.9" />
<polygon points="219.9,828.4 216.9,826.8 216.9,830" fill="#f4f4f4" stroke="none" stroke-width="1" />
<line x1="208.9" y1="837.6" x2="217.4" y2="837.6" stroke="#f4f4f4" stroke-width="0.9" />
<polygon points="219.9,837.6 216.9,836 216.9,839.2" fill="#f4f4f4" stroke="none" stroke-width="1" />
<path d="M208.9,845.8 h6 l2,2.4 h3" fill="none" stroke="#f4f4f4" stroke-width="0.9"/>
<line x1="243.2" y1="823.7" x2="345.2" y2="823.7" stroke="#e0e0e0" stroke-width="0.6" stroke-dasharray="1.2 1.2"/>
<line x1="345.7" y1="823.7" x2="363" y2="823.7" stroke="#f0f0f0" stroke-width="0.7" />
<line x1="243.2" y1="833" x2="345.2" y2="833" stroke="#e0e0e0" stroke-width="0.6" stroke-dasharray="1.2 1.2"/>
<line x1="345.7" y1="833" x2="363" y2="833" stroke="#f0f0f0" stroke-width="0.7" />
<line x1="243.2" y1="842.3" x2="345.2" y2="842.3" stroke="#e0e0e0" stroke-width="0.6" stroke-dasharray="1.2 1.2"/>
<line x1="345.7" y1="842.3" x2="363" y2="842.3" stroke="#f0f0f0" stroke-width="0.7" />
<line x1="363.6" y1="814.4" x2="363.6" y2="851.6" stroke="#f4f4f4" stroke-width="0.9" />
<path d="M349.7,819.8 h6 l2,-2.2 h3" fill="none" stroke="#f4f4f4" stroke-width="0.9"/>
<line x1="349.7" y1="828.4" x2="358.2" y2="828.4" stroke="#f4f4f4" stroke-width="0.9" />
<polygon points="360.7,828.4 357.7,826.8 357.7,830" fill="#f4f4f4" stroke="none" stroke-width="1" />
<line x1="349.7" y1="837.6" x2="358.2" y2="837.6" stroke="#f4f4f4" stroke-width="0.9" />
<polygon points="360.7,837.6 357.7,836 357.7,839.2" fill="#f4f4f4" stroke="none" stroke-width="1" />
<path d="M349.7,845.8 h6 l2,2.4 h3" fill="none" stroke="#f4f4f4" stroke-width="0.9"/>
<line x1="385.3" y1="823.7" x2="483.2" y2="823.7" stroke="#e0e0e0" stroke-width="0.6" stroke-dasharray="1.2 1.2"/>
<line x1="483.7" y1="823.7" x2="501" y2="823.7" stroke="#f0f0f0" stroke-width="0.7" />
<line x1="385.3" y1="833" x2="483.2" y2="833" stroke="#e0e0e0" stroke-width="0.6" stroke-dasharray="1.2 1.2"/>
<line x1="483.7" y1="833" x2="501" y2="833" stroke="#f0f0f0" stroke-width="0.7" />
<line x1="385.3" y1="842.3" x2="483.2" y2="842.3" stroke="#e0e0e0" stroke-width="0.6" stroke-dasharray="1.2 1.2"/>
<line x1="483.7" y1="842.3" x2="501" y2="842.3" stroke="#f0f0f0" stroke-width="0.7" />
<line x1="501.6" y1="814.4" x2="501.6" y2="851.6" stroke="#f4f4f4" stroke-width="0.9" />
<path d="M487.7,819.8 h6 l2,-2.2 h3" fill="none" stroke="#f4f4f4" stroke-width="0.9"/>
<line x1="487.7" y1="828.4" x2="496.2" y2="828.4" stroke="#f4f4f4" stroke-width="0.9" />
<polygon points="498.7,828.4 495.7,826.8 495.7,830" fill="#f4f4f4" stroke="none" stroke-width="1" />
<line x1="487.7" y1="837.6" x2="496.2" y2="837.6" stroke="#f4f4f4" stroke-width="0.9" />
<polygon points="498.7,837.6 495.7,836 495.7,839.2" fill="#f4f4f4" stroke="none" stroke-width="1" />
<path d="M487.7,845.8 h6 l2,2.4 h3" fill="none" stroke="#f4f4f4" stroke-width="0.9"/>
<line x1="523.3" y1="823.7" x2="634.3" y2="823.7" stroke="#e0e0e0" stroke-width="0.6" stroke-dasharray="1.2 1.2"/>
<line x1="634.8" y1="823.7" x2="652.1" y2="823.7" stroke="#f0f0f0" stroke-width="0.7" />
<line x1="523.3" y1="833" x2="634.3" y2="833" stroke="#e0e0e0" stroke-width="0.6" stroke-dasharray="1.2 1.2"/>
<line x1="634.8" y1="833" x2="652.1" y2="833" stroke="#f0f0f0" stroke-width="0.7" />
<line x1="523.3" y1="842.3" x2="634.3" y2="842.3" stroke="#e0e0e0" stroke-width="0.6" stroke-dasharray="1.2 1.2"/>
<line x1="634.8" y1="842.3" x2="652.1" y2="842.3" stroke="#f0f0f0" stroke-width="0.7" />
<line x1="652.7" y1="814.4" x2="652.7" y2="851.6" stroke="#f4f4f4" stroke-width="0.9" />
<path d="M638.8,819.8 h6 l2,-2.2 h3" fill="none" stroke="#f4f4f4" stroke-width="0.9"/>
<line x1="638.8" y1="828.4" x2="647.3" y2="828.4" stroke="#f4f4f4" stroke-width="0.9" />
<polygon points="649.8,828.4 646.8,826.8 646.8,830" fill="#f4f4f4" stroke="none" stroke-width="1" />
<line x1="638.8" y1="837.6" x2="647.3" y2="837.6" stroke="#f4f4f4" stroke-width="0.9" />
<polygon points="649.8,837.6 646.8,836 646.8,839.2" fill="#f4f4f4" stroke="none" stroke-width="1" />
<path d="M638.8,845.8 h6 l2,2.4 h3" fill="none" stroke="#f4f4f4" stroke-width="0.9"/>
<line x1="232.3" y1="797.7" x2="232.3" y2="814.4" stroke="#f0d000" stroke-width="0.9" />
<line x1="232.3" y1="851.6" x2="232.3" y2="869.8" stroke="#f0d000" stroke-width="0.9" />
<line x1="232.3" y1="814.2" x2="242.2" y2="814.2" stroke="#f4f4f4" stroke-width="0.8" />
<line x1="223.4" y1="851.8" x2="232.3" y2="851.8" stroke="#f4f4f4" stroke-width="0.8" />
<path d="M226.9,800.5 v6 l2,2 v3" fill="none" stroke="#f4f4f4" stroke-width="0.8"/>
<line x1="237.7" y1="812" x2="237.7" y2="802" stroke="#f4f4f4" stroke-width="0.8" />
<polygon points="237.7,800 236.3,803 239.1,803" fill="#f4f4f4" stroke="none" stroke-width="1" />
<line x1="227.9" y1="855" x2="227.9" y2="865" stroke="#f4f4f4" stroke-width="0.8" />
<polygon points="227.9,867 226.5,864 229.3,864" fill="#f4f4f4" stroke="none" stroke-width="1" />
<path d="M238.2,867 v-6 l-2,-2 v-3" fill="none" stroke="#f4f4f4" stroke-width="0.8"/>
<rect x="229.7" y="826.2" width="5.2" height="11.5" fill="#555" stroke="none" stroke-width="1" rx="1" />
<circle cx="232.3" cy="828.4" r="1.2" fill="#e03a2f"/>
<circle cx="232.3" cy="831.8" r="1.2" fill="#f0b030"/>
<circle cx="232.3" cy="835.2" r="1.2" fill="#40c040"/>
<path d="M231.3,825.5 l2,-1.8" stroke="#6a8fc8" stroke-width="0.8"/>
<line x1="373.75" y1="797.7" x2="373.75" y2="814.4" stroke="#f0d000" stroke-width="0.9" />
<line x1="373.75" y1="851.6" x2="373.75" y2="869.8" stroke="#f0d000" stroke-width="0.9" />
<line x1="373.75" y1="814.2" x2="384.3" y2="814.2" stroke="#f4f4f4" stroke-width="0.8" />
<line x1="364.2" y1="851.8" x2="373.75" y2="851.8" stroke="#f4f4f4" stroke-width="0.8" />
<path d="M367.7,800.5 v6 l2,2 v3" fill="none" stroke="#f4f4f4" stroke-width="0.8"/>
<line x1="379.8" y1="812" x2="379.8" y2="802" stroke="#f4f4f4" stroke-width="0.8" />
<polygon points="379.8,800 378.4,803 381.2,803" fill="#f4f4f4" stroke="none" stroke-width="1" />
<line x1="368.7" y1="855" x2="368.7" y2="865" stroke="#f4f4f4" stroke-width="0.8" />
<polygon points="368.7,867 367.3,864 370.1,864" fill="#f4f4f4" stroke="none" stroke-width="1" />
<path d="M380.3,867 v-6 l-2,-2 v-3" fill="none" stroke="#f4f4f4" stroke-width="0.8"/>
<rect x="371.15" y="826.2" width="5.2" height="11.5" fill="#555" stroke="none" stroke-width="1" rx="1" />
<circle cx="373.75" cy="828.4" r="1.2" fill="#e03a2f"/>
<circle cx="373.75" cy="831.8" r="1.2" fill="#f0b030"/>
<circle cx="373.75" cy="835.2" r="1.2" fill="#40c040"/>
<path d="M372.75,825.5 l2,-1.8" stroke="#6a8fc8" stroke-width="0.8"/>
<line x1="511.75" y1="797.7" x2="511.75" y2="814.4" stroke="#f0d000" stroke-width="0.9" />
<line x1="511.75" y1="851.6" x2="511.75" y2="869.8" stroke="#f0d000" stroke-width="0.9" />
<line x1="511.75" y1="814.2" x2="522.3" y2="814.2" stroke="#f4f4f4" stroke-width="0.8" />
<line x1="502.2" y1="851.8" x2="511.75" y2="851.8" stroke="#f4f4f4" stroke-width="0.8" />
<path d="M505.7,800.5 v6 l2,2 v3" fill="none" stroke="#f4f4f4" stroke-width="0.8"/>
<line x1="517.8" y1="812" x2="517.8" y2="802" stroke="#f4f4f4" stroke-width="0.8" />
<polygon points="517.8,800 516.4,803 519.2,803" fill="#f4f4f4" stroke="none" stroke-width="1" />
<line x1="506.7" y1="855" x2="506.7" y2="865" stroke="#f4f4f4" stroke-width="0.8" />
<polygon points="506.7,867 505.3,864 508.1,864" fill="#f4f4f4" stroke="none" stroke-width="1" />
<path d="M518.3,867 v-6 l-2,-2 v-3" fill="none" stroke="#f4f4f4" stroke-width="0.8"/>
<rect x="509.15" y="826.2" width="5.2" height="11.5" fill="#555" stroke="none" stroke-width="1" rx="1" />
<circle cx="511.75" cy="828.4" r="1.2" fill="#e03a2f"/>
<circle cx="511.75" cy="831.8" r="1.2" fill="#f0b030"/>
<circle cx="511.75" cy="835.2" r="1.2" fill="#40c040"/>
<path d="M510.75,825.5 l2,-1.8" stroke="#6a8fc8" stroke-width="0.8"/>
<text x="21.2" y="814.4" font-size="12.3" text-anchor="start" font-weight="normal" fill="#111" >Main lane 1</text>
<text x="21.2" y="829.5" font-size="12.3" text-anchor="start" font-weight="normal" fill="#111" >Main lane 2</text>
<text x="21.2" y="844.6" font-size="12.3" text-anchor="start" font-weight="normal" fill="#111" >Main lane 3</text>
<text x="21.2" y="859.7" font-size="12.3" text-anchor="start" font-weight="normal" fill="#111" >Main lane 4</text>
<line x1="46.2" y1="933.6" x2="84.4" y2="982.2" stroke="#c4c4c4" stroke-width="0.6" />
<line x1="84.4" y1="982.2" x2="129.1" y2="943" stroke="#c4c4c4" stroke-width="0.6" />
<line x1="46.2" y1="933.6" x2="46.2" y2="925.1" stroke="#c4c4c4" stroke-width="0.6" />
<line x1="129.1" y1="943" x2="129.1" y2="934.5" stroke="#c4c4c4" stroke-width="0.6" />
<line x1="84.4" y1="982.2" x2="84.4" y2="973.7" stroke="#c4c4c4" stroke-width="0.6" />
<line x1="58.81" y1="949.64" x2="60.11" y2="948.54" stroke="#c4c4c4" stroke-width="0.6" />
<line x1="99.15" y1="969.26" x2="98.05" y2="967.96" stroke="#c4c4c4" stroke-width="0.6" />
<line x1="71.41" y1="965.68" x2="72.71" y2="964.58" stroke="#c4c4c4" stroke-width="0.6" />
<line x1="113.9" y1="956.33" x2="112.8" y2="955.03" stroke="#c4c4c4" stroke-width="0.6" />
<defs><clipPath id="dcl0"><polygon points="46.2,925.1 90.9,885.9 129.1,934.5 84.4,973.7"/></clipPath></defs>
<polygon points="46.2,925.1 90.9,885.9 129.1,934.5 84.4,973.7" fill="#1c1f6e" stroke="none" stroke-width="1" />
<g clip-path="url(#dcl0)">
<path d="M41.2,877.1L51.45,880.79M52.68,881.23L74.35,889.04M75.18,889.33L85.42,893.02M86.4,893.37L109.55,901.71M110.38,902.01L133.2,910.22" stroke="#fff" stroke-width="1.82"/>
<path d="M41.2,877.1L51.45,880.79M52.68,881.23L74.35,889.04M75.18,889.33L85.42,893.02M86.4,893.37L109.55,901.71M110.38,902.01L133.2,910.22" stroke="#fff" stroke-width="3.02" stroke-dasharray="0.9 1.7" stroke-dashoffset="0.27"/>
<path d="M41.2,883.21L57.45,889.06M59.65,889.85L69.51,893.4M70.14,893.63L96.94,903.27M98.18,903.72L110.15,908.03M111.28,908.44L126.58,913.94M128.71,914.71L134.1,916.65" stroke="#fff" stroke-width="2.61"/>
<path d="M41.2,883.21L57.45,889.06M59.65,889.85L69.51,893.4M70.14,893.63L96.94,903.27M98.18,903.72L110.15,908.03M111.28,908.44L126.58,913.94M128.71,914.71L134.1,916.65" stroke="#fff" stroke-width="3.81" stroke-dasharray="0.9 1.7" stroke-dashoffset="1.17"/>
<path d="M41.2,889.35L65.97,898.27M67.14,898.69L79.22,903.04M81.16,903.73L108.94,913.73M109.59,913.97L132.29,922.14" stroke="#fff" stroke-width="3.52"/>
<path d="M41.2,889.35L65.97,898.27M67.14,898.69L79.22,903.04M81.16,903.73L108.94,913.73M109.59,913.97L132.29,922.14" stroke="#fff" stroke-width="4.72" stroke-dasharray="0.9 1.7" stroke-dashoffset="1.3"/>
<path d="M41.2,894.5L63.8,902.64M64.71,902.97L85.52,910.46M86.47,910.8L95.3,913.98M96.44,914.39L111.13,919.68M112.36,920.12L133.3,927.66" stroke="#fff" stroke-width="3.23"/>
<path d="M41.2,894.5L63.8,902.64M64.71,902.97L85.52,910.46M86.47,910.8L95.3,913.98M96.44,914.39L111.13,919.68M112.36,920.12L133.3,927.66" stroke="#fff" stroke-width="4.43" stroke-dasharray="0.9 1.7" stroke-dashoffset="1.92"/>
<path d="M41.2,901.93L65,910.5M66.09,910.89L77.61,915.04M79.21,915.62L98.13,922.43M99.81,923.03L109.68,926.59M110.59,926.91L134.1,935.38" stroke="#fff" stroke-width="3.59"/>
<path d="M41.2,901.93L65,910.5M66.09,910.89L77.61,915.04M79.21,915.62L98.13,922.43M99.81,923.03L109.68,926.59M110.59,926.91L134.1,935.38" stroke="#fff" stroke-width="4.79" stroke-dasharray="0.9 1.7" stroke-dashoffset="1.39"/>
<path d="M69.04,916.74L80.98,921.04M82.31,921.52L106.32,930.16M107.63,930.63L131.41,939.19M132.91,939.73L134.1,940.16" stroke="#fff" stroke-width="2.52"/>
<path d="M69.04,916.74L80.98,921.04M82.31,921.52L106.32,930.16M107.63,930.63L131.41,939.19M132.91,939.73L134.1,940.16" stroke="#fff" stroke-width="3.72" stroke-dasharray="0.9 1.7" stroke-dashoffset="1.97"/>
<path d="M57.65,917.5L75.16,923.8M76.56,924.31L100.33,932.86M101.37,933.24L116.82,938.8M118.4,939.37L134.1,945.02" stroke="#fff" stroke-width="2.15"/>
<path d="M57.65,917.5L75.16,923.8M76.56,924.31L100.33,932.86M101.37,933.24L116.82,938.8M118.4,939.37L134.1,945.02" stroke="#fff" stroke-width="3.35" stroke-dasharray="0.9 1.7" stroke-dashoffset="0.22"/>
<path d="M65.22,925.14L78.31,929.85M80.14,930.51L107.84,940.48M108.99,940.9L117.22,943.86M118.42,944.29L132.07,949.2M132.95,949.52L134.1,949.94" stroke="#fff" stroke-width="3.11"/>
<path d="M65.22,925.14L78.31,929.85M80.14,930.51L107.84,940.48M108.99,940.9L117.22,943.86M118.42,944.29L132.07,949.2M132.95,949.52L134.1,949.94" stroke="#fff" stroke-width="4.31" stroke-dasharray="0.9 1.7" stroke-dashoffset="1.73"/>
<path d="M69.11,931.19L91.01,939.07M92.45,939.59L117.64,948.66M118.88,949.11L134.1,954.59" stroke="#fff" stroke-width="2.91"/>
<path d="M69.11,931.19L91.01,939.07M92.45,939.59L117.64,948.66M118.88,949.11L134.1,954.59" stroke="#fff" stroke-width="4.11" stroke-dasharray="0.9 1.7" stroke-dashoffset="0.92"/>
<path d="M77.68,940.92L97.27,947.98M98.14,948.29L123.2,957.31M123.99,957.6L134.1,961.24" stroke="#fff" stroke-width="2.64"/>
<path d="M77.68,940.92L97.27,947.98M98.14,948.29L123.2,957.31M123.99,957.6L134.1,961.24" stroke="#fff" stroke-width="3.84" stroke-dasharray="0.9 1.7" stroke-dashoffset="0.76"/>
<path d="M41.2,933.21L63.42,941.21M90.24,950.87L98.9,953.99M100.48,954.56L126.39,963.88M127.41,964.25L134.1,966.66" stroke="#fff" stroke-width="2.57"/>
<path d="M41.2,933.21L63.42,941.21M90.24,950.87L98.9,953.99M100.48,954.56L126.39,963.88M127.41,964.25L134.1,966.66" stroke="#fff" stroke-width="3.77" stroke-dasharray="0.9 1.7" stroke-dashoffset="0.73"/>
<path d="M41.2,938.92L56.88,944.56M74.43,950.88L97.85,959.31M98.56,959.57L119.05,966.95M120.42,967.44L134.1,972.36" stroke="#fff" stroke-width="3.27"/>
<path d="M41.2,938.92L56.88,944.56M74.43,950.88L97.85,959.31M98.56,959.57L119.05,966.95M120.42,967.44L134.1,972.36" stroke="#fff" stroke-width="4.47" stroke-dasharray="0.9 1.7" stroke-dashoffset="0.55"/>
<path d="M92.87,962.56L112.46,969.62M113.7,970.06L134.1,977.41" stroke="#fff" stroke-width="1.86"/>
<path d="M92.87,962.56L112.46,969.62M113.7,970.06L134.1,977.41" stroke="#fff" stroke-width="3.06" stroke-dasharray="0.9 1.7" stroke-dashoffset="1.21"/>
<path d="M97.8,971.38L122.96,980.44M124.06,980.83L134.1,984.45" stroke="#fff" stroke-width="2.77"/>
<path d="M97.8,971.38L122.96,980.44M124.06,980.83L134.1,984.45" stroke="#fff" stroke-width="3.97" stroke-dasharray="0.9 1.7" stroke-dashoffset="1.11"/>
<path d="M104.63,979L132.59,989.07M133.42,989.37L134.1,989.61" stroke="#fff" stroke-width="2.54"/>
<path d="M104.63,979L132.59,989.07M133.42,989.37L134.1,989.61" stroke="#fff" stroke-width="3.74" stroke-dasharray="0.9 1.7" stroke-dashoffset="0.09"/>
<path d="M41.2,961.89L58.01,967.95M103.45,984.31L128,993.14M129.76,993.78L134.1,995.34" stroke="#fff" stroke-width="2.77"/>
<path d="M41.2,961.89L58.01,967.95M103.45,984.31L128,993.14M129.76,993.78L134.1,995.34" stroke="#fff" stroke-width="3.97" stroke-dasharray="0.9 1.7" stroke-dashoffset="0.18"/>
<path d="M79.69,982.83L101.38,990.63M127.25,999.95L134.1,1002.42" stroke="#fff" stroke-width="1.9"/>
<path d="M79.69,982.83L101.38,990.63M127.25,999.95L134.1,1002.42" stroke="#fff" stroke-width="3.1" stroke-dasharray="0.9 1.7" stroke-dashoffset="1.82"/>
<path d="M77.14,988.63L102.57,997.78M121.15,1004.47L134.1,1009.13" stroke="#fff" stroke-width="3.44"/>
<path d="M77.14,988.63L102.57,997.78M121.15,1004.47L134.1,1009.13" stroke="#fff" stroke-width="4.64" stroke-dasharray="0.9 1.7" stroke-dashoffset="0.63"/>
<rect x="91.47" y="940.39" width="1.2" height="1.1" fill="#fff"/>
<rect x="68.63" y="920.72" width="1.2" height="1.1" fill="#fff"/>
<rect x="66.24" y="928.87" width="1.2" height="1.1" fill="#fff"/>
<rect x="93.18" y="897.81" width="1.2" height="1.1" fill="#fff"/>
<rect x="84.04" y="900.8" width="1.2" height="1.1" fill="#fff"/>
<rect x="91.49" y="907.22" width="1.2" height="1.1" fill="#fff"/>
<rect x="97.55" y="915.54" width="1.2" height="1.1" fill="#fff"/>
<rect x="53.31" y="926.63" width="1.2" height="1.1" fill="#fff"/>
<rect x="102.66" y="920.08" width="1.2" height="1.1" fill="#fff"/>
<rect x="81.38" y="923.17" width="1.2" height="1.1" fill="#fff"/>
<rect x="95.53" y="921.44" width="1.2" height="1.1" fill="#fff"/>
<rect x="71.93" y="951.88" width="1.2" height="1.1" fill="#fff"/>
<rect x="92.56" y="953.95" width="1.2" height="1.1" fill="#fff"/>
<rect x="100.3" y="941.19" width="1.2" height="1.1" fill="#fff"/>
<rect x="78.58" y="954.75" width="1.2" height="1.1" fill="#fff"/>
<rect x="105.99" y="942.52" width="1.2" height="1.1" fill="#fff"/>
<rect x="106.79" y="917.24" width="1.2" height="1.1" fill="#fff"/>
<rect x="101.97" y="939.17" width="1.2" height="1.1" fill="#fff"/>
<rect x="78.81" y="941.24" width="1.2" height="1.1" fill="#fff"/>
<rect x="104.08" y="923.15" width="1.2" height="1.1" fill="#fff"/>
<rect x="103.14" y="945.43" width="1.2" height="1.1" fill="#fff"/>
<rect x="99.69" y="899.46" width="1.2" height="1.1" fill="#fff"/>
<rect x="72.98" y="951.98" width="1.2" height="1.1" fill="#fff"/>
<rect x="89.88" y="966.4" width="1.2" height="1.1" fill="#fff"/>
<rect x="87.82" y="932.45" width="1.2" height="1.1" fill="#fff"/>
<rect x="115.96" y="935.33" width="1.2" height="1.1" fill="#fff"/>
<rect x="69.88" y="941.55" width="1.2" height="1.1" fill="#fff"/>
<rect x="71.85" y="940.41" width="1.2" height="1.1" fill="#fff"/>
<rect x="85.66" y="962.5" width="1.2" height="1.1" fill="#fff"/>
<rect x="76.97" y="930.07" width="1.2" height="1.1" fill="#fff"/>
<rect x="117.77" y="929.93" width="1.2" height="1.1" fill="#fff"/>
<rect x="80.32" y="936.23" width="1.2" height="1.1" fill="#fff"/>
<rect x="83.02" y="908.23" width="1.2" height="1.1" fill="#fff"/>
<rect x="85.04" y="961.43" width="1.2" height="1.1" fill="#fff"/>
<rect x="80.48" y="953.15" width="1.2" height="1.1" fill="#fff"/>
<rect x="101.79" y="924.92" width="1.2" height="1.1" fill="#fff"/>
<rect x="94.42" y="953.23" width="1.2" height="1.1" fill="#fff"/>
<rect x="84.07" y="897.72" width="1.2" height="1.1" fill="#fff"/>
<rect x="110.63" y="920.87" width="1.2" height="1.1" fill="#fff"/>
<rect x="65.57" y="921.95" width="1.2" height="1.1" fill="#fff"/>
<rect x="81.58" y="960.69" width="1.2" height="1.1" fill="#fff"/>
<rect x="97.39" y="908.76" width="1.2" height="1.1" fill="#fff"/>
<rect x="57.04" y="921.61" width="1.2" height="1.1" fill="#fff"/>
<rect x="76.08" y="923.35" width="1.2" height="1.1" fill="#fff"/>
<rect x="59.89" y="937.53" width="1.2" height="1.1" fill="#fff"/>
<rect x="85.39" y="896.07" width="1.2" height="1.1" fill="#fff"/>
<rect x="83.9" y="934.26" width="1.2" height="1.1" fill="#fff"/>
<rect x="54.83" y="920.53" width="1.2" height="1.1" fill="#fff"/>
<rect x="55.01" y="929.18" width="1.2" height="1.1" fill="#fff"/>
<rect x="122.68" y="928.79" width="1.2" height="1.1" fill="#fff"/>
<rect x="112.08" y="941.18" width="1.2" height="1.1" fill="#fff"/>
<rect x="70.27" y="924.47" width="1.2" height="1.1" fill="#fff"/>
<rect x="108.24" y="920.47" width="1.2" height="1.1" fill="#fff"/>
<rect x="101.19" y="906.35" width="1.2" height="1.1" fill="#fff"/>
<rect x="92.09" y="943.8" width="1.2" height="1.1" fill="#fff"/>
<rect x="91.97" y="898.56" width="1.2" height="1.1" fill="#fff"/>
<rect x="58.48" y="915.45" width="1.2" height="1.1" fill="#fff"/>
<rect x="106.5" y="948.05" width="1.2" height="1.1" fill="#fff"/>
<rect x="77.26" y="910.06" width="1.2" height="1.1" fill="#fff"/>
<rect x="101.92" y="929.59" width="1.2" height="1.1" fill="#fff"/>
</g>
<line x1="58.27" y1="914.52" x2="96.47" y2="963.12" stroke="#1fe01f" stroke-width="1.5" />
<line x1="62.52" y1="919.92" x2="64.72" y2="922.72" stroke="#e8201a" stroke-width="1.7" />
<rect x="63.42" y="921.82" width="1.2" height="4.42" fill="#f0c830" stroke="none" stroke-width="1" rx="0" />
<rect x="64.62" y="922.52" width="1" height="3.42" fill="#e88a20" stroke="none" stroke-width="1" rx="0" />
<rect x="62.42" y="921.52" width="1" height="2.42" fill="#2f8fd0" stroke="none" stroke-width="1" rx="0" />
<line x1="68.63" y1="927.7" x2="70.83" y2="930.5" stroke="#e8201a" stroke-width="1.7" />
<rect x="69.53" y="929.6" width="1.2" height="4.91" fill="#2f8fd0" stroke="none" stroke-width="1" rx="0" />
<rect x="70.73" y="930.3" width="1" height="3.91" fill="#e88a20" stroke="none" stroke-width="1" rx="0" />
<rect x="68.53" y="929.3" width="1" height="2.91" fill="#a01818" stroke="none" stroke-width="1" rx="0" />
<line x1="74.74" y1="935.47" x2="76.94" y2="938.27" stroke="#e8201a" stroke-width="1.7" />
<rect x="75.64" y="937.37" width="1.2" height="5.87" fill="#f0c830" stroke="none" stroke-width="1" rx="0" />
<rect x="76.84" y="938.07" width="1" height="4.87" fill="#e88a20" stroke="none" stroke-width="1" rx="0" />
<rect x="74.64" y="937.07" width="1" height="3.87" fill="#2f8fd0" stroke="none" stroke-width="1" rx="0" />
<line x1="80.85" y1="943.25" x2="83.05" y2="946.05" stroke="#e8201a" stroke-width="1.7" />
<rect x="81.75" y="945.15" width="1.2" height="6.59" fill="#f0c830" stroke="none" stroke-width="1" rx="0" />
<rect x="82.95" y="945.85" width="1" height="5.59" fill="#2f8fd0" stroke="none" stroke-width="1" rx="0" />
<rect x="80.75" y="944.85" width="1" height="4.59" fill="#e88a20" stroke="none" stroke-width="1" rx="0" />
<line x1="86.97" y1="951.02" x2="89.17" y2="953.82" stroke="#e8201a" stroke-width="1.7" />
<rect x="87.87" y="952.92" width="1.2" height="6.86" fill="#2f8fd0" stroke="none" stroke-width="1" rx="0" />
<rect x="89.07" y="953.62" width="1" height="5.86" fill="#e88a20" stroke="none" stroke-width="1" rx="0" />
<rect x="86.87" y="952.62" width="1" height="4.86" fill="#a01818" stroke="none" stroke-width="1" rx="0" />
<line x1="92.7" y1="958.31" x2="94.9" y2="961.11" stroke="#e8201a" stroke-width="1.7" />
<rect x="93.6" y="960.21" width="1.2" height="5.66" fill="#a01818" stroke="none" stroke-width="1" rx="0" />
<rect x="94.8" y="960.91" width="1" height="4.66" fill="#d02a1a" stroke="none" stroke-width="1" rx="0" />
<rect x="92.6" y="959.91" width="1" height="3.66" fill="#2f8fd0" stroke="none" stroke-width="1" rx="0" />
<polygon points="93.97,960.12 96.77,963.12 96.77,971.62 93.97,968.62" fill="#b01c18" stroke="none" stroke-width="1" />
<line x1="95.27" y1="961.62" x2="95.27" y2="970.12" stroke="#f0c020" stroke-width="0.6" />
<line x1="94.47" y1="960.92" x2="94.47" y2="969.42" stroke="#3090d0" stroke-width="0.5" />
<line x1="69.44" y1="904.72" x2="107.64" y2="953.32" stroke="#1fe01f" stroke-width="1.5" />
<line x1="73.69" y1="910.12" x2="75.89" y2="912.92" stroke="#e8201a" stroke-width="1.7" />
<rect x="74.59" y="912.02" width="1.2" height="5.85" fill="#f0c830" stroke="none" stroke-width="1" rx="0" />
<rect x="75.79" y="912.72" width="1" height="4.85" fill="#2f8fd0" stroke="none" stroke-width="1" rx="0" />
<rect x="73.59" y="911.72" width="1" height="3.85" fill="#e88a20" stroke="none" stroke-width="1" rx="0" />
<line x1="79.8" y1="917.9" x2="82" y2="920.7" stroke="#e8201a" stroke-width="1.7" />
<rect x="80.7" y="919.8" width="1.2" height="4.32" fill="#a01818" stroke="none" stroke-width="1" rx="0" />
<rect x="81.9" y="920.5" width="1" height="3.32" fill="#2f8fd0" stroke="none" stroke-width="1" rx="0" />
<rect x="79.7" y="919.5" width="1" height="2.32" fill="#e88a20" stroke="none" stroke-width="1" rx="0" />
<line x1="85.92" y1="925.67" x2="88.12" y2="928.47" stroke="#e8201a" stroke-width="1.7" />
<rect x="86.82" y="927.57" width="1.2" height="6.2" fill="#a01818" stroke="none" stroke-width="1" rx="0" />
<rect x="88.02" y="928.27" width="1" height="5.2" fill="#d02a1a" stroke="none" stroke-width="1" rx="0" />
<rect x="85.82" y="927.27" width="1" height="4.2" fill="#2f8fd0" stroke="none" stroke-width="1" rx="0" />
<line x1="92.03" y1="933.45" x2="94.23" y2="936.25" stroke="#e8201a" stroke-width="1.7" />
<rect x="92.93" y="935.35" width="1.2" height="4.96" fill="#d02a1a" stroke="none" stroke-width="1" rx="0" />
<rect x="94.13" y="936.05" width="1" height="3.96" fill="#2f8fd0" stroke="none" stroke-width="1" rx="0" />
<rect x="91.93" y="935.05" width="1" height="2.96" fill="#e88a20" stroke="none" stroke-width="1" rx="0" />
<line x1="98.14" y1="941.22" x2="100.34" y2="944.02" stroke="#e8201a" stroke-width="1.7" />
<rect x="99.04" y="943.12" width="1.2" height="7.01" fill="#2f8fd0" stroke="none" stroke-width="1" rx="0" />
<rect x="100.24" y="943.82" width="1" height="6.01" fill="#f0c830" stroke="none" stroke-width="1" rx="0" />
<rect x="98.04" y="942.82" width="1" height="5.01" fill="#d02a1a" stroke="none" stroke-width="1" rx="0" />
<line x1="103.87" y1="948.51" x2="106.07" y2="951.31" stroke="#e8201a" stroke-width="1.7" />
<rect x="104.77" y="950.41" width="1.2" height="5.81" fill="#e88a20" stroke="none" stroke-width="1" rx="0" />
<rect x="105.97" y="951.11" width="1" height="4.81" fill="#2f8fd0" stroke="none" stroke-width="1" rx="0" />
<rect x="103.77" y="950.11" width="1" height="3.81" fill="#f0c830" stroke="none" stroke-width="1" rx="0" />
<polygon points="105.14,950.32 107.94,953.32 107.94,961.82 105.14,958.82" fill="#b01c18" stroke="none" stroke-width="1" />
<line x1="106.44" y1="951.82" x2="106.44" y2="960.32" stroke="#f0c020" stroke-width="0.6" />
<line x1="105.64" y1="951.12" x2="105.64" y2="959.62" stroke="#3090d0" stroke-width="0.5" />
<line x1="80.84" y1="894.72" x2="119.04" y2="943.32" stroke="#1fe01f" stroke-width="1.5" />
<line x1="85.09" y1="900.12" x2="87.29" y2="902.92" stroke="#e8201a" stroke-width="1.7" />
<rect x="85.99" y="902.02" width="1.2" height="4.98" fill="#e88a20" stroke="none" stroke-width="1" rx="0" />
<rect x="87.19" y="902.72" width="1" height="3.98" fill="#2f8fd0" stroke="none" stroke-width="1" rx="0" />
<rect x="84.99" y="901.72" width="1" height="2.98" fill="#d02a1a" stroke="none" stroke-width="1" rx="0" />
<line x1="91.2" y1="907.9" x2="93.4" y2="910.7" stroke="#e8201a" stroke-width="1.7" />
<rect x="92.1" y="909.8" width="1.2" height="4.51" fill="#a01818" stroke="none" stroke-width="1" rx="0" />
<rect x="93.3" y="910.5" width="1" height="3.51" fill="#f0c830" stroke="none" stroke-width="1" rx="0" />
<rect x="91.1" y="909.5" width="1" height="2.51" fill="#e88a20" stroke="none" stroke-width="1" rx="0" />
<line x1="97.31" y1="915.68" x2="99.51" y2="918.48" stroke="#e8201a" stroke-width="1.7" />
<rect x="98.21" y="917.58" width="1.2" height="4.14" fill="#f0c830" stroke="none" stroke-width="1" rx="0" />
<rect x="99.41" y="918.28" width="1" height="3.14" fill="#d02a1a" stroke="none" stroke-width="1" rx="0" />
<rect x="97.21" y="917.28" width="1" height="2.14" fill="#2f8fd0" stroke="none" stroke-width="1" rx="0" />
<line x1="103.43" y1="923.45" x2="105.63" y2="926.25" stroke="#e8201a" stroke-width="1.7" />
<rect x="104.33" y="925.35" width="1.2" height="7.6" fill="#2f8fd0" stroke="none" stroke-width="1" rx="0" />
<rect x="105.53" y="926.05" width="1" height="6.6" fill="#d02a1a" stroke="none" stroke-width="1" rx="0" />
<rect x="103.33" y="925.05" width="1" height="5.6" fill="#e88a20" stroke="none" stroke-width="1" rx="0" />
<line x1="109.54" y1="931.23" x2="111.74" y2="934.03" stroke="#e8201a" stroke-width="1.7" />
<rect x="110.44" y="933.13" width="1.2" height="6.69" fill="#d02a1a" stroke="none" stroke-width="1" rx="0" />
<rect x="111.64" y="933.83" width="1" height="5.69" fill="#2f8fd0" stroke="none" stroke-width="1" rx="0" />
<rect x="109.44" y="932.83" width="1" height="4.69" fill="#a01818" stroke="none" stroke-width="1" rx="0" />
<line x1="115.27" y1="938.52" x2="117.47" y2="941.32" stroke="#e8201a" stroke-width="1.7" />
<rect x="116.17" y="940.42" width="1.2" height="7.81" fill="#2f8fd0" stroke="none" stroke-width="1" rx="0" />
<rect x="117.37" y="941.12" width="1" height="6.81" fill="#a01818" stroke="none" stroke-width="1" rx="0" />
<rect x="115.17" y="940.12" width="1" height="5.81" fill="#e88a20" stroke="none" stroke-width="1" rx="0" />
<polygon points="116.54,940.32 119.34,943.32 119.34,951.82 116.54,948.82" fill="#b01c18" stroke="none" stroke-width="1" />
<line x1="117.84" y1="941.82" x2="117.84" y2="950.32" stroke="#f0c020" stroke-width="0.6" />
<line x1="117.04" y1="941.12" x2="117.04" y2="949.62" stroke="#3090d0" stroke-width="0.5" />
<line x1="155.2" y1="933.6" x2="193.4" y2="982.2" stroke="#c4c4c4" stroke-width="0.6" />
<line x1="193.4" y1="982.2" x2="238.1" y2="943" stroke="#c4c4c4" stroke-width="0.6" />
<line x1="155.2" y1="933.6" x2="155.2" y2="925.1" stroke="#c4c4c4" stroke-width="0.6" />
<line x1="238.1" y1="943" x2="238.1" y2="934.5" stroke="#c4c4c4" stroke-width="0.6" />
<line x1="193.4" y1="982.2" x2="193.4" y2="973.7" stroke="#c4c4c4" stroke-width="0.6" />
<line x1="167.81" y1="949.64" x2="169.11" y2="948.54" stroke="#c4c4c4" stroke-width="0.6" />
<line x1="208.15" y1="969.26" x2="207.05" y2="967.96" stroke="#c4c4c4" stroke-width="0.6" />
<line x1="180.41" y1="965.68" x2="181.71" y2="964.58" stroke="#c4c4c4" stroke-width="0.6" />
<line x1="222.9" y1="956.33" x2="221.8" y2="955.03" stroke="#c4c4c4" stroke-width="0.6" />
<defs><clipPath id="dcl1"><polygon points="155.2,925.1 199.9,885.9 238.1,934.5 193.4,973.7"/></clipPath></defs>
<polygon points="155.2,925.1 199.9,885.9 238.1,934.5 193.4,973.7" fill="#1c1f6e" stroke="none" stroke-width="1" />
<g clip-path="url(#dcl1)">
<line x1="183.04" y1="913.56" x2="189.85" y2="915.76" stroke="#fff" stroke-width="1.3" stroke-dasharray="1.3 0.8"/>
<line x1="206.82" y1="904.3" x2="216.14" y2="906.5" stroke="#fff" stroke-width="1.3" stroke-dasharray="1.3 0.8"/>
<line x1="189.19" y1="920.29" x2="199.24" y2="922.49" stroke="#fff" stroke-width="1.3" stroke-dasharray="1.3 0.8"/>
<line x1="206.95" y1="922.6" x2="217.24" y2="924.8" stroke="#fff" stroke-width="1.3" stroke-dasharray="1.3 0.8"/>
<line x1="185.53" y1="902.64" x2="195.06" y2="904.84" stroke="#fff" stroke-width="1.3" stroke-dasharray="1.3 0.8"/>
<rect x="172.82" y="910.19" width="1.2" height="1.2" fill="#fff"/>
<rect x="214.01" y="921.96" width="1.2" height="1.2" fill="#fff"/>
<rect x="220.28" y="922.82" width="1.2" height="1.2" fill="#fff"/>
<rect x="177.1" y="910.58" width="1.2" height="1.2" fill="#fff"/>
<rect x="198.53" y="943.29" width="1.2" height="1.2" fill="#fff"/>
<rect x="176.38" y="915.7" width="1.2" height="1.2" fill="#fff"/>
<rect x="170.56" y="914.47" width="1.2" height="1.2" fill="#fff"/>
<rect x="179.25" y="924.3" width="1.2" height="1.2" fill="#fff"/>
<rect x="182" y="919.4" width="1.2" height="1.2" fill="#fff"/>
<rect x="202.15" y="893.55" width="1.2" height="1.2" fill="#fff"/>
<rect x="213.83" y="916.11" width="1.2" height="1.2" fill="#fff"/>
<rect x="201.79" y="917.32" width="1.2" height="1.2" fill="#fff"/>
<path d="M166.53,915.49 l1.5,2 l1.5,-2" stroke="#fff" stroke-width="0.9" fill="none"/>
<path d="M177.71,905.69 l1.5,2 l1.5,-2" stroke="#fff" stroke-width="0.9" fill="none"/>
<path d="M189.11,895.69 l1.5,2 l1.5,-2" stroke="#fff" stroke-width="0.9" fill="none"/>
<path d="M196.93,888.83 l1.5,2 l1.5,-2" stroke="#fff" stroke-width="0.9" fill="none"/>
</g>
<line x1="167.27" y1="914.52" x2="205.47" y2="963.12" stroke="#1fe01f" stroke-width="1.5" />
<line x1="171.52" y1="919.92" x2="173.72" y2="922.72" stroke="#e8201a" stroke-width="1.7" />
<rect x="172.42" y="921.82" width="1.2" height="7.08" fill="#a01818" stroke="none" stroke-width="1" rx="0" />
<rect x="173.62" y="922.52" width="1" height="6.08" fill="#f0c830" stroke="none" stroke-width="1" rx="0" />
<rect x="171.42" y="921.52" width="1" height="5.08" fill="#d02a1a" stroke="none" stroke-width="1" rx="0" />
<line x1="177.63" y1="927.7" x2="179.83" y2="930.5" stroke="#e8201a" stroke-width="1.7" />
<rect x="178.53" y="929.6" width="1.2" height="5.15" fill="#d02a1a" stroke="none" stroke-width="1" rx="0" />
<rect x="179.73" y="930.3" width="1" height="4.15" fill="#e88a20" stroke="none" stroke-width="1" rx="0" />
<rect x="177.53" y="929.3" width="1" height="3.15" fill="#f0c830" stroke="none" stroke-width="1" rx="0" />
<line x1="183.74" y1="935.47" x2="185.94" y2="938.27" stroke="#e8201a" stroke-width="1.7" />
<rect x="184.64" y="937.37" width="1.2" height="5.6" fill="#f0c830" stroke="none" stroke-width="1" rx="0" />
<rect x="185.84" y="938.07" width="1" height="4.6" fill="#2f8fd0" stroke="none" stroke-width="1" rx="0" />
<rect x="183.64" y="937.07" width="1" height="3.6" fill="#a01818" stroke="none" stroke-width="1" rx="0" />
<line x1="189.85" y1="943.25" x2="192.05" y2="946.05" stroke="#e8201a" stroke-width="1.7" />
<rect x="190.75" y="945.15" width="1.2" height="4.28" fill="#2f8fd0" stroke="none" stroke-width="1" rx="0" />
<rect x="191.95" y="945.85" width="1" height="3.28" fill="#d02a1a" stroke="none" stroke-width="1" rx="0" />
<rect x="189.75" y="944.85" width="1" height="2.28" fill="#a01818" stroke="none" stroke-width="1" rx="0" />
<line x1="195.96" y1="951.02" x2="198.16" y2="953.82" stroke="#e8201a" stroke-width="1.7" />
<rect x="196.86" y="952.92" width="1.2" height="5.78" fill="#d02a1a" stroke="none" stroke-width="1" rx="0" />
<rect x="198.06" y="953.62" width="1" height="4.78" fill="#a01818" stroke="none" stroke-width="1" rx="0" />
<rect x="195.86" y="952.62" width="1" height="3.78" fill="#2f8fd0" stroke="none" stroke-width="1" rx="0" />
<line x1="201.69" y1="958.31" x2="203.89" y2="961.11" stroke="#e8201a" stroke-width="1.7" />
<rect x="202.59" y="960.21" width="1.2" height="6.65" fill="#d02a1a" stroke="none" stroke-width="1" rx="0" />
<rect x="203.79" y="960.91" width="1" height="5.65" fill="#f0c830" stroke="none" stroke-width="1" rx="0" />
<rect x="201.59" y="959.91" width="1" height="4.65" fill="#a01818" stroke="none" stroke-width="1" rx="0" />
<polygon points="202.97,960.12 205.77,963.12 205.77,971.62 202.97,968.62" fill="#b01c18" stroke="none" stroke-width="1" />
<line x1="204.27" y1="961.62" x2="204.27" y2="970.12" stroke="#f0c020" stroke-width="0.6" />
<line x1="203.47" y1="960.92" x2="203.47" y2="969.42" stroke="#3090d0" stroke-width="0.5" />
<line x1="178.44" y1="904.72" x2="216.64" y2="953.32" stroke="#1fe01f" stroke-width="1.5" />
<line x1="182.69" y1="910.12" x2="184.89" y2="912.92" stroke="#e8201a" stroke-width="1.7" />
<rect x="183.59" y="912.02" width="1.2" height="5.54" fill="#e88a20" stroke="none" stroke-width="1" rx="0" />
<rect x="184.79" y="912.72" width="1" height="4.54" fill="#d02a1a" stroke="none" stroke-width="1" rx="0" />
<rect x="182.59" y="911.72" width="1" height="3.54" fill="#a01818" stroke="none" stroke-width="1" rx="0" />
<line x1="188.8" y1="917.9" x2="191" y2="920.7" stroke="#e8201a" stroke-width="1.7" />
<rect x="189.7" y="919.8" width="1.2" height="4.03" fill="#a01818" stroke="none" stroke-width="1" rx="0" />
<rect x="190.9" y="920.5" width="1" height="3.03" fill="#f0c830" stroke="none" stroke-width="1" rx="0" />
<rect x="188.7" y="919.5" width="1" height="2.03" fill="#e88a20" stroke="none" stroke-width="1" rx="0" />
<line x1="194.92" y1="925.67" x2="197.12" y2="928.47" stroke="#e8201a" stroke-width="1.7" />
<rect x="195.82" y="927.57" width="1.2" height="5.97" fill="#e88a20" stroke="none" stroke-width="1" rx="0" />
<rect x="197.02" y="928.27" width="1" height="4.97" fill="#f0c830" stroke="none" stroke-width="1" rx="0" />
<rect x="194.82" y="927.27" width="1" height="3.97" fill="#2f8fd0" stroke="none" stroke-width="1" rx="0" />
<line x1="201.03" y1="933.45" x2="203.23" y2="936.25" stroke="#e8201a" stroke-width="1.7" />
<rect x="201.93" y="935.35" width="1.2" height="6.28" fill="#e88a20" stroke="none" stroke-width="1" rx="0" />
<rect x="203.13" y="936.05" width="1" height="5.28" fill="#a01818" stroke="none" stroke-width="1" rx="0" />
<rect x="200.93" y="935.05" width="1" height="4.28" fill="#2f8fd0" stroke="none" stroke-width="1" rx="0" />
<line x1="207.14" y1="941.22" x2="209.34" y2="944.02" stroke="#e8201a" stroke-width="1.7" />
<rect x="208.04" y="943.12" width="1.2" height="5.5" fill="#f0c830" stroke="none" stroke-width="1" rx="0" />
<rect x="209.24" y="943.82" width="1" height="4.5" fill="#e88a20" stroke="none" stroke-width="1" rx="0" />
<rect x="207.04" y="942.82" width="1" height="3.5" fill="#a01818" stroke="none" stroke-width="1" rx="0" />
<line x1="212.87" y1="948.51" x2="215.07" y2="951.31" stroke="#e8201a" stroke-width="1.7" />
<rect x="213.77" y="950.41" width="1.2" height="4.51" fill="#f0c830" stroke="none" stroke-width="1" rx="0" />
<rect x="214.97" y="951.11" width="1" height="3.51" fill="#a01818" stroke="none" stroke-width="1" rx="0" />
<rect x="212.77" y="950.11" width="1" height="2.51" fill="#d02a1a" stroke="none" stroke-width="1" rx="0" />
<polygon points="214.14,950.32 216.94,953.32 216.94,961.82 214.14,958.82" fill="#b01c18" stroke="none" stroke-width="1" />
<line x1="215.44" y1="951.82" x2="215.44" y2="960.32" stroke="#f0c020" stroke-width="0.6" />
<line x1="214.64" y1="951.12" x2="214.64" y2="959.62" stroke="#3090d0" stroke-width="0.5" />
<line x1="189.84" y1="894.72" x2="228.04" y2="943.32" stroke="#1fe01f" stroke-width="1.5" />
<line x1="194.09" y1="900.12" x2="196.29" y2="902.92" stroke="#e8201a" stroke-width="1.7" />
<rect x="194.99" y="902.02" width="1.2" height="6.48" fill="#d02a1a" stroke="none" stroke-width="1" rx="0" />
<rect x="196.19" y="902.72" width="1" height="5.48" fill="#2f8fd0" stroke="none" stroke-width="1" rx="0" />
<rect x="193.99" y="901.72" width="1" height="4.48" fill="#a01818" stroke="none" stroke-width="1" rx="0" />
<line x1="200.2" y1="907.9" x2="202.4" y2="910.7" stroke="#e8201a" stroke-width="1.7" />
<rect x="201.1" y="909.8" width="1.2" height="4.43" fill="#d02a1a" stroke="none" stroke-width="1" rx="0" />
<rect x="202.3" y="910.5" width="1" height="3.43" fill="#e88a20" stroke="none" stroke-width="1" rx="0" />
<rect x="200.1" y="909.5" width="1" height="2.43" fill="#2f8fd0" stroke="none" stroke-width="1" rx="0" />
<line x1="206.31" y1="915.68" x2="208.51" y2="918.48" stroke="#e8201a" stroke-width="1.7" />
<rect x="207.21" y="917.58" width="1.2" height="7.11" fill="#2f8fd0" stroke="none" stroke-width="1" rx="0" />
<rect x="208.41" y="918.28" width="1" height="6.11" fill="#e88a20" stroke="none" stroke-width="1" rx="0" />
<rect x="206.21" y="917.28" width="1" height="5.11" fill="#a01818" stroke="none" stroke-width="1" rx="0" />
<line x1="212.43" y1="923.45" x2="214.63" y2="926.25" stroke="#e8201a" stroke-width="1.7" />
<rect x="213.33" y="925.35" width="1.2" height="5.6" fill="#f0c830" stroke="none" stroke-width="1" rx="0" />
<rect x="214.53" y="926.05" width="1" height="4.6" fill="#2f8fd0" stroke="none" stroke-width="1" rx="0" />
<rect x="212.33" y="925.05" width="1" height="3.6" fill="#d02a1a" stroke="none" stroke-width="1" rx="0" />
<line x1="218.54" y1="931.23" x2="220.74" y2="934.03" stroke="#e8201a" stroke-width="1.7" />
<rect x="219.44" y="933.13" width="1.2" height="7.76" fill="#f0c830" stroke="none" stroke-width="1" rx="0" />
<rect x="220.64" y="933.83" width="1" height="6.76" fill="#d02a1a" stroke="none" stroke-width="1" rx="0" />
<rect x="218.44" y="932.83" width="1" height="5.76" fill="#a01818" stroke="none" stroke-width="1" rx="0" />
<line x1="224.27" y1="938.52" x2="226.47" y2="941.32" stroke="#e8201a" stroke-width="1.7" />
<rect x="225.17" y="940.42" width="1.2" height="6.01" fill="#e88a20" stroke="none" stroke-width="1" rx="0" />
<rect x="226.37" y="941.12" width="1" height="5.01" fill="#a01818" stroke="none" stroke-width="1" rx="0" />
<rect x="224.17" y="940.12" width="1" height="4.01" fill="#f0c830" stroke="none" stroke-width="1" rx="0" />
<polygon points="225.54,940.32 228.34,943.32 228.34,951.82 225.54,948.82" fill="#b01c18" stroke="none" stroke-width="1" />
<line x1="226.84" y1="941.82" x2="226.84" y2="950.32" stroke="#f0c020" stroke-width="0.6" />
<line x1="226.04" y1="941.12" x2="226.04" y2="949.62" stroke="#3090d0" stroke-width="0.5" />
<line x1="264.2" y1="933.6" x2="302.4" y2="982.2" stroke="#c4c4c4" stroke-width="0.6" />
<line x1="302.4" y1="982.2" x2="347.1" y2="943" stroke="#c4c4c4" stroke-width="0.6" />
<line x1="264.2" y1="933.6" x2="264.2" y2="925.1" stroke="#c4c4c4" stroke-width="0.6" />
<line x1="347.1" y1="943" x2="347.1" y2="934.5" stroke="#c4c4c4" stroke-width="0.6" />
<line x1="302.4" y1="982.2" x2="302.4" y2="973.7" stroke="#c4c4c4" stroke-width="0.6" />
<line x1="276.81" y1="949.64" x2="278.11" y2="948.54" stroke="#c4c4c4" stroke-width="0.6" />
<line x1="317.15" y1="969.26" x2="316.05" y2="967.96" stroke="#c4c4c4" stroke-width="0.6" />
<line x1="289.41" y1="965.68" x2="290.71" y2="964.58" stroke="#c4c4c4" stroke-width="0.6" />
<line x1="331.9" y1="956.33" x2="330.8" y2="955.03" stroke="#c4c4c4" stroke-width="0.6" />
<defs><clipPath id="dcl2"><polygon points="264.2,925.1 308.9,885.9 347.1,934.5 302.4,973.7"/></clipPath></defs>
<polygon points="264.2,925.1 308.9,885.9 347.1,934.5 302.4,973.7" fill="#1c1f6e" stroke="none" stroke-width="1" />
<g clip-path="url(#dcl2)">
<line x1="311.05" y1="914.07" x2="320.95" y2="916.27" stroke="#fff" stroke-width="1.3" stroke-dasharray="1.3 0.8"/>
<line x1="304.87" y1="920.3" x2="315.22" y2="922.5" stroke="#fff" stroke-width="1.3" stroke-dasharray="1.3 0.8"/>
<line x1="310.1" y1="896.61" x2="319.01" y2="898.81" stroke="#fff" stroke-width="1.3" stroke-dasharray="1.3 0.8"/>
<line x1="309.63" y1="910.03" x2="320.43" y2="912.23" stroke="#fff" stroke-width="1.3" stroke-dasharray="1.3 0.8"/>
<line x1="306.54" y1="910.36" x2="317.2" y2="912.56" stroke="#fff" stroke-width="1.3" stroke-dasharray="1.3 0.8"/>
<rect x="305.56" y="906.15" width="1.2" height="1.2" fill="#fff"/>
<rect x="300.55" y="921.73" width="1.2" height="1.2" fill="#fff"/>
<rect x="295.5" y="932.57" width="1.2" height="1.2" fill="#fff"/>
<rect x="312.03" y="907.65" width="1.2" height="1.2" fill="#fff"/>
<rect x="328.91" y="921.68" width="1.2" height="1.2" fill="#fff"/>
<rect x="313.21" y="921.27" width="1.2" height="1.2" fill="#fff"/>
<rect x="282.78" y="912.03" width="1.2" height="1.2" fill="#fff"/>
<rect x="315.88" y="896.12" width="1.2" height="1.2" fill="#fff"/>
<rect x="308.26" y="937.99" width="1.2" height="1.2" fill="#fff"/>
<rect x="304.37" y="896.96" width="1.2" height="1.2" fill="#fff"/>
<rect x="294.16" y="912.77" width="1.2" height="1.2" fill="#fff"/>
<rect x="286.31" y="906.07" width="1.2" height="1.2" fill="#fff"/>
<path d="M275.53,915.49 l1.5,2 l1.5,-2" stroke="#fff" stroke-width="0.9" fill="none"/>
<path d="M286.71,905.69 l1.5,2 l1.5,-2" stroke="#fff" stroke-width="0.9" fill="none"/>
<path d="M298.11,895.69 l1.5,2 l1.5,-2" stroke="#fff" stroke-width="0.9" fill="none"/>
<path d="M305.93,888.83 l1.5,2 l1.5,-2" stroke="#fff" stroke-width="0.9" fill="none"/>
</g>
<line x1="276.27" y1="914.52" x2="314.47" y2="963.12" stroke="#1fe01f" stroke-width="1.5" />
<line x1="280.52" y1="919.92" x2="282.72" y2="922.72" stroke="#e8201a" stroke-width="1.7" />
<rect x="281.42" y="921.82" width="1.2" height="6.1" fill="#f0c830" stroke="none" stroke-width="1" rx="0" />
<rect x="282.62" y="922.52" width="1" height="5.1" fill="#2f8fd0" stroke="none" stroke-width="1" rx="0" />
<rect x="280.42" y="921.52" width="1" height="4.1" fill="#e88a20" stroke="none" stroke-width="1" rx="0" />
<line x1="286.63" y1="927.7" x2="288.83" y2="930.5" stroke="#e8201a" stroke-width="1.7" />
<rect x="287.53" y="929.6" width="1.2" height="4.74" fill="#d02a1a" stroke="none" stroke-width="1" rx="0" />
<rect x="288.73" y="930.3" width="1" height="3.74" fill="#a01818" stroke="none" stroke-width="1" rx="0" />
<rect x="286.53" y="929.3" width="1" height="2.74" fill="#e88a20" stroke="none" stroke-width="1" rx="0" />
<line x1="292.74" y1="935.47" x2="294.94" y2="938.27" stroke="#e8201a" stroke-width="1.7" />
<rect x="293.64" y="937.37" width="1.2" height="7.49" fill="#a01818" stroke="none" stroke-width="1" rx="0" />
<rect x="294.84" y="938.07" width="1" height="6.49" fill="#d02a1a" stroke="none" stroke-width="1" rx="0" />
<rect x="292.64" y="937.07" width="1" height="5.49" fill="#2f8fd0" stroke="none" stroke-width="1" rx="0" />
<line x1="298.85" y1="943.25" x2="301.05" y2="946.05" stroke="#e8201a" stroke-width="1.7" />
<rect x="299.75" y="945.15" width="1.2" height="4.6" fill="#d02a1a" stroke="none" stroke-width="1" rx="0" />
<rect x="300.95" y="945.85" width="1" height="3.6" fill="#f0c830" stroke="none" stroke-width="1" rx="0" />
<rect x="298.75" y="944.85" width="1" height="2.6" fill="#a01818" stroke="none" stroke-width="1" rx="0" />
<line x1="304.96" y1="951.02" x2="307.17" y2="953.82" stroke="#e8201a" stroke-width="1.7" />
<rect x="305.87" y="952.92" width="1.2" height="4.23" fill="#f0c830" stroke="none" stroke-width="1" rx="0" />
<rect x="307.06" y="953.62" width="1" height="3.23" fill="#a01818" stroke="none" stroke-width="1" rx="0" />
<rect x="304.87" y="952.62" width="1" height="2.23" fill="#d02a1a" stroke="none" stroke-width="1" rx="0" />
<line x1="310.69" y1="958.31" x2="312.9" y2="961.11" stroke="#e8201a" stroke-width="1.7" />
<rect x="311.6" y="960.21" width="1.2" height="7.47" fill="#2f8fd0" stroke="none" stroke-width="1" rx="0" />
<rect x="312.8" y="960.91" width="1" height="6.47" fill="#a01818" stroke="none" stroke-width="1" rx="0" />
<rect x="310.6" y="959.91" width="1" height="5.47" fill="#f0c830" stroke="none" stroke-width="1" rx="0" />
<polygon points="311.97,960.12 314.77,963.12 314.77,971.62 311.97,968.62" fill="#b01c18" stroke="none" stroke-width="1" />
<line x1="313.27" y1="961.62" x2="313.27" y2="970.12" stroke="#f0c020" stroke-width="0.6" />
<line x1="312.47" y1="960.92" x2="312.47" y2="969.42" stroke="#3090d0" stroke-width="0.5" />
<line x1="287.44" y1="904.72" x2="325.64" y2="953.32" stroke="#1fe01f" stroke-width="1.5" />
<line x1="291.69" y1="910.12" x2="293.89" y2="912.92" stroke="#e8201a" stroke-width="1.7" />
<rect x="292.59" y="912.02" width="1.2" height="5.89" fill="#f0c830" stroke="none" stroke-width="1" rx="0" />
<rect x="293.79" y="912.72" width="1" height="4.89" fill="#2f8fd0" stroke="none" stroke-width="1" rx="0" />
<rect x="291.59" y="911.72" width="1" height="3.89" fill="#e88a20" stroke="none" stroke-width="1" rx="0" />
<line x1="297.8" y1="917.9" x2="300" y2="920.7" stroke="#e8201a" stroke-width="1.7" />
<rect x="298.7" y="919.8" width="1.2" height="5.94" fill="#d02a1a" stroke="none" stroke-width="1" rx="0" />
<rect x="299.9" y="920.5" width="1" height="4.94" fill="#2f8fd0" stroke="none" stroke-width="1" rx="0" />
<rect x="297.7" y="919.5" width="1" height="3.94" fill="#e88a20" stroke="none" stroke-width="1" rx="0" />
<line x1="303.92" y1="925.67" x2="306.12" y2="928.47" stroke="#e8201a" stroke-width="1.7" />
<rect x="304.82" y="927.57" width="1.2" height="5.52" fill="#f0c830" stroke="none" stroke-width="1" rx="0" />
<rect x="306.02" y="928.27" width="1" height="4.52" fill="#d02a1a" stroke="none" stroke-width="1" rx="0" />
<rect x="303.82" y="927.27" width="1" height="3.52" fill="#a01818" stroke="none" stroke-width="1" rx="0" />
<line x1="310.03" y1="933.45" x2="312.23" y2="936.25" stroke="#e8201a" stroke-width="1.7" />
<rect x="310.93" y="935.35" width="1.2" height="7.49" fill="#d02a1a" stroke="none" stroke-width="1" rx="0" />
<rect x="312.13" y="936.05" width="1" height="6.49" fill="#2f8fd0" stroke="none" stroke-width="1" rx="0" />
<rect x="309.93" y="935.05" width="1" height="5.49" fill="#f0c830" stroke="none" stroke-width="1" rx="0" />
<line x1="316.14" y1="941.22" x2="318.34" y2="944.02" stroke="#e8201a" stroke-width="1.7" />
<rect x="317.04" y="943.12" width="1.2" height="5.26" fill="#e88a20" stroke="none" stroke-width="1" rx="0" />
<rect x="318.24" y="943.82" width="1" height="4.26" fill="#2f8fd0" stroke="none" stroke-width="1" rx="0" />
<rect x="316.04" y="942.82" width="1" height="3.26" fill="#f0c830" stroke="none" stroke-width="1" rx="0" />
<line x1="321.87" y1="948.51" x2="324.07" y2="951.31" stroke="#e8201a" stroke-width="1.7" />
<rect x="322.77" y="950.41" width="1.2" height="6.45" fill="#d02a1a" stroke="none" stroke-width="1" rx="0" />
<rect x="323.97" y="951.11" width="1" height="5.45" fill="#a01818" stroke="none" stroke-width="1" rx="0" />
<rect x="321.77" y="950.11" width="1" height="4.45" fill="#f0c830" stroke="none" stroke-width="1" rx="0" />
<polygon points="323.14,950.32 325.94,953.32 325.94,961.82 323.14,958.82" fill="#b01c18" stroke="none" stroke-width="1" />
<line x1="324.44" y1="951.82" x2="324.44" y2="960.32" stroke="#f0c020" stroke-width="0.6" />
<line x1="323.64" y1="951.12" x2="323.64" y2="959.62" stroke="#3090d0" stroke-width="0.5" />
<line x1="298.84" y1="894.72" x2="337.04" y2="943.32" stroke="#1fe01f" stroke-width="1.5" />
<line x1="303.09" y1="900.12" x2="305.29" y2="902.92" stroke="#e8201a" stroke-width="1.7" />
<rect x="303.99" y="902.02" width="1.2" height="7.72" fill="#f0c830" stroke="none" stroke-width="1" rx="0" />
<rect x="305.19" y="902.72" width="1" height="6.72" fill="#2f8fd0" stroke="none" stroke-width="1" rx="0" />
<rect x="302.99" y="901.72" width="1" height="5.72" fill="#e88a20" stroke="none" stroke-width="1" rx="0" />
<line x1="309.2" y1="907.9" x2="311.4" y2="910.7" stroke="#e8201a" stroke-width="1.7" />
<rect x="310.1" y="909.8" width="1.2" height="5.69" fill="#a01818" stroke="none" stroke-width="1" rx="0" />
<rect x="311.3" y="910.5" width="1" height="4.69" fill="#2f8fd0" stroke="none" stroke-width="1" rx="0" />
<rect x="309.1" y="909.5" width="1" height="3.69" fill="#e88a20" stroke="none" stroke-width="1" rx="0" />
<line x1="315.31" y1="915.68" x2="317.51" y2="918.48" stroke="#e8201a" stroke-width="1.7" />
<rect x="316.21" y="917.58" width="1.2" height="5.89" fill="#a01818" stroke="none" stroke-width="1" rx="0" />
<rect x="317.41" y="918.28" width="1" height="4.89" fill="#2f8fd0" stroke="none" stroke-width="1" rx="0" />
<rect x="315.21" y="917.28" width="1" height="3.89" fill="#e88a20" stroke="none" stroke-width="1" rx="0" />
<line x1="321.43" y1="923.45" x2="323.63" y2="926.25" stroke="#e8201a" stroke-width="1.7" />
<rect x="322.33" y="925.35" width="1.2" height="4.08" fill="#2f8fd0" stroke="none" stroke-width="1" rx="0" />
<rect x="323.53" y="926.05" width="1" height="3.08" fill="#f0c830" stroke="none" stroke-width="1" rx="0" />
<rect x="321.33" y="925.05" width="1" height="2.08" fill="#e88a20" stroke="none" stroke-width="1" rx="0" />
<line x1="327.54" y1="931.23" x2="329.74" y2="934.03" stroke="#e8201a" stroke-width="1.7" />
<rect x="328.44" y="933.13" width="1.2" height="4.67" fill="#e88a20" stroke="none" stroke-width="1" rx="0" />
<rect x="329.64" y="933.83" width="1" height="3.67" fill="#f0c830" stroke="none" stroke-width="1" rx="0" />
<rect x="327.44" y="932.83" width="1" height="2.67" fill="#2f8fd0" stroke="none" stroke-width="1" rx="0" />
<line x1="333.27" y1="938.52" x2="335.47" y2="941.32" stroke="#e8201a" stroke-width="1.7" />
<rect x="334.17" y="940.42" width="1.2" height="7.81" fill="#a01818" stroke="none" stroke-width="1" rx="0" />
<rect x="335.37" y="941.12" width="1" height="6.81" fill="#e88a20" stroke="none" stroke-width="1" rx="0" />
<rect x="333.17" y="940.12" width="1" height="5.81" fill="#f0c830" stroke="none" stroke-width="1" rx="0" />
<polygon points="334.54,940.32 337.34,943.32 337.34,951.82 334.54,948.82" fill="#b01c18" stroke="none" stroke-width="1" />
<line x1="335.84" y1="941.82" x2="335.84" y2="950.32" stroke="#f0c020" stroke-width="0.6" />
<line x1="335.04" y1="941.12" x2="335.04" y2="949.62" stroke="#3090d0" stroke-width="0.5" />
<line x1="373.2" y1="933.6" x2="411.4" y2="982.2" stroke="#c4c4c4" stroke-width="0.6" />
<line x1="411.4" y1="982.2" x2="456.1" y2="943" stroke="#c4c4c4" stroke-width="0.6" />
<line x1="373.2" y1="933.6" x2="373.2" y2="925.1" stroke="#c4c4c4" stroke-width="0.6" />
<line x1="456.1" y1="943" x2="456.1" y2="934.5" stroke="#c4c4c4" stroke-width="0.6" />
<line x1="411.4" y1="982.2" x2="411.4" y2="973.7" stroke="#c4c4c4" stroke-width="0.6" />
<line x1="385.81" y1="949.64" x2="387.11" y2="948.54" stroke="#c4c4c4" stroke-width="0.6" />
<line x1="426.15" y1="969.26" x2="425.05" y2="967.96" stroke="#c4c4c4" stroke-width="0.6" />
<line x1="398.41" y1="965.68" x2="399.71" y2="964.58" stroke="#c4c4c4" stroke-width="0.6" />
<line x1="440.9" y1="956.33" x2="439.8" y2="955.03" stroke="#c4c4c4" stroke-width="0.6" />
<defs><clipPath id="dcl3"><polygon points="373.2,925.1 417.9,885.9 456.1,934.5 411.4,973.7"/></clipPath></defs>
<polygon points="373.2,925.1 417.9,885.9 456.1,934.5 411.4,973.7" fill="#1c1f6e" stroke="none" stroke-width="1" />
<g clip-path="url(#dcl3)">
<path d="M368.2,877.1L373.92,879.16M376.19,879.98L383.63,882.65M385.95,883.49L390.46,885.11M392.88,885.99L397.71,887.73M399.17,888.25L402.19,889.34M403.96,889.97L407.31,891.18M408.72,891.69L414.58,893.8M416.75,894.58L423.39,896.97M424.52,897.37L427.35,898.39M428.74,898.89L434.27,900.89M436.53,901.7L443.43,904.18M445.83,905.05L451.57,907.11M453.53,907.82L457.63,909.3M459.1,909.82L461.1,910.54" stroke="#fff" stroke-width="1.83"/>
<path d="M368.2,883.42L372.86,885.1M374.49,885.69L378.36,887.08M380.58,887.88L386.28,889.93M388.4,890.69L395.36,893.2M396.78,893.71L399.93,894.84M401.35,895.36L408.84,898.05M411.03,898.84L415.76,900.54M417.93,901.32L422.31,902.9M424.6,903.73L427.6,904.81M429.71,905.57L437.6,908.41M439.23,908.99L444.27,910.81M445.47,911.24L449.48,912.68M450.84,913.17L454.96,914.66M456.07,915.05L460.21,916.55" stroke="#fff" stroke-width="1.89"/>
<path d="M368.2,889.5L371.95,890.85M374.37,891.72L378.57,893.23M380.37,893.87L387.79,896.55M389.92,897.32L397.73,900.13M399.65,900.82L406.94,903.44M408.04,903.84L414.57,906.19M416.08,906.73L420.34,908.27M422.5,909.04L429.08,911.41M430.59,911.96L435.09,913.58M436.51,914.09L444.14,916.83M446.06,917.53L449.99,918.94M451.79,919.59L454.61,920.6M456.01,921.11L461.1,922.94" stroke="#fff" stroke-width="1.69"/>
<path d="M368.2,896.57L374.9,898.98M376.27,899.48L382.59,901.75M385.09,902.65L388.43,903.85M390.83,904.72L398.75,907.57M400.3,908.13L407.28,910.64M409.76,911.53L413.08,912.73M414.77,913.34L420.54,915.41M422.73,916.2L426.69,917.63M428.82,918.39L435.19,920.69M437.48,921.51L444.02,923.87M446.31,924.69L452.13,926.79M453.95,927.44L458.99,929.25M460.6,929.83L461.1,930.01" stroke="#fff" stroke-width="1.86"/>
<path d="M368.2,902.25L372.89,903.93M375.3,904.8L379.49,906.31M381.96,907.2L389.04,909.75M390.72,910.35L394.42,911.69M396.74,912.52L404.49,915.31M405.96,915.84L412.14,918.06M414.27,918.83L420.18,920.96M421.36,921.38L425.16,922.75M427.24,923.5L433.23,925.66M435.24,926.38L439.28,927.84M441.6,928.67L448.38,931.11M450.1,931.73L457.3,934.32M458.76,934.85L461.1,935.69" stroke="#fff" stroke-width="1.37"/>
<path d="M368.2,909.65L372.58,911.23M374.75,912.01L378.88,913.5M381.21,914.33L388.61,917M390.63,917.73L393.33,918.7M394.79,919.22L398.23,920.46M399.98,921.09L402.69,922.07M403.78,922.46L406.83,923.56M409.12,924.38L414.93,926.47M417.23,927.3L424.92,930.07M426.77,930.74L433.93,933.31M435.58,933.91L441.43,936.01M442.68,936.46L447.63,938.25M448.78,938.66L453.82,940.47M456.26,941.35L461.1,943.09" stroke="#fff" stroke-width="2.32"/>
<path d="M368.2,914.28L373.62,916.24M375.63,916.96L380.37,918.67M382.54,919.45L386.76,920.97M387.93,921.39L392.95,923.2M394.23,923.66L397.97,925M399.26,925.47L405.63,927.76M407.65,928.49L411.36,929.82M413.39,930.55L416.05,931.51M418.47,932.38L422.25,933.74M424.02,934.38L428.56,936.01M430.84,936.83L435.76,938.61M437.01,939.06L444.24,941.66M446.11,942.33L450.08,943.76M452.15,944.51L459.57,947.18" stroke="#fff" stroke-width="2.39"/>
<path d="M368.2,921.16L371.99,922.53M373.08,922.92L380.51,925.59M381.86,926.08L386.38,927.71M388.59,928.5L391.7,929.63M394.1,930.49L399.68,932.5M400.94,932.95L407.9,935.46M409.9,936.18L412.75,937.2M414.48,937.83L420.89,940.13M422.3,940.64L426.64,942.2M428.93,943.03L432.2,944.2M433.58,944.7L436.76,945.85M438.49,946.47L443.44,948.25M444.85,948.76L447.87,949.84M449.05,950.27L455.71,952.67M457.58,953.34L461.1,954.61" stroke="#fff" stroke-width="1.62"/>
<path d="M368.2,928.52L373.87,930.56M376.11,931.37L379.02,932.42M380.93,933.1L385.1,934.6M386.15,934.98L392.8,937.38M393.85,937.75L400.38,940.11M401.8,940.62L408.95,943.19M410.04,943.58L415.18,945.44M417.65,946.32L423.09,948.28M425.02,948.98L430.36,950.9M432.25,951.58L436.94,953.27M438.34,953.77L442.47,955.26M444.73,956.07L449.01,957.61M451.06,958.35L458.72,961.11" stroke="#fff" stroke-width="2.03"/>
<path d="M368.2,935.56L374.27,937.75M376.07,938.4L379.15,939.51M380.26,939.91L384.41,941.4M386.14,942.02L391.33,943.89M392.35,944.26L398.07,946.31M399.6,946.87L404.26,948.55M405.39,948.95L412.17,951.39M414.37,952.19L420.98,954.56M422.15,954.99L424.76,955.93M427.2,956.8L433.09,958.92M435.51,959.8L440.26,961.5M442.45,962.29L445.59,963.42M446.71,963.83L452.97,966.08M454.98,966.8L459.44,968.41" stroke="#fff" stroke-width="2.28"/>
<path d="M368.2,941.94L370.72,942.85M372.42,943.46L376.4,944.9M378.84,945.78L382.37,947.05M384.16,947.69L387.89,949.03M389.52,949.62L393.13,950.92M394.47,951.4L401.05,953.77M403.17,954.53L409.31,956.74M411.8,957.64L419.57,960.44M421.36,961.08L428.69,963.72M430.7,964.45L437.48,966.88M438.85,967.38L446.49,970.13M448.53,970.86L451.7,972M452.7,972.37L457.21,973.99M459.19,974.7L461.1,975.39" stroke="#fff" stroke-width="1.48"/>
<path d="M368.2,948.71L370.92,949.68M372.55,950.27L376.99,951.87M378.97,952.58L382.03,953.69M384.31,954.51L392.22,957.35M394.35,958.12L399.68,960.04M400.99,960.51L403.75,961.5M405.76,962.23L413.45,965M414.91,965.52L421.94,968.05M424.38,968.93L431.39,971.46M433.17,972.1L439.57,974.4M441.06,974.94L446.27,976.81M447.59,977.29L454.45,979.76M455.83,980.25L461.1,982.15" stroke="#fff" stroke-width="1.5"/>
<path d="M368.2,953.87L374.43,956.12M375.95,956.66L381.83,958.78M384.14,959.61L388.22,961.08M389.44,961.52L395.12,963.56M397.17,964.3L402.71,966.3M403.74,966.67L408.76,968.48M410.7,969.17L418.25,971.89M419.66,972.4L424.01,973.96M425.56,974.52L432.02,976.85M433.46,977.37L440.23,979.8M442.05,980.46L447.95,982.58M449.1,983L456.39,985.62M458.09,986.23L461.1,987.32" stroke="#fff" stroke-width="1.31"/>
<path d="M368.2,961.16L375.01,963.61M377.48,964.5L381.96,966.11M384.44,967.01L391.06,969.39M393.21,970.16L400.57,972.81M401.84,973.27L404.51,974.23M405.72,974.67L413.4,977.43M415.16,978.07L417.67,978.97M419.66,979.68L426.57,982.17M427.92,982.66L433.16,984.55M434.54,985.04L439.87,986.96M441.31,987.48L445.63,989.03M447.57,989.73L454.12,992.09M456.61,992.99L460.54,994.4" stroke="#fff" stroke-width="2.32"/>
<path d="M368.2,966.73L373.03,968.47M374.5,969L379.73,970.88M381.96,971.69L389.47,974.39M391.92,975.27L396.59,976.96M398.07,977.49L401.55,978.74M403.43,979.42L407.8,980.99M408.9,981.39L413.04,982.87M415.23,983.66L421.54,985.93M423.46,986.63L427.67,988.14M429.93,988.96L434.99,990.78M436.46,991.31L440.43,992.73M442.01,993.31L446.78,995.02M448.27,995.56L453.25,997.35M454.93,997.96L459.4,999.56M460.7,1000.03L461.1,1000.18" stroke="#fff" stroke-width="1.71"/>
<path d="M368.2,974.2L376.03,977.02M377.77,977.65L380.35,978.58M382,979.17L386.02,980.62M387.03,980.98L394.03,983.5M396.07,984.24L403.95,987.08M405.49,987.63L413.26,990.43M415.67,991.29L421.53,993.4M423.37,994.07L427.15,995.43M429.22,996.17L434.54,998.09M436.6,998.83L440.3,1000.16M441.31,1000.52L444.75,1001.76M446.03,1002.22L451.9,1004.34M453.5,1004.91L459.2,1006.97" stroke="#fff" stroke-width="1.21"/>
<path d="M368.2,979.57L374.75,981.93M375.85,982.32L383.08,984.93M384.96,985.6L389.9,987.38M392.29,988.24L398.39,990.44M400.43,991.17L407.93,993.87M409.57,994.46L412.67,995.58M414.66,996.3L420.96,998.56M422.17,999L425.36,1000.15M427.54,1000.93L430.18,1001.88M431.4,1002.32L437.85,1004.64M440.29,1005.52L446.88,1007.89M448.82,1008.59L455.86,1011.13M457.41,1011.68L460.82,1012.91" stroke="#fff" stroke-width="1.8"/>
<rect x="420.43" y="923.52" width="1.2" height="1.1" fill="#fff"/>
<rect x="394.06" y="925.7" width="1.2" height="1.1" fill="#fff"/>
<rect x="395.21" y="945.79" width="1.2" height="1.1" fill="#fff"/>
<rect x="394.41" y="939.04" width="1.2" height="1.1" fill="#fff"/>
<rect x="431.79" y="928.39" width="1.2" height="1.1" fill="#fff"/>
<rect x="437.27" y="944.41" width="1.2" height="1.1" fill="#fff"/>
<rect x="401.04" y="950.65" width="1.2" height="1.1" fill="#fff"/>
<rect x="399.33" y="931.81" width="1.2" height="1.1" fill="#fff"/>
<rect x="429.35" y="948.76" width="1.2" height="1.1" fill="#fff"/>
<rect x="405.18" y="938.99" width="1.2" height="1.1" fill="#fff"/>
<rect x="385.16" y="917.38" width="1.2" height="1.1" fill="#fff"/>
<rect x="405.04" y="930.42" width="1.2" height="1.1" fill="#fff"/>
<rect x="408.19" y="900.54" width="1.2" height="1.1" fill="#fff"/>
<rect x="416.52" y="956.61" width="1.2" height="1.1" fill="#fff"/>
<rect x="412.2" y="949.39" width="1.2" height="1.1" fill="#fff"/>
<rect x="390.7" y="936.08" width="1.2" height="1.1" fill="#fff"/>
<rect x="419.46" y="935.29" width="1.2" height="1.1" fill="#fff"/>
<rect x="423.49" y="907.01" width="1.2" height="1.1" fill="#fff"/>
<rect x="421.84" y="932.18" width="1.2" height="1.1" fill="#fff"/>
<rect x="440.12" y="920.86" width="1.2" height="1.1" fill="#fff"/>
<rect x="399.17" y="939.73" width="1.2" height="1.1" fill="#fff"/>
<rect x="400.76" y="957.17" width="1.2" height="1.1" fill="#fff"/>
<rect x="428.07" y="941.01" width="1.2" height="1.1" fill="#fff"/>
<rect x="411.89" y="965.19" width="1.2" height="1.1" fill="#fff"/>
<rect x="423.73" y="920.92" width="1.2" height="1.1" fill="#fff"/>
<rect x="386.86" y="932.94" width="1.2" height="1.1" fill="#fff"/>
<rect x="430.46" y="937.29" width="1.2" height="1.1" fill="#fff"/>
<rect x="410.94" y="940.29" width="1.2" height="1.1" fill="#fff"/>
<rect x="377.97" y="922.99" width="1.2" height="1.1" fill="#fff"/>
<rect x="433.18" y="946" width="1.2" height="1.1" fill="#fff"/>
<rect x="413.46" y="947.96" width="1.2" height="1.1" fill="#fff"/>
<rect x="406.48" y="963.1" width="1.2" height="1.1" fill="#fff"/>
<rect x="421.06" y="893.23" width="1.2" height="1.1" fill="#fff"/>
<rect x="432.35" y="921.13" width="1.2" height="1.1" fill="#fff"/>
<rect x="433.25" y="937.05" width="1.2" height="1.1" fill="#fff"/>
<rect x="409.14" y="947.78" width="1.2" height="1.1" fill="#fff"/>
<rect x="412.92" y="968.18" width="1.2" height="1.1" fill="#fff"/>
<rect x="381.15" y="927.3" width="1.2" height="1.1" fill="#fff"/>
<rect x="381.4" y="921.92" width="1.2" height="1.1" fill="#fff"/>
<rect x="391.44" y="933.47" width="1.2" height="1.1" fill="#fff"/>
<rect x="401.79" y="958.55" width="1.2" height="1.1" fill="#fff"/>
<rect x="396.8" y="937.44" width="1.2" height="1.1" fill="#fff"/>
<rect x="406.01" y="958.17" width="1.2" height="1.1" fill="#fff"/>
<rect x="396.04" y="928.49" width="1.2" height="1.1" fill="#fff"/>
<rect x="418.27" y="889.52" width="1.2" height="1.1" fill="#fff"/>
<rect x="423.07" y="934.6" width="1.2" height="1.1" fill="#fff"/>
<rect x="400.17" y="939.82" width="1.2" height="1.1" fill="#fff"/>
<rect x="398.39" y="923.16" width="1.2" height="1.1" fill="#fff"/>
<rect x="436.61" y="932.89" width="1.2" height="1.1" fill="#fff"/>
<rect x="408.04" y="901.09" width="1.2" height="1.1" fill="#fff"/>
<rect x="411.07" y="944.81" width="1.2" height="1.1" fill="#fff"/>
<rect x="384.54" y="933.29" width="1.2" height="1.1" fill="#fff"/>
<rect x="416.49" y="888.7" width="1.2" height="1.1" fill="#fff"/>
<rect x="400.69" y="921.92" width="1.2" height="1.1" fill="#fff"/>
<rect x="385.37" y="914.65" width="1.2" height="1.1" fill="#fff"/>
<rect x="410.39" y="963.23" width="1.2" height="1.1" fill="#fff"/>
<rect x="408.07" y="962.24" width="1.2" height="1.1" fill="#fff"/>
<rect x="444.42" y="923.6" width="1.2" height="1.1" fill="#fff"/>
<rect x="417.81" y="901.37" width="1.2" height="1.1" fill="#fff"/>
<rect x="402.48" y="944.11" width="1.2" height="1.1" fill="#fff"/>
<rect x="408.35" y="944.27" width="1.2" height="1.1" fill="#fff"/>
<rect x="404.62" y="942.26" width="1.2" height="1.1" fill="#fff"/>
<rect x="385.15" y="931.87" width="1.2" height="1.1" fill="#fff"/>
<rect x="417.97" y="911.73" width="1.2" height="1.1" fill="#fff"/>
<rect x="407.07" y="942.93" width="1.2" height="1.1" fill="#fff"/>
<rect x="415.25" y="942.61" width="1.2" height="1.1" fill="#fff"/>
<rect x="418.1" y="914.87" width="1.2" height="1.1" fill="#fff"/>
<rect x="415.55" y="961.58" width="1.2" height="1.1" fill="#fff"/>
<rect x="397.17" y="944.59" width="1.2" height="1.1" fill="#fff"/>
<rect x="380.33" y="928.42" width="1.2" height="1.1" fill="#fff"/>
<rect x="397.55" y="953.06" width="1.2" height="1.1" fill="#fff"/>
<rect x="417.72" y="943.17" width="1.2" height="1.1" fill="#fff"/>
<rect x="398.03" y="949.34" width="1.2" height="1.1" fill="#fff"/>
<rect x="379.64" y="932.56" width="1.2" height="1.1" fill="#fff"/>
<rect x="401.76" y="909.37" width="1.2" height="1.1" fill="#fff"/>
<rect x="403.15" y="940.13" width="1.2" height="1.1" fill="#fff"/>
<rect x="420.39" y="895.93" width="1.2" height="1.1" fill="#fff"/>
<rect x="386.47" y="924.87" width="1.2" height="1.1" fill="#fff"/>
<rect x="404.19" y="956.35" width="1.2" height="1.1" fill="#fff"/>
<rect x="405.43" y="948.25" width="1.2" height="1.1" fill="#fff"/>
<rect x="400.38" y="958.88" width="1.2" height="1.1" fill="#fff"/>
<rect x="410.47" y="894.39" width="1.2" height="1.1" fill="#fff"/>
<rect x="395.04" y="928.56" width="1.2" height="1.1" fill="#fff"/>
<rect x="404.66" y="938.69" width="1.2" height="1.1" fill="#fff"/>
<rect x="418" y="966.63" width="1.2" height="1.1" fill="#fff"/>
<rect x="401.21" y="938.36" width="1.2" height="1.1" fill="#fff"/>
<rect x="401.8" y="955.66" width="1.2" height="1.1" fill="#fff"/>
<rect x="407.9" y="949.36" width="1.2" height="1.1" fill="#fff"/>
<rect x="424.99" y="957.8" width="1.2" height="1.1" fill="#fff"/>
<rect x="408.82" y="953.94" width="1.2" height="1.1" fill="#fff"/>
<rect x="397.78" y="932.73" width="1.2" height="1.1" fill="#fff"/>
<rect x="409.93" y="955.1" width="1.2" height="1.1" fill="#fff"/>
<rect x="395.39" y="945.56" width="1.2" height="1.1" fill="#fff"/>
<rect x="415.01" y="960.75" width="1.2" height="1.1" fill="#fff"/>
<rect x="393.93" y="929.51" width="1.2" height="1.1" fill="#fff"/>
<rect x="380.99" y="929.84" width="1.2" height="1.1" fill="#fff"/>
<rect x="411.78" y="926.49" width="1.2" height="1.1" fill="#fff"/>
<rect x="404.73" y="946.52" width="1.2" height="1.1" fill="#fff"/>
<rect x="411.09" y="966.3" width="1.2" height="1.1" fill="#fff"/>
<rect x="398.61" y="946.75" width="1.2" height="1.1" fill="#fff"/>
<rect x="437.28" y="911.94" width="1.2" height="1.1" fill="#fff"/>
<rect x="408.31" y="948.46" width="1.2" height="1.1" fill="#fff"/>
<rect x="391.5" y="922.35" width="1.2" height="1.1" fill="#fff"/>
<rect x="394.16" y="948.39" width="1.2" height="1.1" fill="#fff"/>
<rect x="420.02" y="949.66" width="1.2" height="1.1" fill="#fff"/>
<rect x="432.04" y="931.35" width="1.2" height="1.1" fill="#fff"/>
<rect x="389.68" y="921.05" width="1.2" height="1.1" fill="#fff"/>
<rect x="401.39" y="947.52" width="1.2" height="1.1" fill="#fff"/>
<rect x="426.95" y="939.64" width="1.2" height="1.1" fill="#fff"/>
<rect x="404.93" y="948.29" width="1.2" height="1.1" fill="#fff"/>
<rect x="400.28" y="932.57" width="1.2" height="1.1" fill="#fff"/>
<rect x="445.3" y="931.89" width="1.2" height="1.1" fill="#fff"/>
<rect x="406" y="940.9" width="1.2" height="1.1" fill="#fff"/>
<rect x="438.04" y="923.97" width="1.2" height="1.1" fill="#fff"/>
<rect x="402.84" y="937.62" width="1.2" height="1.1" fill="#fff"/>
<rect x="394.88" y="920.01" width="1.2" height="1.1" fill="#fff"/>
<rect x="426.64" y="956.46" width="1.2" height="1.1" fill="#fff"/>
<rect x="408.89" y="958.07" width="1.2" height="1.1" fill="#fff"/>
<rect x="373.79" y="925.56" width="1.2" height="1.1" fill="#fff"/>
<rect x="394.9" y="937.67" width="1.2" height="1.1" fill="#fff"/>
<rect x="431.19" y="911.58" width="1.2" height="1.1" fill="#fff"/>
<rect x="410.93" y="969.27" width="1.2" height="1.1" fill="#fff"/>
<rect x="436.84" y="920.7" width="1.2" height="1.1" fill="#fff"/>
<rect x="412.97" y="950.96" width="1.2" height="1.1" fill="#fff"/>
<rect x="383.03" y="932.22" width="1.2" height="1.1" fill="#fff"/>
<rect x="427.05" y="912.52" width="1.2" height="1.1" fill="#fff"/>
<rect x="402.62" y="920.46" width="1.2" height="1.1" fill="#fff"/>
<rect x="387" y="914.37" width="1.2" height="1.1" fill="#fff"/>
<rect x="414.8" y="944.5" width="1.2" height="1.1" fill="#fff"/>
<rect x="416.5" y="965.94" width="1.2" height="1.1" fill="#fff"/>
<rect x="424.67" y="946.26" width="1.2" height="1.1" fill="#fff"/>
<rect x="411.99" y="910.18" width="1.2" height="1.1" fill="#fff"/>
<rect x="388.49" y="934.64" width="1.2" height="1.1" fill="#fff"/>
<rect x="421.35" y="953.38" width="1.2" height="1.1" fill="#fff"/>
<rect x="411.19" y="901.35" width="1.2" height="1.1" fill="#fff"/>
<rect x="397.38" y="915.35" width="1.2" height="1.1" fill="#fff"/>
<rect x="415.98" y="957.23" width="1.2" height="1.1" fill="#fff"/>
<rect x="393.28" y="945.09" width="1.2" height="1.1" fill="#fff"/>
<rect x="437.6" y="947.46" width="1.2" height="1.1" fill="#fff"/>
<rect x="393.03" y="948.95" width="1.2" height="1.1" fill="#fff"/>
<rect x="391.45" y="934.53" width="1.2" height="1.1" fill="#fff"/>
<rect x="421.48" y="961.91" width="1.2" height="1.1" fill="#fff"/>
<rect x="441.54" y="940.43" width="1.2" height="1.1" fill="#fff"/>
<rect x="391.2" y="941.74" width="1.2" height="1.1" fill="#fff"/>
<rect x="393.55" y="946.78" width="1.2" height="1.1" fill="#fff"/>
<rect x="407.06" y="913.11" width="1.2" height="1.1" fill="#fff"/>
<rect x="388.12" y="929.48" width="1.2" height="1.1" fill="#fff"/>
<rect x="432.97" y="917.22" width="1.2" height="1.1" fill="#fff"/>
<rect x="451.04" y="937.91" width="1.2" height="1.1" fill="#fff"/>
<rect x="417.32" y="890.65" width="1.2" height="1.1" fill="#fff"/>
<rect x="409.68" y="947.1" width="1.2" height="1.1" fill="#fff"/>
<rect x="406.1" y="955.6" width="1.2" height="1.1" fill="#fff"/>
<rect x="400.61" y="956.75" width="1.2" height="1.1" fill="#fff"/>
<rect x="427.04" y="932.83" width="1.2" height="1.1" fill="#fff"/>
<rect x="403.49" y="950.79" width="1.2" height="1.1" fill="#fff"/>
<rect x="394.24" y="942.35" width="1.2" height="1.1" fill="#fff"/>
<rect x="416.5" y="957.26" width="1.2" height="1.1" fill="#fff"/>
<rect x="414.21" y="951.12" width="1.2" height="1.1" fill="#fff"/>
<rect x="405.71" y="964.73" width="1.2" height="1.1" fill="#fff"/>
<rect x="384.54" y="923.62" width="1.2" height="1.1" fill="#fff"/>
<rect x="425.15" y="903.2" width="1.2" height="1.1" fill="#fff"/>
<rect x="434.11" y="950.75" width="1.2" height="1.1" fill="#fff"/>
<rect x="407.5" y="941.72" width="1.2" height="1.1" fill="#fff"/>
<rect x="400.05" y="928.23" width="1.2" height="1.1" fill="#fff"/>
<rect x="402.26" y="955.47" width="1.2" height="1.1" fill="#fff"/>
<rect x="436.93" y="947.53" width="1.2" height="1.1" fill="#fff"/>
<rect x="409.4" y="950.96" width="1.2" height="1.1" fill="#fff"/>
<rect x="383.76" y="937.56" width="1.2" height="1.1" fill="#fff"/>
<rect x="377.28" y="924.17" width="1.2" height="1.1" fill="#fff"/>
<rect x="381.09" y="933.45" width="1.2" height="1.1" fill="#fff"/>
</g>
<line x1="385.27" y1="914.52" x2="423.47" y2="963.12" stroke="#1fe01f" stroke-width="1.5" />
<line x1="389.52" y1="919.92" x2="391.72" y2="922.72" stroke="#e8201a" stroke-width="1.7" />
<rect x="390.42" y="921.82" width="1.2" height="5.95" fill="#f0c830" stroke="none" stroke-width="1" rx="0" />
<rect x="391.62" y="922.52" width="1" height="4.95" fill="#2f8fd0" stroke="none" stroke-width="1" rx="0" />
<rect x="389.42" y="921.52" width="1" height="3.95" fill="#a01818" stroke="none" stroke-width="1" rx="0" />
<line x1="395.63" y1="927.7" x2="397.83" y2="930.5" stroke="#e8201a" stroke-width="1.7" />
<rect x="396.53" y="929.6" width="1.2" height="6.87" fill="#2f8fd0" stroke="none" stroke-width="1" rx="0" />
<rect x="397.73" y="930.3" width="1" height="5.87" fill="#a01818" stroke="none" stroke-width="1" rx="0" />
<rect x="395.53" y="929.3" width="1" height="4.87" fill="#f0c830" stroke="none" stroke-width="1" rx="0" />
<line x1="401.74" y1="935.47" x2="403.94" y2="938.27" stroke="#e8201a" stroke-width="1.7" />
<rect x="402.64" y="937.37" width="1.2" height="5.61" fill="#a01818" stroke="none" stroke-width="1" rx="0" />
<rect x="403.84" y="938.07" width="1" height="4.61" fill="#f0c830" stroke="none" stroke-width="1" rx="0" />
<rect x="401.64" y="937.07" width="1" height="3.61" fill="#2f8fd0" stroke="none" stroke-width="1" rx="0" />
<line x1="407.85" y1="943.25" x2="410.05" y2="946.05" stroke="#e8201a" stroke-width="1.7" />
<rect x="408.75" y="945.15" width="1.2" height="6.42" fill="#e88a20" stroke="none" stroke-width="1" rx="0" />
<rect x="409.95" y="945.85" width="1" height="5.42" fill="#a01818" stroke="none" stroke-width="1" rx="0" />
<rect x="407.75" y="944.85" width="1" height="4.42" fill="#d02a1a" stroke="none" stroke-width="1" rx="0" />
<line x1="413.96" y1="951.02" x2="416.17" y2="953.82" stroke="#e8201a" stroke-width="1.7" />
<rect x="414.87" y="952.92" width="1.2" height="6.05" fill="#e88a20" stroke="none" stroke-width="1" rx="0" />
<rect x="416.06" y="953.62" width="1" height="5.05" fill="#d02a1a" stroke="none" stroke-width="1" rx="0" />
<rect x="413.87" y="952.62" width="1" height="4.05" fill="#2f8fd0" stroke="none" stroke-width="1" rx="0" />
<line x1="419.69" y1="958.31" x2="421.9" y2="961.11" stroke="#e8201a" stroke-width="1.7" />
<rect x="420.6" y="960.21" width="1.2" height="5.13" fill="#2f8fd0" stroke="none" stroke-width="1" rx="0" />
<rect x="421.8" y="960.91" width="1" height="4.13" fill="#d02a1a" stroke="none" stroke-width="1" rx="0" />
<rect x="419.6" y="959.91" width="1" height="3.13" fill="#f0c830" stroke="none" stroke-width="1" rx="0" />
<polygon points="420.97,960.12 423.77,963.12 423.77,971.62 420.97,968.62" fill="#b01c18" stroke="none" stroke-width="1" />
<line x1="422.27" y1="961.62" x2="422.27" y2="970.12" stroke="#f0c020" stroke-width="0.6" />
<line x1="421.47" y1="960.92" x2="421.47" y2="969.42" stroke="#3090d0" stroke-width="0.5" />
<line x1="396.44" y1="904.72" x2="434.64" y2="953.32" stroke="#1fe01f" stroke-width="1.5" />
<line x1="400.69" y1="910.12" x2="402.89" y2="912.92" stroke="#e8201a" stroke-width="1.7" />
<rect x="401.59" y="912.02" width="1.2" height="7.32" fill="#a01818" stroke="none" stroke-width="1" rx="0" />
<rect x="402.79" y="912.72" width="1" height="6.32" fill="#2f8fd0" stroke="none" stroke-width="1" rx="0" />
<rect x="400.59" y="911.72" width="1" height="5.32" fill="#e88a20" stroke="none" stroke-width="1" rx="0" />
<line x1="406.8" y1="917.9" x2="409" y2="920.7" stroke="#e8201a" stroke-width="1.7" />
<rect x="407.7" y="919.8" width="1.2" height="5.97" fill="#a01818" stroke="none" stroke-width="1" rx="0" />
<rect x="408.9" y="920.5" width="1" height="4.97" fill="#e88a20" stroke="none" stroke-width="1" rx="0" />
<rect x="406.7" y="919.5" width="1" height="3.97" fill="#d02a1a" stroke="none" stroke-width="1" rx="0" />
<line x1="412.92" y1="925.67" x2="415.12" y2="928.47" stroke="#e8201a" stroke-width="1.7" />
<rect x="413.82" y="927.57" width="1.2" height="4.21" fill="#e88a20" stroke="none" stroke-width="1" rx="0" />
<rect x="415.02" y="928.27" width="1" height="3.21" fill="#a01818" stroke="none" stroke-width="1" rx="0" />
<rect x="412.82" y="927.27" width="1" height="2.21" fill="#2f8fd0" stroke="none" stroke-width="1" rx="0" />
<line x1="419.03" y1="933.45" x2="421.23" y2="936.25" stroke="#e8201a" stroke-width="1.7" />
<rect x="419.93" y="935.35" width="1.2" height="5.11" fill="#e88a20" stroke="none" stroke-width="1" rx="0" />
<rect x="421.13" y="936.05" width="1" height="4.11" fill="#d02a1a" stroke="none" stroke-width="1" rx="0" />
<rect x="418.93" y="935.05" width="1" height="3.11" fill="#f0c830" stroke="none" stroke-width="1" rx="0" />
<line x1="425.14" y1="941.22" x2="427.34" y2="944.02" stroke="#e8201a" stroke-width="1.7" />
<rect x="426.04" y="943.12" width="1.2" height="5.03" fill="#2f8fd0" stroke="none" stroke-width="1" rx="0" />
<rect x="427.24" y="943.82" width="1" height="4.03" fill="#e88a20" stroke="none" stroke-width="1" rx="0" />
<rect x="425.04" y="942.82" width="1" height="3.03" fill="#a01818" stroke="none" stroke-width="1" rx="0" />
<line x1="430.87" y1="948.51" x2="433.07" y2="951.31" stroke="#e8201a" stroke-width="1.7" />
<rect x="431.77" y="950.41" width="1.2" height="4.72" fill="#e88a20" stroke="none" stroke-width="1" rx="0" />
<rect x="432.97" y="951.11" width="1" height="3.72" fill="#2f8fd0" stroke="none" stroke-width="1" rx="0" />
<rect x="430.77" y="950.11" width="1" height="2.72" fill="#a01818" stroke="none" stroke-width="1" rx="0" />
<polygon points="432.14,950.32 434.94,953.32 434.94,961.82 432.14,958.82" fill="#b01c18" stroke="none" stroke-width="1" />
<line x1="433.44" y1="951.82" x2="433.44" y2="960.32" stroke="#f0c020" stroke-width="0.6" />
<line x1="432.64" y1="951.12" x2="432.64" y2="959.62" stroke="#3090d0" stroke-width="0.5" />
<line x1="407.84" y1="894.72" x2="446.04" y2="943.32" stroke="#1fe01f" stroke-width="1.5" />
<line x1="412.09" y1="900.12" x2="414.29" y2="902.92" stroke="#e8201a" stroke-width="1.7" />
<rect x="412.99" y="902.02" width="1.2" height="6.56" fill="#f0c830" stroke="none" stroke-width="1" rx="0" />
<rect x="414.19" y="902.72" width="1" height="5.56" fill="#a01818" stroke="none" stroke-width="1" rx="0" />
<rect x="411.99" y="901.72" width="1" height="4.56" fill="#2f8fd0" stroke="none" stroke-width="1" rx="0" />
<line x1="418.2" y1="907.9" x2="420.4" y2="910.7" stroke="#e8201a" stroke-width="1.7" />
<rect x="419.1" y="909.8" width="1.2" height="7.47" fill="#e88a20" stroke="none" stroke-width="1" rx="0" />
<rect x="420.3" y="910.5" width="1" height="6.47" fill="#2f8fd0" stroke="none" stroke-width="1" rx="0" />
<rect x="418.1" y="909.5" width="1" height="5.47" fill="#a01818" stroke="none" stroke-width="1" rx="0" />
<line x1="424.31" y1="915.68" x2="426.51" y2="918.48" stroke="#e8201a" stroke-width="1.7" />
<rect x="425.21" y="917.58" width="1.2" height="4.05" fill="#a01818" stroke="none" stroke-width="1" rx="0" />
<rect x="426.41" y="918.28" width="1" height="3.05" fill="#e88a20" stroke="none" stroke-width="1" rx="0" />
<rect x="424.21" y="917.28" width="1" height="2.05" fill="#f0c830" stroke="none" stroke-width="1" rx="0" />
<line x1="430.43" y1="923.45" x2="432.63" y2="926.25" stroke="#e8201a" stroke-width="1.7" />
<rect x="431.33" y="925.35" width="1.2" height="7.87" fill="#a01818" stroke="none" stroke-width="1" rx="0" />
<rect x="432.53" y="926.05" width="1" height="6.87" fill="#f0c830" stroke="none" stroke-width="1" rx="0" />
<rect x="430.33" y="925.05" width="1" height="5.87" fill="#2f8fd0" stroke="none" stroke-width="1" rx="0" />
<line x1="436.54" y1="931.23" x2="438.74" y2="934.03" stroke="#e8201a" stroke-width="1.7" />
<rect x="437.44" y="933.13" width="1.2" height="5.03" fill="#a01818" stroke="none" stroke-width="1" rx="0" />
<rect x="438.64" y="933.83" width="1" height="4.03" fill="#e88a20" stroke="none" stroke-width="1" rx="0" />
<rect x="436.44" y="932.83" width="1" height="3.03" fill="#f0c830" stroke="none" stroke-width="1" rx="0" />
<line x1="442.27" y1="938.52" x2="444.47" y2="941.32" stroke="#e8201a" stroke-width="1.7" />
<rect x="443.17" y="940.42" width="1.2" height="6.68" fill="#e88a20" stroke="none" stroke-width="1" rx="0" />
<rect x="444.37" y="941.12" width="1" height="5.68" fill="#2f8fd0" stroke="none" stroke-width="1" rx="0" />
<rect x="442.17" y="940.12" width="1" height="4.68" fill="#a01818" stroke="none" stroke-width="1" rx="0" />
<polygon points="443.54,940.32 446.34,943.32 446.34,951.82 443.54,948.82" fill="#b01c18" stroke="none" stroke-width="1" />
<line x1="444.84" y1="941.82" x2="444.84" y2="950.32" stroke="#f0c020" stroke-width="0.6" />
<line x1="444.04" y1="941.12" x2="444.04" y2="949.62" stroke="#3090d0" stroke-width="0.5" />
<text x="86.9" y="881.8" font-size="13.5" text-anchor="middle" font-weight="normal" fill="#111" >Main lane 1</text>
<text x="43.5" y="927.8" font-size="13" text-anchor="end" font-weight="normal" fill="#262626" >60</text>
<text x="43.5" y="936" font-size="13" text-anchor="end" font-weight="normal" fill="#262626" >0</text>
<text x="31.7" y="950.3" font-size="13" text-anchor="middle" font-weight="normal" fill="#262626" >400</text>
<text x="51.1" y="974.2" font-size="13" text-anchor="middle" font-weight="normal" fill="#262626" >500</text>
<text x="69.5" y="998.4" font-size="13" text-anchor="middle" font-weight="normal" fill="#262626" >600</text>
<text x="112.4" y="989.2" font-size="13" text-anchor="middle" font-weight="normal" fill="#262626" >1000</text>
<text x="133.8" y="969.6" font-size="13" text-anchor="middle" font-weight="normal" fill="#262626" >3000</text>
<text x="195.9" y="881.8" font-size="13.5" text-anchor="middle" font-weight="normal" fill="#111" >Main lane 2</text>
<text x="152.5" y="927.8" font-size="13" text-anchor="end" font-weight="normal" fill="#262626" >60</text>
<text x="152.5" y="936" font-size="13" text-anchor="end" font-weight="normal" fill="#262626" >0</text>
<text x="140.7" y="950.3" font-size="13" text-anchor="middle" font-weight="normal" fill="#262626" >400</text>
<text x="160.1" y="974.2" font-size="13" text-anchor="middle" font-weight="normal" fill="#262626" >500</text>
<text x="178.5" y="998.4" font-size="13" text-anchor="middle" font-weight="normal" fill="#262626" >600</text>
<text x="221.4" y="989.2" font-size="13" text-anchor="middle" font-weight="normal" fill="#262626" >1000</text>
<text x="242.8" y="969.6" font-size="13" text-anchor="middle" font-weight="normal" fill="#262626" >3000</text>
<text x="304.9" y="881.8" font-size="13.5" text-anchor="middle" font-weight="normal" fill="#111" >Main lane 3</text>
<text x="261.5" y="927.8" font-size="13" text-anchor="end" font-weight="normal" fill="#262626" >60</text>
<text x="261.5" y="936" font-size="13" text-anchor="end" font-weight="normal" fill="#262626" >0</text>
<text x="249.7" y="950.3" font-size="13" text-anchor="middle" font-weight="normal" fill="#262626" >400</text>
<text x="269.1" y="974.2" font-size="13" text-anchor="middle" font-weight="normal" fill="#262626" >500</text>
<text x="287.5" y="998.4" font-size="13" text-anchor="middle" font-weight="normal" fill="#262626" >600</text>
<text x="330.4" y="989.2" font-size="13" text-anchor="middle" font-weight="normal" fill="#262626" >1000</text>
<text x="351.8" y="969.6" font-size="13" text-anchor="middle" font-weight="normal" fill="#262626" >3000</text>
<text x="413.9" y="881.8" font-size="13.5" text-anchor="middle" font-weight="normal" fill="#111" >Main lane 4</text>
<text x="370.5" y="927.8" font-size="13" text-anchor="end" font-weight="normal" fill="#262626" >60</text>
<text x="370.5" y="936" font-size="13" text-anchor="end" font-weight="normal" fill="#262626" >0</text>
<text x="358.7" y="950.3" font-size="13" text-anchor="middle" font-weight="normal" fill="#262626" >400</text>
<text x="378.1" y="974.2" font-size="13" text-anchor="middle" font-weight="normal" fill="#262626" >500</text>
<text x="396.5" y="998.4" font-size="13" text-anchor="middle" font-weight="normal" fill="#262626" >600</text>
<text x="439.4" y="989.2" font-size="13" text-anchor="middle" font-weight="normal" fill="#262626" >1000</text>
<text x="460.8" y="969.6" font-size="13" text-anchor="middle" font-weight="normal" fill="#262626" >3000</text>
<text x="9.7" y="992.5" font-size="13.5" text-anchor="start" font-weight="normal" fill="#262626" >Time (s)</text>
<text x="434.2" y="996.3" font-size="13.5" text-anchor="start" font-weight="normal" fill="#262626" >Position (m)</text>
<text transform="translate(18 930) rotate(-90)" text-anchor="middle" font-size="13.8" fill="#262626">Speed (km·h<tspan dy="-6.1" font-size="9.7">-1</tspan><tspan dy="6.1">)</tspan></text>
<rect x="489.4" y="902.2" width="4.3" height="65.8" fill="url(#cbj2)" stroke="none" stroke-width="1" rx="0" />
<text x="496.2" y="906.1" font-size="11" text-anchor="start" font-weight="normal" fill="#262626" >60</text>
<text x="496.2" y="928.3" font-size="11" text-anchor="start" font-weight="normal" fill="#262626" >40</text>
<text x="496.2" y="950.5" font-size="11" text-anchor="start" font-weight="normal" fill="#262626" >20</text>
<text x="496.2" y="971.9" font-size="11" text-anchor="start" font-weight="normal" fill="#262626" >0</text>
<text x="443.6" y="895.8" font-size="11.8" fill="#262626">Unit: km·h<tspan dy="-4.4" font-size="8.2">-1</tspan></text>
<rect x="536.6" y="887.9" width="129.5" height="66" fill="#fff" stroke="none" stroke-width="1" rx="0" />
<line x1="536.6" y1="904.6" x2="666.1" y2="904.6" stroke="#aaf6f6" stroke-width="0.9" />
<line x1="536.6" y1="920.8" x2="666.1" y2="920.8" stroke="#aaf6f6" stroke-width="0.9" />
<line x1="536.6" y1="937.5" x2="666.1" y2="937.5" stroke="#aaf6f6" stroke-width="0.9" />
<polyline points="555.7,953.9 555.63,953.3 555.62,952.7 556.26,952.1 556.04,951.5 556.17,950.9 556.11,950.3 556.01,949.7 556.34,949.1 556.26,948.5 556.46,947.9 556.41,947.3 556.6,946.7 556.32,946.1 556.14,945.5 556.18,944.9 556.68,944.3 556.28,943.7 556.71,943.1 556.73,942.5 556.32,941.9 556.95,941.3 556.39,940.7 557,939.5 559,938.6 580.7,937.6 566,937.2 560,936.6 558.38,936.2 558.44,935.6 557.07,935 558.42,934.4 558.56,933.8 557.23,933.2 558.66,932.6 557.47,932 559.49,931.4 559.08,930.8 559.9,930.2 557.8,929.6 562,928.5 564,927.5 561,926.8 559,926 559.45,925.5 560.96,924.9 561.52,924.3 560.85,923.7 563.56,923.1 568,921.8 575.4,921 566,920.4 570,919.8 563,919 562.61,918.5 561.04,917.9 560.71,917.3 562.55,916.7 561.89,916.1 562.88,915.5 562.5,914.9 562.36,914.3 561.34,913.7 561.87,913.1 563.07,912.5 564.11,911.9 563.31,911.3 564.5,910.7 564.02,910.1 565.28,909.5 564.73,908.9 563.83,908.3 563.42,907.7 563.35,907.1 563.44,906.5 567,905.8 576,905.2 589.2,904.6 570,904.1 566,903.5 566.37,903 566.55,902.4 566.4,901.8 565.01,901.2 566.49,900.6 565.36,900 567.33,899.4 566.92,898.8 567.3,898.2 567.11,897.6 570,896.5 572.4,895.5 572,894 567,893.2 564.87,892.8 565.74,892.2 566.11,891.6 565.14,891 565.63,890.4 566.29,889.8 566.39,889.2 566.14,888.6 566.39,888" fill="none" stroke="#4862b6" stroke-width="1.3" stroke-linejoin="round"/>
<polyline points="657.2,953.9 657.2,944 655,942.5 648,941.8 626,940.7 643,940.1 622,939.4 634,938.8 618.8,938.1 640,937.6 656.5,937.1 657.2,936.3 657.2,927.3 655,925.8 648,925.1 626,924 643,923.4 622,922.7 634,922.1 618.8,921.4 640,920.9 656.5,920.4 657.2,919.6 657.2,911.1 655,909.6 648,908.9 626,907.8 643,907.2 622,906.5 634,905.9 618.8,905.2 640,904.7 656.5,904.2 657.2,903.4 657.2,887.9" fill="none" stroke="#3c9fbf" stroke-width="1.3" stroke-linejoin="round"/>
<polygon points="620,938.1 640,940.5 652,941.8 640,938.7" fill="#3c9fbf" stroke="none" stroke-width="1" opacity="0.75"/>
<polygon points="620,921.4 640,923.8 652,925.1 640,922" fill="#3c9fbf" stroke="none" stroke-width="1" opacity="0.75"/>
<polygon points="620,905.2 640,907.6 652,908.9 640,905.8" fill="#3c9fbf" stroke="none" stroke-width="1" opacity="0.75"/>
<line x1="601" y1="887.9" x2="601" y2="953.9" stroke="#262626" stroke-width="0.6" />
<rect x="536.6" y="887.9" width="129.5" height="66" fill="none" stroke="#262626" stroke-width="0.6" rx="0" />
<line x1="556.2" y1="953.9" x2="556.2" y2="952.1" stroke="#262626" stroke-width="0.6" />
<line x1="556.2" y1="887.9" x2="556.2" y2="889.7" stroke="#262626" stroke-width="0.6" />
<line x1="584.8" y1="953.9" x2="584.8" y2="952.1" stroke="#262626" stroke-width="0.6" />
<line x1="584.8" y1="887.9" x2="584.8" y2="889.7" stroke="#262626" stroke-width="0.6" />
<line x1="605.2" y1="953.9" x2="605.2" y2="952.1" stroke="#262626" stroke-width="0.6" />
<line x1="605.2" y1="887.9" x2="605.2" y2="889.7" stroke="#262626" stroke-width="0.6" />
<line x1="622.3" y1="953.9" x2="622.3" y2="952.1" stroke="#262626" stroke-width="0.6" />
<line x1="622.3" y1="887.9" x2="622.3" y2="889.7" stroke="#262626" stroke-width="0.6" />
<line x1="639.4" y1="953.9" x2="639.4" y2="952.1" stroke="#262626" stroke-width="0.6" />
<line x1="639.4" y1="887.9" x2="639.4" y2="889.7" stroke="#262626" stroke-width="0.6" />
<line x1="656.4" y1="953.9" x2="656.4" y2="952.1" stroke="#262626" stroke-width="0.6" />
<line x1="656.4" y1="887.9" x2="656.4" y2="889.7" stroke="#262626" stroke-width="0.6" />
<text x="555.4" y="968" font-size="11.7" text-anchor="middle" font-weight="normal" fill="#262626" >0.95</text>
<text x="582.4" y="968" font-size="11.7" text-anchor="middle" font-weight="normal" fill="#262626" >1.05</text>
<text x="605.3" y="968" font-size="11.7" text-anchor="middle" font-weight="normal" fill="#262626" >0</text>
<text x="622.9" y="968" font-size="11.7" text-anchor="middle" font-weight="normal" fill="#262626" >20</text>
<text x="639.1" y="968" font-size="11.7" text-anchor="middle" font-weight="normal" fill="#262626" >40</text>
<text x="656.6" y="968" font-size="11.7" text-anchor="middle" font-weight="normal" fill="#262626" >60</text>
<line x1="536.6" y1="953.9" x2="538.4" y2="953.9" stroke="#262626" stroke-width="0.6" />
<text x="533.8" y="958" font-size="11.6" text-anchor="end" font-weight="normal" fill="#262626" >0</text>
<line x1="536.6" y1="920.9" x2="538.4" y2="920.9" stroke="#262626" stroke-width="0.6" />
<text x="533.8" y="925" font-size="11.6" text-anchor="end" font-weight="normal" fill="#262626" >2</text>
<line x1="536.6" y1="887.9" x2="538.4" y2="887.9" stroke="#262626" stroke-width="0.6" />
<text x="533.8" y="892" font-size="11.6" text-anchor="end" font-weight="normal" fill="#262626" >4</text>
<text x="536.6" y="885.7" font-size="12.6" fill="#262626"><tspan font-size="10.5">×</tspan>10<tspan dy="-4.8" font-size="8.8">3</tspan></text>
<rect x="594.5" y="877.2" width="11.8" height="7.1" fill="#5ff0f0" stroke="none" stroke-width="1" rx="0" />
<text x="606.3" y="884.3" font-size="10.6" text-anchor="start" font-weight="normal" fill="#111" >Intersection</text>
<text x="523" y="981.3" font-size="12.6" text-anchor="start" font-weight="normal" fill="#262626" >Flow rate</text>
<text x="575.6" y="981.3" font-size="12.6" fill="#262626"><tspan font-size="10">×</tspan>10<tspan dy="-4.8" font-size="8.8">4</tspan></text>
<text x="599.9" y="981.3" font-size="12.6" text-anchor="start" font-weight="normal" fill="#262626" >Average speed</text>
<text x="523.8" y="998.8" font-size="12.6" fill="#262626">(veh·h<tspan dy="-4.8" font-size="8.8">-1</tspan><tspan dy="4.8">)</tspan></text>
<text x="621" y="998.8" font-size="12.6" fill="#262626">(km·h<tspan dy="-5.5" font-size="8.8">-1</tspan><tspan dy="5.5">)</tspan></text>
<text x="521.5" y="919" font-size="12.6" text-anchor="middle" font-weight="normal" fill="#262626" transform="rotate(-90 521.5 919)">Position (m)</text>
</svg></body></html>
